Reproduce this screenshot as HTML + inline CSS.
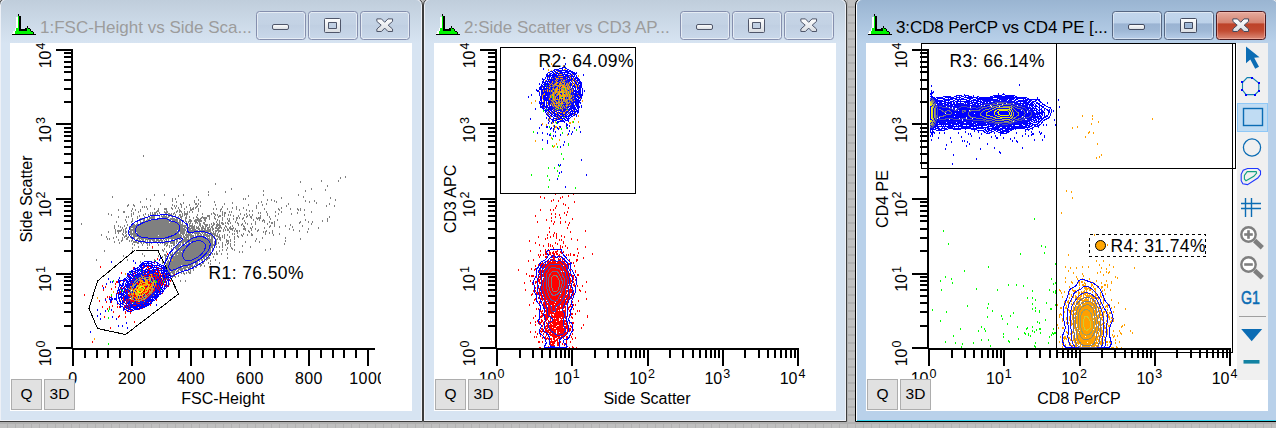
<!DOCTYPE html><html><head><meta charset="utf-8"><title>plots</title><style>
html,body{margin:0;padding:0}
body{width:1276px;height:428px;overflow:hidden;position:relative;
 font-family:"Liberation Sans", sans-serif;
 background-color:#c0c0c0;
 background-image:linear-gradient(to right,transparent 7px,#b1b1b1 7px),linear-gradient(to bottom,transparent 6px,#b1b1b1 6px);
 background-size:8px 8px;}
.win{position:absolute;top:-2px;width:422px;height:422px;border:1px solid #3c3c3c;border-radius:7px 7px 0 0;
 box-shadow:inset 0 0 0 1px #eef1f7;overflow:hidden;
 background:linear-gradient(to bottom,#bfcddb 0px,#d7e4f2 44px,#d7e4f2 100%);}
.win.act{border-color:#000;background:linear-gradient(to bottom,#99b4d1 0px,#b9d1ea 44px,#b9d1ea 100%);
 box-shadow:inset 0 0 0 1px #fff;}
.win.act:after{content:"";position:absolute;left:1px;right:0;bottom:0;height:1px;background:#35d6ee}
.client{position:absolute;left:10px;top:44px;width:402px;height:368px;background:#fff}
.ttl{position:absolute;left:40px;top:17px;font-size:17px;line-height:24px;color:#9c9c9c;white-space:nowrap;
 transform-origin:0 50%;}
.act .ttl{color:#000}
.cb{position:absolute;top:12px;width:48px;height:27px;border:1px solid #858fae;border-radius:3.5px;
 box-shadow:inset 0 0 0 1px rgba(255,255,255,.55);
 background:linear-gradient(to bottom,#c6d4e6 0%,#c3d2e4 45%,#c0cfe2 50%,#c9d8ea 100%);}
.act .cb{border-color:#566783;box-shadow:inset 0 0 0 1px rgba(255,255,255,.45);
 background:linear-gradient(to bottom,#c3d6ec 0%,#bcd1e9 42%,#9ab3d2 43%,#9fb8d6 70%,#b7cde8 100%);}
.act .cb.x{border-color:#4d1a20;box-shadow:inset 0 0 0 1px rgba(255,200,190,.5);
 background:linear-gradient(to bottom,#e5ab9e 0%,#d5826f 42%,#bd4228 43%,#c24b32 70%,#db8a78 100%);}
.pb{position:absolute;top:379px;width:29px;height:29px;border:1px solid #adadad;background:#e1e1e1;
 font-size:15.5px;line-height:28px;text-align:center;color:#000}
svg{position:absolute;left:0;top:0}
</style></head><body>
<div class="win" style="left:-1px">
<div class="client"></div>
<div class="ttl">1:FSC-Height vs Side Sca...</div>
<div class="cb" style="left:256px"></div>
<div class="cb" style="left:308px"></div>
<div class="cb x" style="left:360px"></div>
</div>
<div class="win" style="left:423px">
<div class="client"></div>
<div class="ttl">2:Side Scatter vs CD3 AP...</div>
<div class="cb" style="left:256px"></div>
<div class="cb" style="left:308px"></div>
<div class="cb x" style="left:360px"></div>
</div>
<div class="win act" style="left:855px">
<div class="client"></div>
<div class="ttl" style="letter-spacing:-0.1px">3:CD8 PerCP vs CD4 PE [...</div>
<div class="cb" style="left:256px"></div>
<div class="cb" style="left:308px"></div>
<div class="cb x" style="left:360px"></div>
</div>
<div style="position:absolute;left:1237px;top:43px;width:31px;height:337px;background:#f0f0f0"></div>
<div style="position:absolute;left:1237px;top:103px;width:29px;height:27px;border:1px solid #90c8f6;background:#c0dcf3"></div>
<svg width="1276" height="428" viewBox="0 0 1276 428" font-family='"Liberation Sans", sans-serif' fill="#000">
<defs><linearGradient id="gw" x1="0" y1="0" x2="0" y2="1"><stop offset="0" stop-color="#ffffff"/><stop offset="1" stop-color="#d9dde2"/></linearGradient>
<clipPath id="c0"><rect x="10" y="43" width="402" height="368"/></clipPath>
<clipPath id="c1"><rect x="434" y="43" width="402" height="368"/></clipPath>
<clipPath id="c2"><rect x="866" y="43" width="402" height="368"/></clipPath>
<clipPath id="c0l"><rect x="10" y="43" width="371" height="368"/></clipPath>
</defs>
<g shape-rendering="crispEdges"><rect x="16" y="17" width="2" height="11" fill="#fff"/><rect x="15" y="28" width="1" height="3" fill="#fff"/><rect x="13" y="31" width="2" height="3" fill="#fff"/><rect x="12" y="33" width="1" height="1" fill="#fff"/><rect x="18" y="16" width="1" height="18" fill="#00f400"/><rect x="16" y="28" width="2" height="6" fill="#00f400"/><rect x="15" y="31" width="1" height="3" fill="#00f400"/><rect x="19" y="31" width="12" height="3" fill="#00f400"/><rect x="27" y="28" width="3" height="3" fill="#00f400"/><rect x="31" y="32" width="2" height="2" fill="#00f400"/><rect x="18" y="14" width="1" height="2" fill="#000"/><rect x="19" y="16" width="2" height="15" fill="#000"/><rect x="21" y="29" width="6" height="2" fill="#000"/><rect x="25" y="28" width="2" height="1" fill="#000"/><rect x="27" y="26" width="1" height="2" fill="#000"/><rect x="28" y="28" width="2" height="1" fill="#000"/><rect x="30" y="29" width="1" height="2" fill="#000"/><rect x="31" y="31" width="2" height="1" fill="#000"/><rect x="33" y="32" width="1" height="2" fill="#000"/><rect x="12" y="34" width="24" height="1" fill="#000"/></g>
<rect x="272.5" y="24.5" width="16" height="5" rx="1.5" fill="url(#gw)" stroke="#4f566a" stroke-width="1"/>
<path fill-rule="evenodd" d="M325.5 18.5h14a1 1 0 0 1 1 1v12a1 1 0 0 1 -1 1h-14a1 1 0 0 1 -1 -1v-12a1 1 0 0 1 1 -1z M328.5 22.5v6h8v-6z" fill="url(#gw)" stroke="#4f566a" stroke-width="1"/>
<polygon points="376.85,21.40 376.85,18.90 381.45,18.90 384.70,22.30 387.95,18.90 392.55,18.90 392.55,21.40 388.20,25.20 392.55,29.00 392.55,31.50 387.95,31.50 384.70,28.10 381.45,31.50 376.85,31.50 376.85,29.00 381.20,25.20" fill="url(#gw)" stroke="#4f566a" stroke-width="1" stroke-linejoin="round"/>
<g shape-rendering="crispEdges"><rect x="440" y="17" width="2" height="11" fill="#fff"/><rect x="439" y="28" width="1" height="3" fill="#fff"/><rect x="437" y="31" width="2" height="3" fill="#fff"/><rect x="436" y="33" width="1" height="1" fill="#fff"/><rect x="442" y="16" width="1" height="18" fill="#00f400"/><rect x="440" y="28" width="2" height="6" fill="#00f400"/><rect x="439" y="31" width="1" height="3" fill="#00f400"/><rect x="443" y="31" width="12" height="3" fill="#00f400"/><rect x="451" y="28" width="3" height="3" fill="#00f400"/><rect x="455" y="32" width="2" height="2" fill="#00f400"/><rect x="442" y="14" width="1" height="2" fill="#000"/><rect x="443" y="16" width="2" height="15" fill="#000"/><rect x="445" y="29" width="6" height="2" fill="#000"/><rect x="449" y="28" width="2" height="1" fill="#000"/><rect x="451" y="26" width="1" height="2" fill="#000"/><rect x="452" y="28" width="2" height="1" fill="#000"/><rect x="454" y="29" width="1" height="2" fill="#000"/><rect x="455" y="31" width="2" height="1" fill="#000"/><rect x="457" y="32" width="1" height="2" fill="#000"/><rect x="436" y="34" width="24" height="1" fill="#000"/></g>
<rect x="696.5" y="24.5" width="16" height="5" rx="1.5" fill="url(#gw)" stroke="#4f566a" stroke-width="1"/>
<path fill-rule="evenodd" d="M749.5 18.5h14a1 1 0 0 1 1 1v12a1 1 0 0 1 -1 1h-14a1 1 0 0 1 -1 -1v-12a1 1 0 0 1 1 -1z M752.5 22.5v6h8v-6z" fill="url(#gw)" stroke="#4f566a" stroke-width="1"/>
<polygon points="800.85,21.40 800.85,18.90 805.45,18.90 808.70,22.30 811.95,18.90 816.55,18.90 816.55,21.40 812.20,25.20 816.55,29.00 816.55,31.50 811.95,31.50 808.70,28.10 805.45,31.50 800.85,31.50 800.85,29.00 805.20,25.20" fill="url(#gw)" stroke="#4f566a" stroke-width="1" stroke-linejoin="round"/>
<g shape-rendering="crispEdges"><rect x="872" y="17" width="2" height="11" fill="#fff"/><rect x="871" y="28" width="1" height="3" fill="#fff"/><rect x="869" y="31" width="2" height="3" fill="#fff"/><rect x="868" y="33" width="1" height="1" fill="#fff"/><rect x="874" y="16" width="1" height="18" fill="#00f400"/><rect x="872" y="28" width="2" height="6" fill="#00f400"/><rect x="871" y="31" width="1" height="3" fill="#00f400"/><rect x="875" y="31" width="12" height="3" fill="#00f400"/><rect x="883" y="28" width="3" height="3" fill="#00f400"/><rect x="887" y="32" width="2" height="2" fill="#00f400"/><rect x="874" y="14" width="1" height="2" fill="#000"/><rect x="875" y="16" width="2" height="15" fill="#000"/><rect x="877" y="29" width="6" height="2" fill="#000"/><rect x="881" y="28" width="2" height="1" fill="#000"/><rect x="883" y="26" width="1" height="2" fill="#000"/><rect x="884" y="28" width="2" height="1" fill="#000"/><rect x="886" y="29" width="1" height="2" fill="#000"/><rect x="887" y="31" width="2" height="1" fill="#000"/><rect x="889" y="32" width="1" height="2" fill="#000"/><rect x="868" y="34" width="24" height="1" fill="#000"/></g>
<rect x="1128.5" y="24.5" width="16" height="5" rx="1.5" fill="url(#gw)" stroke="#434b60" stroke-width="1"/>
<path fill-rule="evenodd" d="M1181.5 18.5h14a1 1 0 0 1 1 1v12a1 1 0 0 1 -1 1h-14a1 1 0 0 1 -1 -1v-12a1 1 0 0 1 1 -1z M1184.5 22.5v6h8v-6z" fill="url(#gw)" stroke="#434b60" stroke-width="1"/>
<polygon points="1232.85,21.40 1232.85,18.90 1237.45,18.90 1240.70,22.30 1243.95,18.90 1248.55,18.90 1248.55,21.40 1244.20,25.20 1248.55,29.00 1248.55,31.50 1243.95,31.50 1240.70,28.10 1237.45,31.50 1232.85,31.50 1232.85,29.00 1237.20,25.20" fill="url(#gw)" stroke="#434b60" stroke-width="1" stroke-linejoin="round"/>
<g shape-rendering="crispEdges"><rect x="71" y="49" width="2" height="300"/><rect x="56" y="347" width="17" height="2"/><rect x="64" y="325" width="9" height="2"/><rect x="64" y="311" width="9" height="2"/><rect x="64" y="302" width="9" height="2"/><rect x="64" y="295" width="9" height="2"/><rect x="64" y="289" width="9" height="2"/><rect x="64" y="284" width="9" height="2"/><rect x="64" y="280" width="9" height="2"/><rect x="64" y="276" width="9" height="2"/><rect x="56" y="273" width="17" height="2"/><rect x="64" y="250" width="9" height="2"/><rect x="64" y="237" width="9" height="2"/><rect x="64" y="228" width="9" height="2"/><rect x="64" y="220" width="9" height="2"/><rect x="64" y="215" width="9" height="2"/><rect x="64" y="210" width="9" height="2"/><rect x="64" y="205" width="9" height="2"/><rect x="64" y="201" width="9" height="2"/><rect x="56" y="198" width="17" height="2"/><rect x="64" y="176" width="9" height="2"/><rect x="64" y="162" width="9" height="2"/><rect x="64" y="153" width="9" height="2"/><rect x="64" y="146" width="9" height="2"/><rect x="64" y="140" width="9" height="2"/><rect x="64" y="135" width="9" height="2"/><rect x="64" y="131" width="9" height="2"/><rect x="64" y="127" width="9" height="2"/><rect x="56" y="123" width="17" height="2"/><rect x="64" y="101" width="9" height="2"/><rect x="64" y="88" width="9" height="2"/><rect x="64" y="79" width="9" height="2"/><rect x="64" y="71" width="9" height="2"/><rect x="64" y="66" width="9" height="2"/><rect x="64" y="61" width="9" height="2"/><rect x="64" y="56" width="9" height="2"/><rect x="64" y="52" width="9" height="2"/><rect x="56" y="49" width="17" height="2"/><rect x="72" y="348" width="303" height="2"/><rect x="72" y="348" width="2" height="18"/><rect x="84" y="348" width="2" height="10"/><rect x="96" y="348" width="2" height="10"/><rect x="107" y="348" width="2" height="10"/><rect x="119" y="348" width="2" height="10"/><rect x="131" y="348" width="2" height="18"/><rect x="143" y="348" width="2" height="10"/><rect x="155" y="348" width="2" height="10"/><rect x="166" y="348" width="2" height="10"/><rect x="178" y="348" width="2" height="10"/><rect x="190" y="348" width="2" height="18"/><rect x="202" y="348" width="2" height="10"/><rect x="214" y="348" width="2" height="10"/><rect x="225" y="348" width="2" height="10"/><rect x="237" y="348" width="2" height="10"/><rect x="249" y="348" width="2" height="18"/><rect x="261" y="348" width="2" height="10"/><rect x="273" y="348" width="2" height="10"/><rect x="284" y="348" width="2" height="10"/><rect x="296" y="348" width="2" height="10"/><rect x="308" y="348" width="2" height="18"/><rect x="320" y="348" width="2" height="10"/><rect x="332" y="348" width="2" height="10"/><rect x="343" y="348" width="2" height="10"/><rect x="355" y="348" width="2" height="10"/><rect x="367" y="348" width="2" height="18"/></g>
<g clip-path="url(#c0l)"><text transform="translate(51,348.5) rotate(-90)" text-anchor="end" font-size="16">10</text><text transform="translate(45,347.5) rotate(-90)" text-anchor="start" font-size="12.5">0</text><text transform="translate(51,274.0) rotate(-90)" text-anchor="end" font-size="16">10</text><text transform="translate(45,273.0) rotate(-90)" text-anchor="start" font-size="12.5">1</text><text transform="translate(51,199.5) rotate(-90)" text-anchor="end" font-size="16">10</text><text transform="translate(45,198.5) rotate(-90)" text-anchor="start" font-size="12.5">2</text><text transform="translate(51,125.0) rotate(-90)" text-anchor="end" font-size="16">10</text><text transform="translate(45,124.0) rotate(-90)" text-anchor="start" font-size="12.5">3</text><text transform="translate(51,50.5) rotate(-90)" text-anchor="end" font-size="16">10</text><text transform="translate(45,49.5) rotate(-90)" text-anchor="start" font-size="12.5">4</text><text x="73.0" y="383.5" text-anchor="middle" font-size="16" letter-spacing="0.4">0</text><text x="132.0" y="383.5" text-anchor="middle" font-size="16" letter-spacing="0.4">200</text><text x="191.0" y="383.5" text-anchor="middle" font-size="16" letter-spacing="0.4">400</text><text x="249.9" y="383.5" text-anchor="middle" font-size="16" letter-spacing="0.4">600</text><text x="308.9" y="383.5" text-anchor="middle" font-size="16" letter-spacing="0.4">800</text><text x="367.9" y="383.5" text-anchor="middle" font-size="16" letter-spacing="0.4">1000</text></g>
<text x="223" y="403.5" text-anchor="middle" font-size="16">FSC-Height</text>
<text transform="translate(31.5,199) rotate(-90)" text-anchor="middle" font-size="16">Side Scatter</text>
<g shape-rendering="crispEdges"><rect x="495" y="49" width="2" height="300"/><rect x="480" y="347" width="17" height="2"/><rect x="488" y="325" width="9" height="2"/><rect x="488" y="311" width="9" height="2"/><rect x="488" y="302" width="9" height="2"/><rect x="488" y="295" width="9" height="2"/><rect x="488" y="289" width="9" height="2"/><rect x="488" y="284" width="9" height="2"/><rect x="488" y="280" width="9" height="2"/><rect x="488" y="276" width="9" height="2"/><rect x="480" y="273" width="17" height="2"/><rect x="488" y="250" width="9" height="2"/><rect x="488" y="237" width="9" height="2"/><rect x="488" y="228" width="9" height="2"/><rect x="488" y="220" width="9" height="2"/><rect x="488" y="215" width="9" height="2"/><rect x="488" y="210" width="9" height="2"/><rect x="488" y="205" width="9" height="2"/><rect x="488" y="201" width="9" height="2"/><rect x="480" y="198" width="17" height="2"/><rect x="488" y="176" width="9" height="2"/><rect x="488" y="162" width="9" height="2"/><rect x="488" y="153" width="9" height="2"/><rect x="488" y="146" width="9" height="2"/><rect x="488" y="140" width="9" height="2"/><rect x="488" y="135" width="9" height="2"/><rect x="488" y="131" width="9" height="2"/><rect x="488" y="127" width="9" height="2"/><rect x="480" y="123" width="17" height="2"/><rect x="488" y="101" width="9" height="2"/><rect x="488" y="88" width="9" height="2"/><rect x="488" y="79" width="9" height="2"/><rect x="488" y="71" width="9" height="2"/><rect x="488" y="66" width="9" height="2"/><rect x="488" y="61" width="9" height="2"/><rect x="488" y="56" width="9" height="2"/><rect x="488" y="52" width="9" height="2"/><rect x="480" y="49" width="17" height="2"/><rect x="496" y="348" width="303" height="2"/><rect x="496" y="348" width="2" height="18"/><rect x="519" y="348" width="2" height="10"/><rect x="532" y="348" width="2" height="10"/><rect x="541" y="348" width="2" height="10"/><rect x="549" y="348" width="2" height="10"/><rect x="555" y="348" width="2" height="10"/><rect x="560" y="348" width="2" height="10"/><rect x="564" y="348" width="2" height="10"/><rect x="568" y="348" width="2" height="10"/><rect x="571" y="348" width="2" height="18"/><rect x="594" y="348" width="2" height="10"/><rect x="607" y="348" width="2" height="10"/><rect x="617" y="348" width="2" height="10"/><rect x="624" y="348" width="2" height="10"/><rect x="630" y="348" width="2" height="10"/><rect x="635" y="348" width="2" height="10"/><rect x="639" y="348" width="2" height="10"/><rect x="643" y="348" width="2" height="10"/><rect x="647" y="348" width="2" height="18"/><rect x="669" y="348" width="2" height="10"/><rect x="682" y="348" width="2" height="10"/><rect x="692" y="348" width="2" height="10"/><rect x="699" y="348" width="2" height="10"/><rect x="705" y="348" width="2" height="10"/><rect x="710" y="348" width="2" height="10"/><rect x="714" y="348" width="2" height="10"/><rect x="718" y="348" width="2" height="10"/><rect x="722" y="348" width="2" height="18"/><rect x="744" y="348" width="2" height="10"/><rect x="758" y="348" width="2" height="10"/><rect x="767" y="348" width="2" height="10"/><rect x="774" y="348" width="2" height="10"/><rect x="780" y="348" width="2" height="10"/><rect x="785" y="348" width="2" height="10"/><rect x="790" y="348" width="2" height="10"/><rect x="794" y="348" width="2" height="10"/><rect x="797" y="348" width="2" height="18"/></g>
<text transform="translate(475,348.5) rotate(-90)" text-anchor="end" font-size="16">10</text><text transform="translate(469,347.5) rotate(-90)" text-anchor="start" font-size="12.5">0</text><text transform="translate(475,274.0) rotate(-90)" text-anchor="end" font-size="16">10</text><text transform="translate(469,273.0) rotate(-90)" text-anchor="start" font-size="12.5">1</text><text transform="translate(475,199.5) rotate(-90)" text-anchor="end" font-size="16">10</text><text transform="translate(469,198.5) rotate(-90)" text-anchor="start" font-size="12.5">2</text><text transform="translate(475,125.0) rotate(-90)" text-anchor="end" font-size="16">10</text><text transform="translate(469,124.0) rotate(-90)" text-anchor="start" font-size="12.5">3</text><text transform="translate(475,50.5) rotate(-90)" text-anchor="end" font-size="16">10</text><text transform="translate(469,49.5) rotate(-90)" text-anchor="start" font-size="12.5">4</text><text x="496.5" y="384" text-anchor="end" font-size="16">10</text><text x="497.5" y="377.8" text-anchor="start" font-size="12.5">0</text><text x="571.8" y="384" text-anchor="end" font-size="16">10</text><text x="572.8" y="377.8" text-anchor="start" font-size="12.5">1</text><text x="647.0" y="384" text-anchor="end" font-size="16">10</text><text x="648.0" y="377.8" text-anchor="start" font-size="12.5">2</text><text x="722.2" y="384" text-anchor="end" font-size="16">10</text><text x="723.2" y="377.8" text-anchor="start" font-size="12.5">3</text><text x="797.5" y="384" text-anchor="end" font-size="16">10</text><text x="798.5" y="377.8" text-anchor="start" font-size="12.5">4</text>
<text x="647" y="403.5" text-anchor="middle" font-size="16">Side Scatter</text>
<text transform="translate(455.5,199) rotate(-90)" text-anchor="middle" font-size="16">CD3 APC</text>
<g shape-rendering="crispEdges"><rect x="927" y="49" width="2" height="300"/><rect x="912" y="347" width="17" height="2"/><rect x="920" y="325" width="9" height="2"/><rect x="920" y="311" width="9" height="2"/><rect x="920" y="302" width="9" height="2"/><rect x="920" y="295" width="9" height="2"/><rect x="920" y="289" width="9" height="2"/><rect x="920" y="284" width="9" height="2"/><rect x="920" y="280" width="9" height="2"/><rect x="920" y="276" width="9" height="2"/><rect x="912" y="273" width="17" height="2"/><rect x="920" y="250" width="9" height="2"/><rect x="920" y="237" width="9" height="2"/><rect x="920" y="228" width="9" height="2"/><rect x="920" y="220" width="9" height="2"/><rect x="920" y="215" width="9" height="2"/><rect x="920" y="210" width="9" height="2"/><rect x="920" y="205" width="9" height="2"/><rect x="920" y="201" width="9" height="2"/><rect x="912" y="198" width="17" height="2"/><rect x="920" y="176" width="9" height="2"/><rect x="920" y="162" width="9" height="2"/><rect x="920" y="153" width="9" height="2"/><rect x="920" y="146" width="9" height="2"/><rect x="920" y="140" width="9" height="2"/><rect x="920" y="135" width="9" height="2"/><rect x="920" y="131" width="9" height="2"/><rect x="920" y="127" width="9" height="2"/><rect x="912" y="123" width="17" height="2"/><rect x="920" y="101" width="9" height="2"/><rect x="920" y="88" width="9" height="2"/><rect x="920" y="79" width="9" height="2"/><rect x="920" y="71" width="9" height="2"/><rect x="920" y="66" width="9" height="2"/><rect x="920" y="61" width="9" height="2"/><rect x="920" y="56" width="9" height="2"/><rect x="920" y="52" width="9" height="2"/><rect x="912" y="49" width="17" height="2"/><rect x="928" y="348" width="303" height="2"/><rect x="928" y="348" width="2" height="18"/><rect x="951" y="348" width="2" height="10"/><rect x="964" y="348" width="2" height="10"/><rect x="973" y="348" width="2" height="10"/><rect x="981" y="348" width="2" height="10"/><rect x="987" y="348" width="2" height="10"/><rect x="992" y="348" width="2" height="10"/><rect x="996" y="348" width="2" height="10"/><rect x="1000" y="348" width="2" height="10"/><rect x="1003" y="348" width="2" height="18"/><rect x="1026" y="348" width="2" height="10"/><rect x="1039" y="348" width="2" height="10"/><rect x="1049" y="348" width="2" height="10"/><rect x="1056" y="348" width="2" height="10"/><rect x="1062" y="348" width="2" height="10"/><rect x="1067" y="348" width="2" height="10"/><rect x="1071" y="348" width="2" height="10"/><rect x="1075" y="348" width="2" height="10"/><rect x="1079" y="348" width="2" height="18"/><rect x="1101" y="348" width="2" height="10"/><rect x="1114" y="348" width="2" height="10"/><rect x="1124" y="348" width="2" height="10"/><rect x="1131" y="348" width="2" height="10"/><rect x="1137" y="348" width="2" height="10"/><rect x="1142" y="348" width="2" height="10"/><rect x="1146" y="348" width="2" height="10"/><rect x="1150" y="348" width="2" height="10"/><rect x="1154" y="348" width="2" height="18"/><rect x="1176" y="348" width="2" height="10"/><rect x="1190" y="348" width="2" height="10"/><rect x="1199" y="348" width="2" height="10"/><rect x="1206" y="348" width="2" height="10"/><rect x="1212" y="348" width="2" height="10"/><rect x="1217" y="348" width="2" height="10"/><rect x="1222" y="348" width="2" height="10"/><rect x="1226" y="348" width="2" height="10"/><rect x="1229" y="348" width="2" height="18"/></g>
<text transform="translate(907,348.5) rotate(-90)" text-anchor="end" font-size="16">10</text><text transform="translate(901,347.5) rotate(-90)" text-anchor="start" font-size="12.5">0</text><text transform="translate(907,274.0) rotate(-90)" text-anchor="end" font-size="16">10</text><text transform="translate(901,273.0) rotate(-90)" text-anchor="start" font-size="12.5">1</text><text transform="translate(907,199.5) rotate(-90)" text-anchor="end" font-size="16">10</text><text transform="translate(901,198.5) rotate(-90)" text-anchor="start" font-size="12.5">2</text><text transform="translate(907,125.0) rotate(-90)" text-anchor="end" font-size="16">10</text><text transform="translate(901,124.0) rotate(-90)" text-anchor="start" font-size="12.5">3</text><text transform="translate(907,50.5) rotate(-90)" text-anchor="end" font-size="16">10</text><text transform="translate(901,49.5) rotate(-90)" text-anchor="start" font-size="12.5">4</text><text x="928.5" y="384" text-anchor="end" font-size="16">10</text><text x="929.5" y="377.8" text-anchor="start" font-size="12.5">0</text><text x="1003.8" y="384" text-anchor="end" font-size="16">10</text><text x="1004.8" y="377.8" text-anchor="start" font-size="12.5">1</text><text x="1079.0" y="384" text-anchor="end" font-size="16">10</text><text x="1080.0" y="377.8" text-anchor="start" font-size="12.5">2</text><text x="1154.2" y="384" text-anchor="end" font-size="16">10</text><text x="1155.2" y="377.8" text-anchor="start" font-size="12.5">3</text><text x="1229.5" y="384" text-anchor="end" font-size="16">10</text><text x="1230.5" y="377.8" text-anchor="start" font-size="12.5">4</text>
<text x="1079" y="403.5" text-anchor="middle" font-size="16">CD8 PerCP</text>
<text transform="translate(887.5,199) rotate(-90)" text-anchor="middle" font-size="16">CD4 PE</text>
<g shape-rendering="crispEdges"><path d="M143 155.5h1M143 156.5h1M345 176.5h1M340 177.5h1M345 177.5h1M340 178.5h1M321 180.5h1M338 180.5h1M300 181.5h1M321 181.5h1M338 181.5h1M300 182.5h1M215 183.5h1M215 184.5h1M327 185.5h1M327 186.5h1M231 188.5h1M311 188.5h1M231 189.5h1M311 189.5h1M325 189.5h1M263 190.5h1M305 190.5h1M325 190.5h1M208 191.5h1M225 191.5h1M263 191.5h1M305 191.5h1M208 192.5h1M225 192.5h1M154 194.5h1M164 194.5h1M183 194.5h1M208 194.5h1M263 194.5h1M298 194.5h1M154 195.5h1M164 195.5h1M178 195.5h1M183 195.5h1M208 195.5h1M248 195.5h1M263 195.5h1M298 195.5h1M112 196.5h1M178 196.5h1M196 196.5h1M248 196.5h1M303 196.5h1M112 197.5h1M196 197.5h1M281 197.5h1M303 197.5h1M330 197.5h1M146 198.5h1M172 198.5h1M175 198.5h1M243 198.5h1M245 198.5h1M281 198.5h1M330 198.5h1M146 199.5h1M150 199.5h1M172 199.5h1M175 199.5h1M198 199.5h1M243 199.5h1M245 199.5h1M267 199.5h1M271 199.5h1M335 199.5h1M150 200.5h1M172 200.5h1M194 200.5h1M198 200.5h1M267 200.5h1M271 200.5h1M274 200.5h1M305 200.5h1M314 200.5h1M335 200.5h1M140 201.5h1M172 201.5h1M176 201.5h1M194 201.5h1M200 201.5h1M214 201.5h1M261 201.5h1M274 201.5h1M276 201.5h1M305 201.5h1M309 201.5h1M314 201.5h1M140 202.5h1M176 202.5h1M183 202.5h1M194 202.5h1M200 202.5h1M214 202.5h1M232 202.5h1M258 202.5h1M261 202.5h1M276 202.5h1M309 202.5h1M316 202.5h1M160 203.5h1M180 203.5h1M183 203.5h1M195 203.5h2M198 203.5h1M224 203.5h1M232 203.5h1M258 203.5h1M266 203.5h1M288 203.5h1M316 203.5h1M329 203.5h1M128 204.5h1M133 204.5h1M160 204.5h1M172 204.5h1M180 204.5h2M189 204.5h1M195 204.5h2M198 204.5h1M215 204.5h1M224 204.5h1M248 204.5h1M262 204.5h1M266 204.5h1M288 204.5h1M329 204.5h1M127 205.5h2M133 205.5h2M150 205.5h1M172 205.5h1M174 205.5h1M176 205.5h1M181 205.5h1M189 205.5h1M197 205.5h1M200 205.5h1M215 205.5h1M248 205.5h1M256 205.5h1M262 205.5h1M286 205.5h1M326 205.5h1M334 205.5h1M127 206.5h1M134 206.5h1M142 206.5h1M144 206.5h1M146 206.5h1M150 206.5h1M174 206.5h1M176 206.5h1M181 206.5h1M186 206.5h1M196 206.5h2M200 206.5h1M222 206.5h1M236 206.5h1M256 206.5h1M286 206.5h1M326 206.5h1M334 206.5h1M142 207.5h1M144 207.5h1M146 207.5h1M171 207.5h1M175 207.5h1M178 207.5h1M181 207.5h1M186 207.5h1M190 207.5h1M193 207.5h1M195 207.5h2M222 207.5h1M232 207.5h1M236 207.5h1M243 207.5h1M256 207.5h1M281 207.5h1M132 208.5h1M147 208.5h1M154 208.5h1M158 208.5h1M164 208.5h3M171 208.5h2M175 208.5h1M178 208.5h1M184 208.5h1M190 208.5h1M192 208.5h2M195 208.5h1M198 208.5h1M213 208.5h1M216 208.5h1M221 208.5h1M227 208.5h1M232 208.5h1M236 208.5h1M243 208.5h1M256 208.5h1M264 208.5h1M278 208.5h1M281 208.5h1M290 208.5h1M297 208.5h1M300 208.5h1M118 209.5h1M132 209.5h1M135 209.5h1M140 209.5h1M147 209.5h1M154 209.5h1M158 209.5h1M164 209.5h3M172 209.5h1M179 209.5h1M184 209.5h1M190 209.5h4M198 209.5h1M213 209.5h1M216 209.5h1M220 209.5h2M227 209.5h1M236 209.5h1M239 209.5h1M246 209.5h1M264 209.5h1M278 209.5h2M290 209.5h1M297 209.5h2M300 209.5h1M304 209.5h1M118 210.5h1M131 210.5h1M135 210.5h1M140 210.5h1M157 210.5h2M166 210.5h1M177 210.5h1M179 210.5h2M190 210.5h2M198 210.5h1M220 210.5h1M239 210.5h1M246 210.5h1M249 210.5h1M252 210.5h1M279 210.5h1M298 210.5h1M300 210.5h1M304 210.5h1M123 211.5h2M131 211.5h1M138 211.5h1M140 211.5h1M156 211.5h3M164 211.5h1M166 211.5h2M176 211.5h2M179 211.5h3M184 211.5h1M187 211.5h1M189 211.5h1M192 211.5h1M198 211.5h1M220 211.5h1M222 211.5h1M229 211.5h1M231 211.5h1M249 211.5h1M252 211.5h1M266 211.5h1M275 211.5h1M281 211.5h1M311 211.5h1M123 212.5h2M133 212.5h1M138 212.5h1M150 212.5h1M152 212.5h1M154 212.5h3M159 212.5h1M164 212.5h4M174 212.5h1M176 212.5h1M179 212.5h1M181 212.5h1M184 212.5h1M187 212.5h1M189 212.5h1M192 212.5h1M213 212.5h1M222 212.5h1M224 212.5h2M229 212.5h1M231 212.5h1M258 212.5h1M260 212.5h1M266 212.5h1M275 212.5h1M281 212.5h1M297 212.5h1M311 212.5h1M108 213.5h1M131 213.5h1M133 213.5h1M145 213.5h1M150 213.5h1M152 213.5h1M154 213.5h2M157 213.5h1M159 213.5h1M165 213.5h2M168 213.5h2M171 213.5h1M173 213.5h2M182 213.5h1M184 213.5h4M202 213.5h1M211 213.5h1M213 213.5h2M222 213.5h1M224 213.5h2M240 213.5h1M246 213.5h1M258 213.5h1M260 213.5h1M267 213.5h1M278 213.5h1M291 213.5h1M297 213.5h1M108 214.5h1M111 214.5h1M131 214.5h1M133 214.5h1M143 214.5h1M145 214.5h1M148 214.5h1M150 214.5h1M152 214.5h4M157 214.5h1M164 214.5h3M168 214.5h4M173 214.5h1M175 214.5h1M179 214.5h2M182 214.5h1M184 214.5h4M197 214.5h1M202 214.5h1M211 214.5h1M214 214.5h2M217 214.5h1M222 214.5h1M224 214.5h1M228 214.5h1M230 214.5h1M240 214.5h1M244 214.5h1M246 214.5h1M249 214.5h1M252 214.5h1M267 214.5h1M278 214.5h1M291 214.5h1M304 214.5h1M111 215.5h1M131 215.5h1M139 215.5h1M143 215.5h1M148 215.5h1M150 215.5h5M161 215.5h1M163 215.5h2M166 215.5h1M168 215.5h5M175 215.5h1M179 215.5h2M182 215.5h1M184 215.5h1M186 215.5h1M197 215.5h1M207 215.5h3M215 215.5h1M217 215.5h1M219 215.5h2M222 215.5h1M224 215.5h1M228 215.5h1M230 215.5h1M233 215.5h1M238 215.5h1M244 215.5h1M247 215.5h1M249 215.5h1M252 215.5h1M260 215.5h1M267 215.5h1M275 215.5h1M304 215.5h1M118 216.5h1M126 216.5h1M128 216.5h1M131 216.5h1M137 216.5h1M139 216.5h1M144 216.5h1M149 216.5h1M151 216.5h4M159 216.5h1M161 216.5h6M168 216.5h2M171 216.5h2M175 216.5h1M178 216.5h1M180 216.5h3M186 216.5h1M189 216.5h1M196 216.5h1M202 216.5h1M207 216.5h3M214 216.5h1M218 216.5h3M224 216.5h1M233 216.5h1M238 216.5h1M246 216.5h2M250 216.5h2M260 216.5h1M269 216.5h1M275 216.5h1M329 216.5h1M118 217.5h1M126 217.5h1M128 217.5h1M137 217.5h1M144 217.5h1M147 217.5h1M149 217.5h6M159 217.5h1M162 217.5h7M172 217.5h1M175 217.5h2M178 217.5h1M180 217.5h2M185 217.5h2M189 217.5h1M193 217.5h1M196 217.5h2M201 217.5h6M209 217.5h1M214 217.5h1M218 217.5h1M222 217.5h1M236 217.5h2M239 217.5h1M243 217.5h1M246 217.5h1M250 217.5h2M256 217.5h1M258 217.5h3M269 217.5h1M329 217.5h1M132 218.5h1M137 218.5h1M140 218.5h3M144 218.5h1M147 218.5h1M149 218.5h6M157 218.5h11M170 218.5h5M176 218.5h3M181 218.5h1M185 218.5h2M193 218.5h1M197 218.5h2M200 218.5h2M203 218.5h4M209 218.5h1M214 218.5h2M222 218.5h1M227 218.5h1M229 218.5h1M233 218.5h1M236 218.5h2M239 218.5h1M242 218.5h2M251 218.5h1M256 218.5h5M270 218.5h1M327 218.5h1M125 219.5h1M132 219.5h1M140 219.5h5M147 219.5h3M151 219.5h4M156 219.5h12M169 219.5h9M179 219.5h3M185 219.5h1M189 219.5h2M195 219.5h6M204 219.5h2M209 219.5h1M215 219.5h1M217 219.5h1M222 219.5h1M227 219.5h1M229 219.5h1M233 219.5h1M236 219.5h1M242 219.5h1M253 219.5h1M257 219.5h1M259 219.5h1M263 219.5h1M270 219.5h1M277 219.5h1M305 219.5h1M327 219.5h1M125 220.5h1M132 220.5h1M140 220.5h1M143 220.5h2M146 220.5h24M172 220.5h6M179 220.5h2M183 220.5h1M185 220.5h1M189 220.5h3M194 220.5h8M204 220.5h2M217 220.5h1M219 220.5h1M222 220.5h1M228 220.5h2M236 220.5h1M244 220.5h1M253 220.5h1M259 220.5h1M262 220.5h3M277 220.5h1M305 220.5h1M322 220.5h1M327 220.5h1M116 221.5h1M126 221.5h1M131 221.5h2M140 221.5h1M143 221.5h2M146 221.5h1M148 221.5h30M179 221.5h2M182 221.5h2M185 221.5h2M188 221.5h4M194 221.5h3M198 221.5h4M205 221.5h1M216 221.5h1M219 221.5h1M228 221.5h2M235 221.5h1M244 221.5h1M255 221.5h1M262 221.5h1M264 221.5h1M269 221.5h1M274 221.5h1M300 221.5h1M308 221.5h1M312 221.5h1M322 221.5h1M327 221.5h1M116 222.5h1M126 222.5h1M131 222.5h1M137 222.5h1M140 222.5h29M170 222.5h11M182 222.5h1M186 222.5h1M188 222.5h1M190 222.5h1M195 222.5h3M199 222.5h1M203 222.5h2M213 222.5h1M216 222.5h1M219 222.5h1M221 222.5h2M225 222.5h1M227 222.5h1M230 222.5h1M235 222.5h1M237 222.5h1M245 222.5h1M255 222.5h1M264 222.5h1M269 222.5h1M271 222.5h2M274 222.5h1M299 222.5h2M308 222.5h1M312 222.5h1M81 223.5h1M137 223.5h1M140 223.5h41M182 223.5h1M187 223.5h1M189 223.5h2M192 223.5h1M195 223.5h1M197 223.5h1M199 223.5h2M203 223.5h2M211 223.5h1M213 223.5h2M217 223.5h1M219 223.5h1M221 223.5h3M225 223.5h1M227 223.5h2M230 223.5h1M237 223.5h2M242 223.5h1M245 223.5h1M247 223.5h1M251 223.5h1M255 223.5h1M267 223.5h1M271 223.5h2M274 223.5h1M299 223.5h1M311 223.5h1M81 224.5h1M127 224.5h1M132 224.5h3M136 224.5h3M140 224.5h43M186 224.5h2M189 224.5h1M192 224.5h1M199 224.5h2M204 224.5h4M209 224.5h1M211 224.5h1M213 224.5h2M216 224.5h4M222 224.5h2M228 224.5h1M238 224.5h1M241 224.5h2M247 224.5h1M251 224.5h1M255 224.5h1M267 224.5h1M274 224.5h1M290 224.5h1M311 224.5h1M114 225.5h1M118 225.5h1M124 225.5h1M127 225.5h1M132 225.5h56M189 225.5h4M194 225.5h1M199 225.5h2M202 225.5h1M205 225.5h3M209 225.5h1M212 225.5h2M216 225.5h5M225 225.5h1M232 225.5h1M238 225.5h1M241 225.5h1M243 225.5h1M270 225.5h1M274 225.5h1M285 225.5h1M290 225.5h1M302 225.5h1M114 226.5h1M118 226.5h1M120 226.5h1M124 226.5h1M129 226.5h1M131 226.5h55M187 226.5h1M189 226.5h6M196 226.5h1M198 226.5h1M200 226.5h1M202 226.5h2M205 226.5h2M209 226.5h1M211 226.5h2M216 226.5h2M219 226.5h2M225 226.5h2M230 226.5h1M232 226.5h1M243 226.5h2M252 226.5h1M269 226.5h2M274 226.5h1M279 226.5h1M285 226.5h1M292 226.5h1M302 226.5h1M114 227.5h1M120 227.5h1M122 227.5h1M126 227.5h1M129 227.5h54M184 227.5h4M189 227.5h1M191 227.5h4M196 227.5h3M201 227.5h3M205 227.5h1M207 227.5h3M211 227.5h2M215 227.5h2M218 227.5h4M224 227.5h1M226 227.5h1M229 227.5h2M233 227.5h1M244 227.5h1M250 227.5h1M252 227.5h1M264 227.5h1M269 227.5h1M279 227.5h1M292 227.5h1M318 227.5h1M114 228.5h1M122 228.5h1M125 228.5h2M129 228.5h2M133 228.5h52M186 228.5h9M196 228.5h4M201 228.5h5M207 228.5h2M210 228.5h1M212 228.5h2M215 228.5h5M221 228.5h1M224 228.5h1M227 228.5h1M229 228.5h5M235 228.5h1M243 228.5h3M250 228.5h2M255 228.5h1M264 228.5h1M289 228.5h1M308 228.5h1M318 228.5h1M115 229.5h1M121 229.5h1M123 229.5h1M125 229.5h1M130 229.5h5M136 229.5h50M187 229.5h4M192 229.5h4M198 229.5h2M201 229.5h2M204 229.5h2M207 229.5h4M212 229.5h2M217 229.5h2M223 229.5h1M225 229.5h1M227 229.5h2M230 229.5h3M235 229.5h1M243 229.5h3M251 229.5h1M255 229.5h1M258 229.5h1M289 229.5h1M293 229.5h1M308 229.5h1M115 230.5h1M117 230.5h5M123 230.5h1M125 230.5h1M130 230.5h5M136 230.5h41M178 230.5h8M187 230.5h11M199 230.5h12M212 230.5h1M215 230.5h6M223 230.5h1M225 230.5h1M227 230.5h2M232 230.5h1M234 230.5h1M236 230.5h2M239 230.5h1M245 230.5h1M248 230.5h1M251 230.5h1M257 230.5h2M266 230.5h1M272 230.5h1M293 230.5h1M299 230.5h1M108 231.5h1M115 231.5h1M117 231.5h4M123 231.5h1M125 231.5h2M129 231.5h3M133 231.5h2M136 231.5h49M186 231.5h25M213 231.5h1M215 231.5h2M218 231.5h3M223 231.5h1M229 231.5h1M234 231.5h1M236 231.5h2M239 231.5h1M248 231.5h2M257 231.5h1M263 231.5h1M265 231.5h2M272 231.5h1M299 231.5h1M307 231.5h1M108 232.5h1M115 232.5h1M118 232.5h1M123 232.5h1M125 232.5h2M128 232.5h4M133 232.5h3M137 232.5h42M180 232.5h5M186 232.5h2M189 232.5h2M192 232.5h1M194 232.5h6M201 232.5h6M208 232.5h1M210 232.5h2M213 232.5h1M215 232.5h1M218 232.5h1M229 232.5h1M237 232.5h1M249 232.5h1M263 232.5h1M265 232.5h1M269 232.5h1M272 232.5h1M307 232.5h1M115 233.5h1M118 233.5h1M122 233.5h1M125 233.5h1M128 233.5h1M130 233.5h6M137 233.5h42M180 233.5h5M186 233.5h1M188 233.5h3M192 233.5h1M194 233.5h7M202 233.5h1M204 233.5h2M207 233.5h2M210 233.5h6M217 233.5h1M232 233.5h1M234 233.5h1M237 233.5h1M243 233.5h1M251 233.5h1M265 233.5h1M269 233.5h1M272 233.5h1M279 233.5h1M101 234.5h1M122 234.5h2M126 234.5h1M128 234.5h1M130 234.5h51M182 234.5h2M185 234.5h7M195 234.5h1M197 234.5h2M200 234.5h2M203 234.5h5M209 234.5h7M217 234.5h1M219 234.5h1M224 234.5h1M227 234.5h1M232 234.5h1M234 234.5h1M241 234.5h1M243 234.5h1M247 234.5h1M251 234.5h2M265 234.5h1M273 234.5h1M279 234.5h1M101 235.5h1M123 235.5h1M125 235.5h2M131 235.5h1M133 235.5h25M159 235.5h23M183 235.5h1M185 235.5h9M195 235.5h1M197 235.5h5M203 235.5h10M214 235.5h4M219 235.5h1M222 235.5h1M224 235.5h1M227 235.5h1M237 235.5h1M241 235.5h2M247 235.5h1M251 235.5h2M273 235.5h1M106 236.5h1M116 236.5h1M124 236.5h3M128 236.5h1M130 236.5h2M133 236.5h49M183 236.5h2M186 236.5h3M190 236.5h4M195 236.5h7M203 236.5h2M206 236.5h4M211 236.5h4M216 236.5h4M222 236.5h1M224 236.5h1M229 236.5h1M234 236.5h1M237 236.5h2M242 236.5h1M106 237.5h1M113 237.5h1M116 237.5h1M122 237.5h1M124 237.5h1M127 237.5h2M130 237.5h2M133 237.5h2M138 237.5h44M183 237.5h6M190 237.5h15M207 237.5h1M209 237.5h1M211 237.5h4M218 237.5h3M222 237.5h1M224 237.5h1M229 237.5h1M234 237.5h1M238 237.5h1M262 237.5h1M285 237.5h1M107 238.5h1M109 238.5h1M113 238.5h1M122 238.5h1M126 238.5h2M131 238.5h1M134 238.5h1M137 238.5h20M158 238.5h23M182 238.5h1M184 238.5h3M188 238.5h1M190 238.5h20M211 238.5h2M214 238.5h2M217 238.5h1M219 238.5h2M224 238.5h1M234 238.5h1M256 238.5h1M262 238.5h1M285 238.5h1M300 238.5h1M107 239.5h1M109 239.5h1M118 239.5h1M122 239.5h1M126 239.5h2M132 239.5h1M136 239.5h2M139 239.5h1M141 239.5h3M145 239.5h10M156 239.5h3M160 239.5h2M163 239.5h1M165 239.5h2M168 239.5h1M171 239.5h2M174 239.5h1M176 239.5h2M179 239.5h2M182 239.5h31M215 239.5h3M219 239.5h2M226 239.5h1M230 239.5h1M234 239.5h1M256 239.5h1M300 239.5h1M118 240.5h1M121 240.5h2M129 240.5h1M131 240.5h2M135 240.5h6M142 240.5h2M145 240.5h1M147 240.5h1M149 240.5h2M152 240.5h3M156 240.5h7M164 240.5h1M166 240.5h1M168 240.5h1M171 240.5h4M176 240.5h2M181 240.5h32M215 240.5h2M220 240.5h1M226 240.5h3M230 240.5h1M255 240.5h1M285 240.5h1M114 241.5h1M121 241.5h1M129 241.5h1M131 241.5h1M133 241.5h4M138 241.5h8M147 241.5h1M149 241.5h2M153 241.5h4M158 241.5h2M161 241.5h2M164 241.5h2M167 241.5h2M171 241.5h4M176 241.5h2M179 241.5h1M181 241.5h12M194 241.5h19M214 241.5h1M216 241.5h1M226 241.5h3M230 241.5h1M234 241.5h1M245 241.5h1M255 241.5h1M259 241.5h1M285 241.5h1M114 242.5h1M119 242.5h1M133 242.5h6M140 242.5h2M143 242.5h2M146 242.5h2M149 242.5h3M153 242.5h1M155 242.5h3M160 242.5h3M164 242.5h5M170 242.5h5M176 242.5h1M178 242.5h6M185 242.5h5M191 242.5h22M214 242.5h1M216 242.5h1M218 242.5h1M222 242.5h1M226 242.5h1M228 242.5h1M234 242.5h1M245 242.5h1M259 242.5h1M119 243.5h1M132 243.5h1M137 243.5h2M141 243.5h1M143 243.5h1M146 243.5h2M149 243.5h1M151 243.5h1M157 243.5h1M160 243.5h1M162 243.5h1M164 243.5h4M170 243.5h5M176 243.5h1M178 243.5h1M180 243.5h1M182 243.5h2M185 243.5h2M188 243.5h22M211 243.5h2M214 243.5h3M218 243.5h1M222 243.5h1M227 243.5h2M230 243.5h1M284 243.5h1M132 244.5h1M134 244.5h1M142 244.5h1M147 244.5h1M149 244.5h1M158 244.5h1M164 244.5h2M167 244.5h1M173 244.5h2M178 244.5h3M182 244.5h3M186 244.5h31M222 244.5h1M225 244.5h1M227 244.5h1M230 244.5h1M234 244.5h1M284 244.5h1M134 245.5h1M142 245.5h1M147 245.5h1M149 245.5h1M158 245.5h1M164 245.5h1M166 245.5h2M169 245.5h1M171 245.5h1M173 245.5h2M177 245.5h4M182 245.5h1M184 245.5h32M222 245.5h1M225 245.5h1M230 245.5h1M234 245.5h1M242 245.5h1M138 246.5h1M166 246.5h1M169 246.5h1M171 246.5h1M175 246.5h5M181 246.5h32M214 246.5h1M216 246.5h1M219 246.5h1M222 246.5h1M230 246.5h1M242 246.5h1M250 246.5h1M132 247.5h1M138 247.5h1M147 247.5h1M169 247.5h1M173 247.5h1M175 247.5h4M181 247.5h32M216 247.5h1M219 247.5h1M222 247.5h1M227 247.5h1M231 247.5h1M250 247.5h1M132 248.5h1M147 248.5h1M152 248.5h1M164 248.5h1M171 248.5h1M173 248.5h1M175 248.5h4M180 248.5h31M212 248.5h1M227 248.5h1M231 248.5h2M270 248.5h1M162 249.5h1M164 249.5h1M171 249.5h3M176 249.5h35M212 249.5h2M222 249.5h1M226 249.5h1M232 249.5h1M234 249.5h1M265 249.5h1M270 249.5h1M104 250.5h1M132 250.5h1M162 250.5h2M171 250.5h2M176 250.5h35M212 250.5h2M219 250.5h1M222 250.5h1M226 250.5h1M234 250.5h1M265 250.5h1M104 251.5h1M132 251.5h1M163 251.5h1M166 251.5h1M171 251.5h1M175 251.5h3M179 251.5h2M182 251.5h29M216 251.5h1M219 251.5h1M239 251.5h1M242 251.5h1M166 252.5h1M169 252.5h1M172 252.5h1M174 252.5h38M216 252.5h1M239 252.5h1M242 252.5h1M142 253.5h1M169 253.5h2M172 253.5h1M174 253.5h28M203 253.5h6M211 253.5h2M214 253.5h1M216 253.5h2M221 253.5h1M227 253.5h1M142 254.5h1M164 254.5h2M168 254.5h1M170 254.5h7M178 254.5h31M210 254.5h1M212 254.5h1M214 254.5h1M216 254.5h2M221 254.5h1M227 254.5h1M123 255.5h1M144 255.5h1M158 255.5h1M164 255.5h3M168 255.5h1M170 255.5h4M175 255.5h34M210 255.5h1M123 256.5h1M144 256.5h1M158 256.5h1M162 256.5h1M165 256.5h2M168 256.5h1M171 256.5h36M208 256.5h1M213 256.5h1M162 257.5h1M165 257.5h1M167 257.5h1M169 257.5h36M206 257.5h1M208 257.5h2M213 257.5h1M227 257.5h1M165 258.5h1M167 258.5h1M169 258.5h33M203 258.5h2M206 258.5h4M227 258.5h1M96 259.5h1M127 259.5h1M154 259.5h1M165 259.5h1M167 259.5h1M170 259.5h2M173 259.5h30M204 259.5h1M206 259.5h2M215 259.5h1M96 260.5h1M127 260.5h1M154 260.5h1M162 260.5h1M168 260.5h1M170 260.5h2M173 260.5h27M201 260.5h2M204 260.5h1M206 260.5h1M210 260.5h1M215 260.5h1M140 261.5h1M162 261.5h1M167 261.5h31M199 261.5h1M204 261.5h1M210 261.5h1M140 262.5h1M162 262.5h1M165 262.5h1M167 262.5h28M196 262.5h2M202 262.5h2M208 262.5h1M219 262.5h1M148 263.5h1M162 263.5h1M165 263.5h29M195 263.5h3M199 263.5h1M202 263.5h2M208 263.5h1M210 263.5h1M219 263.5h1M166 264.5h27M195 264.5h3M199 264.5h3M210 264.5h1M163 265.5h1M166 265.5h15M182 265.5h11M194 265.5h1M196 265.5h1M200 265.5h2M204 265.5h1M163 266.5h1M166 266.5h2M169 266.5h19M189 266.5h8M200 266.5h1M204 266.5h1M209 266.5h1M165 267.5h3M169 267.5h11M181 267.5h1M183 267.5h8M192 267.5h2M195 267.5h2M209 267.5h1M165 268.5h21M188 268.5h2M192 268.5h2M165 269.5h1M167 269.5h3M171 269.5h6M178 269.5h5M184 269.5h3M190 269.5h1M193 269.5h1M164 270.5h1M167 270.5h3M171 270.5h5M177 270.5h2M180 270.5h3M186 270.5h1M188 270.5h1M190 270.5h1M193 270.5h1M163 271.5h1M166 271.5h1M168 271.5h2M171 271.5h4M176 271.5h3M181 271.5h1M188 271.5h1M190 271.5h1M163 272.5h1M166 272.5h9M176 272.5h1M178 272.5h1M181 272.5h1M183 272.5h1M186 272.5h1M188 272.5h3M165 273.5h1M167 273.5h1M169 273.5h2M172 273.5h3M181 273.5h1M183 273.5h2M186 273.5h1M189 273.5h2M164 274.5h2M167 274.5h1M169 274.5h2M173 274.5h1M184 274.5h1M167 275.5h2M170 275.5h4M178 275.5h1M168 276.5h1M171 276.5h5M178 276.5h1M162 277.5h2M168 277.5h1M172 277.5h1M175 277.5h1M163 278.5h1M167 278.5h1M167 279.5h1M171 279.5h1M164 280.5h1M171 280.5h1M180 280.5h1M185 280.5h1M180 281.5h1M185 281.5h1M169 283.5h1M169 284.5h1M174 286.5h1M174 287.5h1" stroke="#808080" stroke-width="1" fill="none"/><path d="M172 259.5h1M172 260.5h1M160 268.5h1M160 269.5h1M143 270.5h1M150 270.5h2M159 270.5h1M143 271.5h1M159 271.5h1M125 273.5h1M143 273.5h1M150 273.5h1M154 273.5h1M159 273.5h1M125 274.5h1M150 274.5h2M159 274.5h1M141 275.5h1M151 275.5h1M142 276.5h1M149 276.5h1M151 276.5h1M131 277.5h1M142 277.5h1M145 277.5h1M149 277.5h1M152 277.5h1M131 278.5h2M139 278.5h1M144 278.5h2M149 278.5h2M152 278.5h2M162 278.5h1M166 278.5h1M132 279.5h1M139 279.5h1M145 279.5h1M147 279.5h1M149 279.5h2M153 279.5h1M157 279.5h1M162 279.5h1M166 279.5h1M138 280.5h5M145 280.5h3M149 280.5h1M137 281.5h1M140 281.5h3M145 281.5h3M149 281.5h1M153 281.5h2M137 282.5h1M140 282.5h1M142 282.5h1M145 282.5h3M152 282.5h4M139 283.5h3M145 283.5h3M152 283.5h2M159 283.5h1M119 284.5h1M133 284.5h1M139 284.5h1M141 284.5h1M143 284.5h4M149 284.5h1M151 284.5h3M159 284.5h1M119 285.5h1M130 285.5h1M133 285.5h1M139 285.5h8M149 285.5h1M151 285.5h1M153 285.5h1M157 285.5h1M130 286.5h1M136 286.5h1M138 286.5h3M142 286.5h2M150 286.5h2M157 286.5h1M136 287.5h1M138 287.5h3M143 287.5h2M147 287.5h4M128 288.5h1M131 288.5h1M136 288.5h1M138 288.5h5M144 288.5h1M146 288.5h5M152 288.5h2M128 289.5h2M131 289.5h1M134 289.5h1M136 289.5h1M138 289.5h5M145 289.5h4M152 289.5h1M133 290.5h2M136 290.5h1M138 290.5h6M145 290.5h1M147 290.5h1M149 290.5h1M151 290.5h1M113 291.5h1M133 291.5h1M135 291.5h1M137 291.5h2M141 291.5h1M145 291.5h3M149 291.5h3M113 292.5h1M131 292.5h1M133 292.5h1M135 292.5h4M140 292.5h1M143 292.5h4M149 292.5h3M156 292.5h1M131 293.5h3M135 293.5h6M142 293.5h1M144 293.5h1M149 293.5h1M151 293.5h1M156 293.5h1M131 294.5h3M135 294.5h1M140 294.5h1M142 294.5h1M145 294.5h1M149 294.5h1M153 294.5h1M124 295.5h1M136 295.5h2M140 295.5h1M142 295.5h1M145 295.5h1M153 295.5h1M124 296.5h1M126 296.5h1M132 296.5h2M136 296.5h2M139 296.5h1M142 296.5h1M97 297.5h1M126 297.5h1M132 297.5h1M135 297.5h1M137 297.5h1M139 297.5h1M143 297.5h1M145 297.5h1M97 298.5h1M129 298.5h1M131 298.5h2M135 298.5h2M138 298.5h1M141 298.5h1M143 298.5h3M129 299.5h1M131 299.5h1M136 299.5h1M138 299.5h1M141 299.5h1M143 299.5h2M120 300.5h1M139 300.5h1M144 300.5h1M120 301.5h1M138 301.5h2M144 301.5h1M138 302.5h1M123 303.5h1M126 308.5h1M126 309.5h1M94 338.5h1M94 339.5h1" stroke="#ffa000" stroke-width="1" fill="none"/><path d="M160 257.5h1M160 258.5h1M159 259.5h1M133 260.5h1M159 260.5h1M111 261.5h1M133 261.5h1M148 261.5h1M151 261.5h1M111 262.5h1M135 262.5h1M147 262.5h2M151 262.5h1M135 263.5h1M143 263.5h2M146 263.5h2M151 263.5h1M154 263.5h1M143 264.5h2M146 264.5h1M148 264.5h1M151 264.5h1M157 264.5h1M144 265.5h3M148 265.5h3M157 265.5h1M161 265.5h1M141 266.5h1M144 266.5h3M149 266.5h4M154 266.5h1M161 266.5h1M164 266.5h1M134 267.5h1M141 267.5h1M143 267.5h1M151 267.5h2M154 267.5h1M156 267.5h1M161 267.5h1M163 267.5h2M134 268.5h1M141 268.5h2M148 268.5h1M150 268.5h1M153 268.5h1M156 268.5h1M163 268.5h2M138 269.5h2M141 269.5h2M145 269.5h1M153 269.5h3M158 269.5h1M164 269.5h1M170 269.5h1M138 270.5h2M141 270.5h2M144 270.5h2M147 270.5h1M149 270.5h1M153 270.5h2M157 270.5h1M160 270.5h2M165 270.5h1M170 270.5h1M129 271.5h1M135 271.5h1M137 271.5h2M141 271.5h2M144 271.5h4M149 271.5h5M157 271.5h1M161 271.5h1M164 271.5h2M129 272.5h1M135 272.5h1M137 272.5h1M139 272.5h1M141 272.5h1M144 272.5h3M149 272.5h6M157 272.5h2M161 272.5h2M127 273.5h1M134 273.5h1M137 273.5h1M139 273.5h4M144 273.5h1M147 273.5h3M151 273.5h2M161 273.5h1M163 273.5h1M166 273.5h1M127 274.5h1M136 274.5h2M139 274.5h5M147 274.5h2M153 274.5h1M155 274.5h1M163 274.5h1M166 274.5h1M132 275.5h5M138 275.5h2M142 275.5h2M147 275.5h1M150 275.5h1M153 275.5h1M157 275.5h1M160 275.5h1M162 275.5h3M130 276.5h1M132 276.5h1M134 276.5h1M136 276.5h6M143 276.5h1M145 276.5h4M160 276.5h1M162 276.5h1M164 276.5h1M166 276.5h2M170 276.5h1M119 277.5h1M130 277.5h1M134 277.5h1M137 277.5h5M143 277.5h1M146 277.5h1M153 277.5h2M160 277.5h1M164 277.5h1M166 277.5h2M170 277.5h1M108 278.5h1M119 278.5h1M125 278.5h1M129 278.5h2M133 278.5h2M137 278.5h2M141 278.5h3M146 278.5h2M151 278.5h1M154 278.5h1M157 278.5h1M161 278.5h1M164 278.5h1M108 279.5h1M118 279.5h1M125 279.5h1M129 279.5h2M134 279.5h2M137 279.5h2M142 279.5h2M148 279.5h1M151 279.5h1M154 279.5h1M156 279.5h1M158 279.5h1M161 279.5h1M118 280.5h1M123 280.5h1M126 280.5h2M129 280.5h4M134 280.5h2M137 280.5h1M143 280.5h2M148 280.5h1M151 280.5h1M154 280.5h1M156 280.5h1M110 281.5h1M112 281.5h1M118 281.5h1M123 281.5h1M126 281.5h2M129 281.5h2M132 281.5h5M138 281.5h1M144 281.5h1M151 281.5h2M110 282.5h1M112 282.5h1M118 282.5h1M127 282.5h1M133 282.5h3M138 282.5h1M150 282.5h1M157 282.5h1M106 283.5h1M122 283.5h1M125 283.5h1M128 283.5h1M131 283.5h1M133 283.5h3M154 283.5h1M156 283.5h2M106 284.5h1M120 284.5h1M122 284.5h2M125 284.5h3M129 284.5h1M131 284.5h1M134 284.5h3M154 284.5h1M157 284.5h1M120 285.5h1M122 285.5h2M126 285.5h2M129 285.5h1M131 285.5h2M134 285.5h3M122 286.5h1M127 286.5h2M131 286.5h2M134 286.5h2M146 286.5h1M153 286.5h1M162 286.5h1M164 286.5h1M103 287.5h1M127 287.5h2M131 287.5h2M134 287.5h2M153 287.5h1M155 287.5h1M162 287.5h1M164 287.5h1M103 288.5h1M122 288.5h1M129 288.5h1M133 288.5h1M155 288.5h1M118 289.5h1M121 289.5h2M126 289.5h1M130 289.5h1M132 289.5h1M118 290.5h1M121 290.5h1M124 290.5h1M126 290.5h1M128 290.5h3M132 290.5h1M135 290.5h1M158 290.5h1M124 291.5h1M126 291.5h1M129 291.5h4M155 291.5h1M124 292.5h3M129 292.5h2M132 292.5h1M134 292.5h1M157 292.5h1M120 293.5h1M122 293.5h1M125 293.5h1M129 293.5h1M152 293.5h1M118 294.5h1M120 294.5h1M122 294.5h3M127 294.5h1M144 294.5h1M152 294.5h1M154 294.5h1M118 295.5h1M122 295.5h2M125 295.5h1M130 295.5h1M138 295.5h1M143 295.5h1M118 296.5h1M120 296.5h1M123 296.5h1M125 296.5h1M127 296.5h2M131 296.5h1M138 296.5h1M140 296.5h1M119 297.5h4M125 297.5h1M127 297.5h1M129 297.5h1M131 297.5h1M134 297.5h1M138 297.5h1M144 297.5h1M149 297.5h1M114 298.5h2M119 298.5h1M121 298.5h2M125 298.5h3M134 298.5h1M105 299.5h1M110 299.5h2M114 299.5h2M119 299.5h1M121 299.5h1M124 299.5h1M127 299.5h1M132 299.5h1M134 299.5h1M146 299.5h1M148 299.5h1M105 300.5h1M110 300.5h2M119 300.5h1M124 300.5h1M140 300.5h1M147 300.5h1M110 301.5h1M119 301.5h1M122 301.5h2M129 301.5h1M135 301.5h1M140 301.5h1M110 302.5h1M117 302.5h1M120 302.5h1M122 302.5h2M129 302.5h1M134 302.5h2M141 302.5h1M117 303.5h1M120 303.5h1M122 303.5h1M128 303.5h1M130 303.5h1M141 303.5h1M120 304.5h1M122 304.5h1M130 304.5h1M132 304.5h1M138 304.5h1M156 304.5h1M120 305.5h1M130 305.5h3M136 305.5h1M138 305.5h1M156 305.5h1M120 306.5h1M128 306.5h1M130 306.5h1M120 307.5h1M128 307.5h1M130 307.5h1M133 307.5h1M128 308.5h1M130 308.5h1M133 308.5h1M97 309.5h1M111 309.5h1M123 309.5h1M97 310.5h1M105 310.5h1M111 310.5h1M123 310.5h1M105 311.5h1M100 313.5h1M100 314.5h1M97 315.5h1M97 316.5h1M112 316.5h1M112 317.5h1M100 318.5h1M116 318.5h1M100 319.5h1M116 319.5h1M126 322.5h1M126 323.5h1M118 325.5h1M122 325.5h1M118 326.5h1M122 326.5h1M127 327.5h1M127 328.5h1M90 331.5h1M90 332.5h1" stroke="#0000ff" stroke-width="1" fill="none"/><path d="M152 246.5h1M152 247.5h1M167 253.5h1M167 254.5h1M157 258.5h1M157 259.5h1M154 261.5h1M154 262.5h1M157 262.5h1M157 263.5h1M143 265.5h1M151 265.5h1M156 265.5h1M165 265.5h1M100 266.5h1M143 266.5h1M147 266.5h2M156 266.5h1M165 266.5h1M168 266.5h1M100 267.5h1M133 267.5h1M144 267.5h1M147 267.5h2M150 267.5h1M157 267.5h2M168 267.5h1M133 268.5h1M143 268.5h1M146 268.5h1M149 268.5h1M157 268.5h2M161 268.5h1M146 269.5h1M148 269.5h2M156 269.5h1M161 269.5h1M148 270.5h1M152 270.5h1M155 270.5h2M158 270.5h1M134 271.5h1M148 271.5h1M155 271.5h1M158 271.5h1M121 272.5h1M134 272.5h1M147 272.5h2M155 272.5h2M159 272.5h1M164 272.5h1M121 273.5h1M132 273.5h2M135 273.5h1M145 273.5h1M153 273.5h1M155 273.5h4M160 273.5h1M162 273.5h1M164 273.5h1M168 273.5h1M128 274.5h1M132 274.5h2M135 274.5h1M144 274.5h3M149 274.5h1M152 274.5h1M154 274.5h1M156 274.5h3M160 274.5h1M162 274.5h1M168 274.5h1M174 274.5h1M128 275.5h2M137 275.5h1M140 275.5h1M144 275.5h3M148 275.5h2M152 275.5h1M154 275.5h2M159 275.5h1M161 275.5h1M165 275.5h2M174 275.5h1M129 276.5h1M133 276.5h1M144 276.5h1M150 276.5h1M152 276.5h4M157 276.5h1M159 276.5h1M161 276.5h1M163 276.5h1M165 276.5h1M133 277.5h1M136 277.5h1M144 277.5h1M147 277.5h2M150 277.5h2M155 277.5h4M165 277.5h1M135 278.5h2M140 278.5h1M148 278.5h1M155 278.5h2M158 278.5h3M165 278.5h1M133 279.5h1M136 279.5h1M140 279.5h2M144 279.5h1M146 279.5h1M152 279.5h1M155 279.5h1M159 279.5h2M163 279.5h2M168 279.5h1M120 280.5h1M124 280.5h1M133 280.5h1M136 280.5h1M152 280.5h2M157 280.5h7M168 280.5h1M170 280.5h1M116 281.5h2M120 281.5h1M124 281.5h1M128 281.5h1M131 281.5h1M139 281.5h1M143 281.5h1M148 281.5h1M157 281.5h6M164 281.5h2M170 281.5h1M116 282.5h2M126 282.5h1M128 282.5h1M130 282.5h2M136 282.5h1M139 282.5h1M141 282.5h1M143 282.5h2M148 282.5h2M151 282.5h1M158 282.5h3M162 282.5h1M164 282.5h2M115 283.5h1M130 283.5h1M132 283.5h1M136 283.5h3M142 283.5h3M148 283.5h4M155 283.5h1M158 283.5h1M160 283.5h1M162 283.5h2M115 284.5h1M128 284.5h1M130 284.5h1M132 284.5h1M137 284.5h2M140 284.5h1M142 284.5h1M147 284.5h2M150 284.5h1M155 284.5h2M160 284.5h3M164 284.5h2M102 285.5h1M125 285.5h1M128 285.5h1M137 285.5h2M147 285.5h2M150 285.5h1M152 285.5h1M154 285.5h3M158 285.5h2M161 285.5h2M164 285.5h5M102 286.5h1M105 286.5h1M115 286.5h1M125 286.5h1M129 286.5h1M133 286.5h1M137 286.5h1M144 286.5h2M147 286.5h3M152 286.5h1M154 286.5h3M158 286.5h2M166 286.5h3M105 287.5h1M115 287.5h1M121 287.5h1M124 287.5h1M130 287.5h1M133 287.5h1M137 287.5h1M142 287.5h1M145 287.5h2M151 287.5h2M154 287.5h1M156 287.5h4M111 288.5h1M121 288.5h1M124 288.5h2M130 288.5h1M132 288.5h1M134 288.5h2M137 288.5h1M145 288.5h1M151 288.5h1M154 288.5h1M156 288.5h4M103 289.5h1M111 289.5h1M125 289.5h1M133 289.5h1M135 289.5h1M137 289.5h1M144 289.5h1M149 289.5h3M153 289.5h7M103 290.5h1M125 290.5h1M127 290.5h1M137 290.5h1M144 290.5h1M146 290.5h1M148 290.5h1M150 290.5h1M152 290.5h6M159 290.5h1M120 291.5h1M123 291.5h1M125 291.5h1M127 291.5h2M134 291.5h1M136 291.5h1M140 291.5h1M142 291.5h3M148 291.5h1M152 291.5h3M158 291.5h3M118 292.5h1M120 292.5h1M123 292.5h1M127 292.5h2M141 292.5h2M147 292.5h2M152 292.5h4M158 292.5h3M162 292.5h1M116 293.5h1M118 293.5h1M123 293.5h1M126 293.5h2M130 293.5h1M134 293.5h1M141 293.5h1M143 293.5h1M145 293.5h4M150 293.5h1M153 293.5h2M157 293.5h1M162 293.5h1M84 294.5h1M116 294.5h1M128 294.5h3M134 294.5h1M136 294.5h4M141 294.5h1M143 294.5h1M146 294.5h3M150 294.5h2M157 294.5h1M84 295.5h1M116 295.5h1M126 295.5h1M128 295.5h2M131 295.5h5M139 295.5h1M141 295.5h1M144 295.5h1M146 295.5h7M154 295.5h1M107 296.5h1M109 296.5h1M111 296.5h1M116 296.5h1M129 296.5h2M134 296.5h2M141 296.5h1M143 296.5h12M107 297.5h1M109 297.5h1M123 297.5h1M128 297.5h1M130 297.5h1M133 297.5h1M136 297.5h1M140 297.5h3M146 297.5h3M152 297.5h1M154 297.5h2M105 298.5h1M111 298.5h1M123 298.5h1M128 298.5h1M133 298.5h1M137 298.5h1M139 298.5h2M142 298.5h1M146 298.5h5M152 298.5h1M154 298.5h2M123 299.5h1M125 299.5h2M128 299.5h1M130 299.5h1M133 299.5h1M135 299.5h1M137 299.5h1M139 299.5h2M142 299.5h1M145 299.5h1M147 299.5h1M149 299.5h4M156 299.5h1M99 300.5h1M123 300.5h1M125 300.5h2M128 300.5h11M141 300.5h3M145 300.5h2M148 300.5h1M151 300.5h2M156 300.5h1M99 301.5h1M106 301.5h1M111 301.5h1M124 301.5h1M127 301.5h2M130 301.5h5M136 301.5h2M141 301.5h3M145 301.5h4M150 301.5h1M106 302.5h1M111 302.5h1M124 302.5h1M126 302.5h3M130 302.5h3M136 302.5h2M139 302.5h2M142 302.5h7M150 302.5h1M126 303.5h1M129 303.5h1M131 303.5h1M134 303.5h7M142 303.5h4M148 303.5h1M117 304.5h1M126 304.5h1M128 304.5h2M131 304.5h1M133 304.5h5M139 304.5h1M141 304.5h3M148 304.5h1M150 304.5h1M112 305.5h1M125 305.5h2M128 305.5h2M133 305.5h3M137 305.5h1M139 305.5h4M144 305.5h1M148 305.5h1M150 305.5h1M102 306.5h1M109 306.5h1M112 306.5h1M117 306.5h1M119 306.5h1M124 306.5h3M129 306.5h1M131 306.5h1M133 306.5h1M135 306.5h3M139 306.5h3M144 306.5h1M102 307.5h1M109 307.5h1M117 307.5h1M119 307.5h1M124 307.5h1M126 307.5h2M131 307.5h1M137 307.5h1M141 307.5h2M107 308.5h1M127 308.5h1M129 308.5h1M137 308.5h1M139 308.5h1M142 308.5h1M107 309.5h1M128 309.5h2M137 309.5h1M139 309.5h1M128 310.5h1M130 310.5h2M113 311.5h1M125 311.5h1M130 311.5h2M113 312.5h1M125 312.5h1M130 312.5h1M125 313.5h1M130 313.5h1M119 315.5h1M104 316.5h1M118 316.5h2M125 316.5h1M104 317.5h1M118 317.5h1M125 317.5h1M134 321.5h1M134 322.5h1M110 327.5h1M110 328.5h1M92 341.5h1M92 342.5h1" stroke="#ff0000" stroke-width="1" fill="none"/><path d="M155 260.5h1M155 261.5h1M140 269.5h1M140 270.5h1M130 272.5h1M130 273.5h1M156 275.5h1M135 276.5h1M156 276.5h1M135 277.5h1M113 280.5h1M150 280.5h1M155 280.5h1M113 281.5h1M150 281.5h1M155 281.5h2M163 281.5h1M156 282.5h1M163 282.5h1M141 286.5h1M141 287.5h1M120 288.5h1M143 288.5h1M160 288.5h1M120 289.5h1M143 289.5h1M160 289.5h1M122 290.5h1M122 291.5h1M139 291.5h1M139 292.5h1M111 294.5h1M111 295.5h1M133 302.5h1M133 303.5h1M109 308.5h1M109 309.5h1M108 310.5h1M108 311.5h1M108 317.5h1M108 318.5h1M108 343.5h1M108 344.5h1" stroke="#00ff00" stroke-width="1" fill="none"/><polygon points="135,250 158,250.5 178.5,294 125.5,334.5 97.5,328.5 89,308.5 97.5,281" fill="none" stroke="#000" stroke-width="1"/><path d="M171.0 277.2L169.0 277.8L167.0 277.9L165.0 277.4L164.5 277.0L163.2 275.0L163.0 273.0L163.3 271.0L163.5 269.0L163.7 267.0L164.0 265.0L164.8 263.0L165.0 262.6L165.7 261.0L166.7 259.0L167.0 258.5L167.5 257.0L168.3 255.0L169.0 254.0L169.7 253.0L171.0 251.5L171.4 251.0L173.0 249.3L173.3 249.0L175.0 247.0L175.0 247.0L176.8 245.0L177.0 244.8L178.9 243.0L179.0 242.9L181.0 241.1L181.1 241.0L182.8 239.0L181.0 237.8L179.0 238.5L177.1 239.0L177.0 239.0L175.0 239.9L173.0 240.5L171.2 241.0L171.0 241.1L169.0 241.6L167.0 241.9L165.0 242.0L163.0 242.0L161.0 242.1L159.0 242.2L157.0 242.3L155.0 242.5L153.0 242.6L151.0 242.6L149.0 242.4L147.0 242.2L145.0 242.0L143.0 241.9L141.0 241.7L139.0 241.4L137.8 241.0L137.0 240.8L135.0 239.9L133.7 239.0L133.0 238.5L131.2 237.0L131.0 236.8L129.3 235.0L129.0 234.0L128.6 233.0L128.6 231.0L129.0 229.8L129.2 229.0L130.1 227.0L131.0 225.8L131.6 225.0L133.0 223.6L133.7 223.0L135.0 222.1L137.0 221.2L137.5 221.0L139.0 220.2L141.0 219.4L142.3 219.0L143.0 218.7L145.0 218.0L147.0 217.3L148.0 217.0L149.0 216.5L151.0 215.6L153.0 215.3L155.0 215.2L157.0 215.3L159.0 215.2L160.5 215.0L161.0 214.9L163.0 214.5L165.0 214.5L167.0 214.8L167.8 215.0L169.0 215.3L171.0 215.7L173.0 216.2L175.0 216.7L175.7 217.0L177.0 217.4L179.0 218.4L179.8 219.0L181.0 219.9L182.4 221.0L183.0 221.5L185.0 222.8L185.3 223.0L187.0 224.5L187.5 225.0L188.1 227.0L187.9 229.0L187.5 231.0L189.0 232.9L191.0 232.7L193.0 232.2L195.0 231.8L197.0 231.5L199.0 231.4L201.0 231.4L203.0 231.6L205.0 232.1L207.0 232.8L207.6 233.0L209.0 233.4L211.0 234.1L212.2 235.0L213.0 235.7L214.0 237.0L215.0 239.0L215.0 239.0L215.5 241.0L215.6 243.0L215.1 245.0L215.0 245.3L214.5 247.0L213.5 249.0L213.0 249.9L212.5 251.0L211.2 253.0L211.0 253.2L209.7 255.0L209.0 255.8L208.0 257.0L207.0 258.2L206.2 259.0L205.0 260.1L203.8 261.0L203.0 261.6L201.0 262.9L200.8 263.0L199.0 264.3L197.7 265.0L197.0 265.4L195.0 266.6L194.2 267.0L193.0 267.8L191.0 268.8L190.3 269.0L189.0 269.7L187.0 270.3L185.0 270.7L183.9 271.0L183.0 271.3L181.0 272.0L179.0 272.7L178.4 273.0L177.0 273.8L175.0 274.9L174.8 275.0L173.0 276.2L171.3 277.0L171.0 277.2" stroke="#0000ff" stroke-width="1" fill="none"/><path d="M167.0 237.5L165.0 238.0L163.0 238.3L161.0 238.6L159.0 238.7L157.0 238.8L155.0 238.9L153.0 239.0L151.0 238.7L149.0 238.3L147.0 237.8L145.0 237.6L143.0 237.4L141.2 237.0L141.0 237.0L139.0 236.0L137.6 235.0L137.0 234.2L136.1 233.0L135.6 231.0L135.7 229.0L136.4 227.0L137.0 226.2L138.4 225.0L139.0 224.7L141.0 223.7L142.6 223.0L143.0 222.8L145.0 222.0L147.0 221.4L148.3 221.0L149.0 220.8L151.0 220.1L153.0 219.6L155.0 219.3L157.0 219.1L157.6 219.0L159.0 218.7L161.0 218.3L163.0 218.1L165.0 218.4L166.6 219.0L167.0 219.2L169.0 220.1L171.0 220.9L171.2 221.0L173.0 221.4L175.0 221.9L177.0 222.8L177.2 223.0L179.0 224.8L179.2 225.0L180.0 227.0L179.8 229.0L179.0 230.5L178.8 231.0L177.0 232.9L176.9 233.0L175.0 234.3L173.7 235.0L173.0 235.4L171.0 236.2L169.0 236.9L168.5 237.0L167.0 237.5M175.0 269.4L173.0 270.1L171.0 270.3L169.3 269.0L169.0 268.1L168.8 267.0L169.0 265.0L169.0 265.0L169.6 263.0L170.2 261.0L170.9 259.0L171.0 258.7L171.7 257.0L173.0 255.1L173.1 255.0L175.0 253.1L175.1 253.0L177.0 251.3L177.2 251.0L179.0 249.0L179.0 249.0L181.0 247.0L181.0 247.0L183.0 245.5L183.6 245.0L185.0 243.9L186.1 243.0L187.0 242.2L188.5 241.0L189.0 240.5L191.0 239.1L191.3 239.0L193.0 238.1L195.0 237.4L196.6 237.0L197.0 236.9L199.0 236.4L201.0 236.4L203.0 236.8L203.5 237.0L205.0 237.7L206.8 239.0L207.0 239.2L208.9 241.0L209.0 241.1L210.0 243.0L210.1 245.0L209.7 247.0L209.0 248.8L208.9 249.0L208.0 251.0L207.0 252.3L206.5 253.0L205.0 254.7L204.7 255.0L203.0 256.6L202.6 257.0L201.0 258.3L200.0 259.0L199.0 259.7L197.0 261.0L197.0 261.0L195.0 262.3L193.4 263.0L193.0 263.2L191.0 264.2L189.0 264.8L188.1 265.0L187.0 265.3L185.0 265.6L183.0 266.1L181.0 266.8L180.5 267.0L179.0 267.7L177.0 268.5L175.8 269.0L175.0 269.4" stroke="#0505fa" stroke-width="1" fill="none"/><path d="M193.0 259.7L191.0 260.4L189.0 260.8L187.0 260.8L185.0 260.0L184.0 259.0L183.0 257.2L182.9 257.0L182.7 255.0L183.0 253.2L183.0 253.0L183.7 251.0L185.0 249.0L185.0 249.0L186.6 247.0L187.0 246.6L188.4 245.0L189.0 244.5L190.9 243.0L191.0 242.9L193.0 241.8L195.0 241.1L195.9 241.0L197.0 240.8L199.0 240.7L201.0 240.9L201.2 241.0L203.0 241.8L204.3 243.0L205.0 244.2L205.4 245.0L205.4 247.0L205.0 248.6L204.9 249.0L204.0 251.0L203.0 252.3L202.5 253.0L201.0 254.5L200.5 255.0L199.0 256.2L197.8 257.0L197.0 257.6L195.0 258.7L194.4 259.0L193.0 259.7" stroke="#0d0df2" stroke-width="1" fill="none"/><path d="M131.0 312.0L129.0 311.8L127.4 311.0L127.0 310.8L125.0 309.4L124.6 309.0L123.0 307.2L122.8 307.0L121.0 305.9L119.9 305.0L119.0 304.1L118.2 303.0L117.1 301.0L117.0 300.6L116.2 299.0L116.4 297.0L116.7 295.0L117.0 293.9L117.2 293.0L117.8 291.0L118.3 289.0L118.9 287.0L119.0 286.8L119.5 285.0L119.7 283.0L119.4 281.0L121.0 280.8L123.0 280.0L124.6 279.0L125.0 278.8L127.0 277.2L127.1 277.0L127.7 275.0L128.8 273.0L129.0 272.9L131.0 271.3L131.5 271.0L133.0 270.0L135.0 269.2L135.6 269.0L137.0 268.4L138.8 267.0L139.0 266.8L140.5 265.0L141.0 264.4L142.4 263.0L143.0 262.5L145.0 261.8L147.0 261.5L149.0 261.3L151.0 261.6L153.0 262.3L155.0 261.9L157.0 262.3L157.6 263.0L159.0 263.8L160.9 265.0L161.0 265.1L163.0 266.0L164.5 267.0L165.0 267.6L166.0 269.0L167.0 270.4L167.4 271.0L168.7 273.0L169.0 273.5L169.9 275.0L170.5 277.0L170.1 279.0L169.0 280.5L168.7 281.0L168.2 283.0L168.4 285.0L167.3 287.0L167.0 287.2L165.0 288.7L164.7 289.0L163.4 291.0L163.0 291.5L161.8 293.0L161.0 293.6L159.0 295.0L159.0 295.0L157.8 297.0L157.0 298.2L156.2 299.0L155.0 299.9L153.1 301.0L153.0 301.1L151.4 303.0L151.0 303.5L149.0 305.0L149.0 305.0L147.0 306.0L145.0 306.9L144.6 307.0L143.0 307.8L141.0 308.5L139.0 309.0L139.0 309.0L137.0 309.5L135.0 309.7L133.0 310.6L132.3 311.0L131.0 312.0M111.0 300.6L109.0 299.0L109.0 299.0L109.0 299.0L111.0 297.3L112.5 299.0L111.0 300.6" stroke="#0000ff" stroke-width="1" fill="none"/><path d="M131.0 309.9L129.0 309.8L127.7 309.0L127.0 308.5L125.6 307.0L125.0 306.0L124.0 305.0L123.0 304.4L121.2 303.0L121.0 302.8L119.7 301.0L119.0 299.2L118.9 299.0L118.7 297.0L118.9 295.0L119.0 294.6L119.3 293.0L119.6 291.0L120.1 289.0L121.0 287.1L121.1 287.0L122.2 285.0L123.0 283.5L123.3 283.0L124.9 281.0L125.0 280.9L127.0 279.1L127.1 279.0L128.6 277.0L129.0 276.2L129.6 275.0L131.0 273.3L131.3 273.0L133.0 271.7L135.0 271.0L135.1 271.0L137.0 270.3L138.8 269.0L139.0 268.8L140.7 267.0L141.0 266.6L142.5 265.0L143.0 264.4L145.0 263.5L147.0 263.2L149.0 263.1L151.0 263.8L152.6 265.0L153.0 265.3L155.0 265.4L157.0 265.1L159.0 265.8L161.0 266.9L161.2 267.0L163.0 268.4L163.6 269.0L165.0 270.4L165.5 271.0L167.0 272.9L167.1 273.0L168.2 275.0L168.7 277.0L168.2 279.0L167.0 280.8L166.9 281.0L166.4 283.0L166.3 285.0L165.0 286.6L164.7 287.0L163.0 288.8L162.9 289.0L162.1 291.0L161.0 292.2L160.1 293.0L159.0 293.9L157.9 295.0L157.0 296.2L156.4 297.0L155.0 298.4L154.0 299.0L153.0 299.7L151.7 301.0L151.0 301.8L149.9 303.0L149.0 303.7L147.0 304.8L146.5 305.0L145.0 305.9L143.0 306.7L141.6 307.0L141.0 307.2L139.0 308.0L137.0 308.4L135.0 308.5L133.0 308.9L132.7 309.0L131.0 309.9" stroke="#0000ff" stroke-width="1" fill="none"/><path d="M137.0 307.1L135.0 307.4L133.0 307.7L131.0 308.0L129.0 307.4L128.5 307.0L127.0 305.5L126.6 305.0L125.1 303.0L125.0 302.9L123.0 301.6L122.4 301.0L121.6 299.0L121.3 297.0L121.3 295.0L121.4 293.0L121.7 291.0L122.6 289.0L123.0 288.5L124.3 287.0L125.0 285.7L125.2 285.0L125.9 283.0L127.0 281.5L127.3 281.0L129.0 279.0L129.0 279.0L130.2 277.0L131.0 275.7L131.6 275.0L133.0 273.7L134.7 273.0L135.0 272.9L137.0 272.2L139.0 271.0L139.1 271.0L141.0 269.2L141.4 269.0L143.0 267.7L145.0 267.1L145.1 267.0L147.0 266.0L149.0 265.5L151.0 266.4L151.8 267.0L153.0 267.6L155.0 267.7L157.0 267.5L159.0 267.8L161.0 268.9L161.1 269.0L163.0 270.7L163.4 271.0L165.0 272.7L165.2 273.0L166.3 275.0L166.8 277.0L166.2 279.0L165.1 281.0L165.0 281.2L164.2 283.0L163.0 284.9L163.0 285.0L162.2 287.0L161.5 289.0L161.0 289.9L160.4 291.0L159.0 292.3L158.3 293.0L157.0 294.4L156.5 295.0L155.0 296.7L154.7 297.0L153.0 298.2L152.0 299.0L151.0 300.0L150.2 301.0L149.0 302.2L147.9 303.0L147.0 303.6L145.0 304.7L144.1 305.0L143.0 305.5L141.0 306.2L139.0 306.7L137.4 307.0L137.0 307.1" stroke="#0000ff" stroke-width="1" fill="none"/><path d="M139.0 305.5L137.0 306.0L135.0 306.2L133.0 306.3L131.0 306.2L129.0 305.2L128.8 305.0L127.3 303.0L127.0 302.3L126.0 301.0L125.1 299.0L125.0 298.6L124.3 297.0L123.8 295.0L123.7 293.0L124.0 291.0L125.0 289.6L125.3 289.0L126.4 287.0L127.0 285.4L127.1 285.0L127.9 283.0L129.0 281.5L129.3 281.0L130.7 279.0L131.0 278.6L132.1 277.0L133.0 276.0L134.8 275.0L135.0 274.9L137.0 274.0L138.7 273.0L139.0 272.8L141.0 271.3L142.0 271.0L143.0 270.4L145.0 270.0L147.0 269.3L147.7 269.0L149.0 268.3L151.0 268.7L151.6 269.0L153.0 269.4L155.0 269.7L157.0 269.7L159.0 270.0L160.8 271.0L161.0 271.2L162.7 273.0L163.0 273.6L163.7 275.0L163.8 277.0L163.4 279.0L163.0 280.1L162.7 281.0L161.6 283.0L161.0 284.3L160.9 285.0L160.5 287.0L159.9 289.0L159.0 290.4L158.5 291.0L157.0 292.5L156.7 293.0L155.0 295.0L155.0 295.0L153.0 296.7L152.5 297.0L151.0 298.3L150.3 299.0L149.0 300.5L148.5 301.0L147.0 302.2L145.6 303.0L145.0 303.4L143.0 304.3L141.0 304.8L140.4 305.0L139.0 305.5" stroke="#0505fa" stroke-width="1" fill="none"/><path d="M141.0 303.6L139.0 304.2L137.0 304.6L135.0 304.8L133.0 304.8L131.0 304.4L129.1 303.0L129.0 302.8L128.0 301.0L127.3 299.0L127.0 297.9L126.7 297.0L126.2 295.0L126.0 293.0L126.3 291.0L127.0 289.7L127.3 289.0L128.0 287.0L128.7 285.0L129.0 284.5L129.8 283.0L131.0 281.3L131.2 281.0L132.7 279.0L133.0 278.6L134.8 277.0L135.0 276.8L137.0 275.7L138.0 275.0L139.0 274.3L141.0 273.1L141.2 273.0L143.0 272.3L145.0 272.2L147.0 271.7L148.4 271.0L149.0 270.7L151.0 270.6L152.4 271.0L153.0 271.2L155.0 271.7L157.0 272.2L158.4 273.0L158.8 275.0L159.0 277.0L159.0 277.0L160.0 279.0L160.1 281.0L159.7 283.0L159.5 285.0L159.1 287.0L159.0 287.2L158.2 289.0L157.0 290.4L156.6 291.0L155.1 293.0L155.0 293.1L153.3 295.0L153.0 295.2L151.0 296.7L150.7 297.0L149.0 298.7L148.7 299.0L147.0 300.6L146.4 301.0L145.0 301.9L143.0 302.8L142.5 303.0L141.0 303.6" stroke="#0d0df2" stroke-width="1" fill="none"/><path d="M137.0 303.1L135.0 303.1L133.5 303.0L133.0 303.0L131.0 302.2L130.1 301.0L129.1 299.0L129.0 298.9L128.3 297.0L127.9 295.0L127.8 293.0L128.0 291.0L128.9 289.0L129.0 288.7L129.5 287.0L130.4 285.0L131.0 284.0L131.5 283.0L133.0 281.1L133.1 281.0L134.7 279.0L135.0 278.7L137.0 277.3L137.5 277.0L139.0 275.9L140.4 275.0L141.0 274.6L143.0 274.0L145.0 274.4L147.0 274.5L149.0 273.4L150.6 273.0L151.0 272.9L151.4 273.0L153.0 273.4L155.0 274.4L155.6 275.0L156.6 277.0L157.0 277.9L157.4 279.0L157.9 281.0L158.0 283.0L158.0 285.0L157.6 287.0L157.0 287.9L156.3 289.0L155.0 290.8L154.9 291.0L153.7 293.0L153.0 293.7L151.6 295.0L151.0 295.5L149.2 297.0L149.0 297.2L147.0 298.9L146.8 299.0L145.0 300.4L143.8 301.0L143.0 301.5L141.0 302.2L139.0 302.7L137.4 303.0L137.0 303.1" stroke="#1a1ae6" stroke-width="1" fill="none"/><path d="M143.0 299.4L141.0 300.2L139.0 300.5L137.0 300.6L135.0 300.3L133.0 299.4L132.5 299.0L131.0 297.3L130.8 297.0L130.0 295.0L129.9 293.0L130.2 291.0L131.0 289.1L131.0 289.0L131.8 287.0L132.8 285.0L133.0 284.7L134.0 283.0L135.0 281.6L135.5 281.0L137.0 279.7L137.9 279.0L139.0 278.3L141.0 277.0L141.2 277.0L143.0 276.7L143.9 277.0L145.0 277.3L147.0 277.6L149.0 277.3L151.0 277.3L153.0 278.6L153.3 279.0L154.2 281.0L155.0 283.0L155.0 283.2L155.3 285.0L155.0 285.8L154.6 287.0L153.6 289.0L153.0 290.3L152.7 291.0L151.4 293.0L151.0 293.4L149.2 295.0L149.0 295.1L147.0 296.7L146.6 297.0L145.0 298.1L143.6 299.0L143.0 299.4" stroke="#94946b" stroke-width="1" fill="none"/><path d="M143.0 297.6L141.0 298.4L139.0 298.6L137.0 298.4L135.0 297.7L134.0 297.0L133.0 296.1L132.2 295.0L131.7 293.0L132.0 291.0L132.6 289.0L133.0 288.2L133.6 287.0L134.7 285.0L135.0 284.5L136.2 283.0L137.0 282.1L138.2 281.0L139.0 280.4L141.0 279.1L141.3 279.0L143.0 278.7L144.0 279.0L145.0 279.2L147.0 279.7L149.0 279.9L150.9 281.0L151.0 281.1L152.2 283.0L152.7 285.0L152.3 287.0L151.7 289.0L151.0 290.7L150.9 291.0L149.4 293.0L149.0 293.3L147.0 295.0L147.0 295.0L145.0 296.3L143.9 297.0L143.0 297.6" stroke="#a1a15e" stroke-width="1" fill="none"/><path d="M141.0 295.3L139.0 295.2L138.4 295.0L137.0 294.4L135.4 293.0L135.0 291.7L134.8 291.0L135.0 290.3L135.3 289.0L136.6 287.0L137.0 286.5L139.0 285.0L139.0 285.0L141.0 283.5L141.9 283.0L143.0 282.4L145.0 282.6L146.2 283.0L147.0 283.4L148.7 285.0L148.5 287.0L147.7 289.0L147.0 290.9L147.0 291.0L145.3 293.0L145.0 293.2L143.0 294.5L141.8 295.0L141.0 295.3" stroke="#d1d12e" stroke-width="1" fill="none"/><path d="M141.0 292.4L139.0 292.6L137.5 291.0L138.0 289.0L139.0 288.0L140.5 287.0L141.0 286.7L143.0 286.2L144.2 287.0L144.0 289.0L143.0 290.9L142.9 291.0L141.0 292.4" stroke="#f2f20d" stroke-width="1" fill="none"/></g><text x="208.5" y="279" font-size="17.5" letter-spacing="0.4">R1: 76.50%</text><g shape-rendering="crispEdges"><path d="M555 193.5h1M573 193.5h1M555 194.5h1M573 194.5h1M568 195.5h1M540 196.5h1M562 196.5h1M568 196.5h1M540 197.5h1M544 197.5h1M560 197.5h1M562 197.5h1M544 198.5h1M560 198.5h1M553 199.5h1M551 200.5h1M553 200.5h1M558 200.5h1M551 201.5h1M558 201.5h1M574 201.5h1M574 202.5h1M563 203.5h1M563 204.5h1M565 204.5h1M556 205.5h1M565 205.5h1M556 206.5h1M555 207.5h1M568 207.5h1M555 208.5h1M568 208.5h1M540 209.5h1M550 209.5h1M553 209.5h1M540 210.5h1M550 210.5h1M553 210.5h1M567 211.5h1M564 212.5h1M567 212.5h1M551 213.5h1M555 213.5h1M564 213.5h1M551 214.5h1M555 214.5h1M559 214.5h1M566 214.5h1M535 215.5h1M559 215.5h1M566 215.5h1M535 216.5h1M555 216.5h1M551 217.5h1M555 217.5h1M560 217.5h1M551 218.5h1M560 218.5h1M572 218.5h1M546 219.5h1M572 219.5h1M546 220.5h1M551 220.5h1M537 221.5h1M551 221.5h1M554 221.5h1M560 221.5h1M565 221.5h1M537 222.5h1M554 222.5h1M560 222.5h1M565 222.5h1M569 222.5h1M553 223.5h1M560 223.5h1M569 223.5h1M553 224.5h1M568 224.5h1M568 225.5h1M549 227.5h1M567 227.5h1M549 228.5h1M567 228.5h1M585 230.5h1M549 231.5h1M570 231.5h1M585 231.5h1M549 232.5h1M554 232.5h1M570 232.5h1M554 233.5h1M556 233.5h1M547 234.5h1M553 234.5h1M556 234.5h1M547 235.5h1M553 235.5h1M556 235.5h1M561 235.5h1M538 236.5h1M550 236.5h1M553 236.5h1M556 236.5h1M561 236.5h1M564 236.5h1M538 237.5h1M547 237.5h1M550 237.5h1M556 237.5h1M564 237.5h1M545 238.5h1M547 238.5h1M556 238.5h1M571 238.5h1M545 239.5h1M559 239.5h1M561 239.5h1M571 239.5h1M577 239.5h1M529 240.5h1M559 240.5h1M561 240.5h1M577 240.5h1M529 241.5h1M563 241.5h1M535 242.5h1M555 242.5h1M563 242.5h1M535 243.5h1M548 243.5h1M555 243.5h1M557 243.5h1M563 243.5h1M539 244.5h1M548 244.5h1M550 244.5h1M557 244.5h1M539 245.5h1M543 245.5h1M548 245.5h1M550 245.5h1M552 245.5h1M560 245.5h1M565 245.5h1M543 246.5h1M548 246.5h1M550 246.5h1M552 246.5h1M560 246.5h1M562 246.5h1M565 246.5h1M585 246.5h1M553 247.5h1M560 247.5h1M562 247.5h1M567 247.5h1M585 247.5h1M553 248.5h1M560 248.5h1M567 248.5h1M577 248.5h1M545 249.5h1M548 249.5h1M557 249.5h1M560 249.5h1M577 249.5h1M530 250.5h1M540 250.5h1M545 250.5h1M547 250.5h2M557 250.5h1M561 250.5h1M530 251.5h1M540 251.5h1M545 251.5h1M547 251.5h1M549 251.5h1M553 251.5h1M555 251.5h3M560 251.5h2M563 251.5h1M545 252.5h1M549 252.5h2M552 252.5h2M555 252.5h2M560 252.5h2M563 252.5h1M578 252.5h1M545 253.5h2M549 253.5h2M552 253.5h3M556 253.5h2M561 253.5h1M570 253.5h1M578 253.5h1M592 253.5h1M538 254.5h1M540 254.5h1M543 254.5h1M545 254.5h2M549 254.5h2M553 254.5h2M556 254.5h2M559 254.5h1M563 254.5h1M566 254.5h1M568 254.5h1M570 254.5h1M573 254.5h2M592 254.5h1M538 255.5h1M540 255.5h1M543 255.5h1M551 255.5h4M558 255.5h2M563 255.5h2M566 255.5h1M568 255.5h1M570 255.5h1M573 255.5h2M577 255.5h1M539 256.5h1M545 256.5h2M551 256.5h5M558 256.5h2M561 256.5h1M564 256.5h1M577 256.5h1M539 257.5h1M545 257.5h2M552 257.5h4M559 257.5h1M561 257.5h1M583 257.5h1M553 258.5h2M558 258.5h1M560 258.5h1M564 258.5h1M583 258.5h1M533 259.5h1M550 259.5h5M558 259.5h3M562 259.5h1M564 259.5h1M569 259.5h1M576 259.5h2M528 260.5h1M533 260.5h1M548 260.5h1M550 260.5h5M558 260.5h3M562 260.5h1M564 260.5h2M569 260.5h1M576 260.5h2M528 261.5h1M542 261.5h1M547 261.5h4M552 261.5h4M557 261.5h4M562 261.5h4M576 261.5h1M542 262.5h1M547 262.5h9M557 262.5h8M571 262.5h1M573 262.5h1M540 263.5h3M545 263.5h1M547 263.5h19M567 263.5h3M571 263.5h1M573 263.5h1M538 264.5h1M540 264.5h2M543 264.5h9M553 264.5h17M535 265.5h1M538 265.5h1M540 265.5h1M543 265.5h2M546 265.5h17M564 265.5h5M574 265.5h1M535 266.5h1M540 266.5h1M542 266.5h27M574 266.5h1M542 267.5h2M545 267.5h23M531 268.5h1M535 268.5h2M540 268.5h1M545 268.5h21M567 268.5h1M518 269.5h1M531 269.5h1M534 269.5h3M540 269.5h1M544 269.5h24M570 269.5h1M518 270.5h1M534 270.5h1M540 270.5h28M570 270.5h1M575 270.5h1M539 271.5h22M562 271.5h1M564 271.5h5M570 271.5h1M575 271.5h1M539 272.5h2M542 272.5h27M575 272.5h1M526 273.5h1M540 273.5h2M543 273.5h28M526 274.5h1M538 274.5h1M540 274.5h31M577 274.5h2M529 275.5h1M531 275.5h3M538 275.5h1M540 275.5h1M542 275.5h29M572 275.5h2M577 275.5h2M529 276.5h1M531 276.5h3M535 276.5h2M539 276.5h27M567 276.5h3M572 276.5h2M535 277.5h2M539 277.5h3M544 277.5h26M573 277.5h1M576 277.5h1M538 278.5h1M540 278.5h1M543 278.5h26M570 278.5h1M572 278.5h2M576 278.5h1M538 279.5h3M543 279.5h26M570 279.5h1M572 279.5h2M575 279.5h1M530 280.5h1M538 280.5h2M541 280.5h31M575 280.5h1M530 281.5h1M535 281.5h5M541 281.5h31M573 281.5h1M576 281.5h1M586 281.5h1M524 282.5h1M535 282.5h3M539 282.5h32M573 282.5h1M576 282.5h1M586 282.5h1M524 283.5h1M532 283.5h2M535 283.5h1M537 283.5h1M539 283.5h30M570 283.5h1M574 283.5h1M576 283.5h1M532 284.5h2M537 284.5h1M541 284.5h27M569 284.5h1M573 284.5h2M576 284.5h1M534 285.5h1M537 285.5h2M541 285.5h30M573 285.5h2M577 285.5h1M582 285.5h1M534 286.5h1M537 286.5h2M541 286.5h28M570 286.5h1M574 286.5h1M577 286.5h1M582 286.5h1M535 287.5h1M538 287.5h1M541 287.5h28M570 287.5h1M572 287.5h1M535 288.5h1M537 288.5h3M541 288.5h27M570 288.5h1M572 288.5h1M575 288.5h1M525 289.5h1M537 289.5h1M539 289.5h27M568 289.5h4M575 289.5h1M579 289.5h1M525 290.5h1M533 290.5h1M535 290.5h1M539 290.5h2M542 290.5h32M579 290.5h2M533 291.5h3M537 291.5h1M539 291.5h1M541 291.5h33M580 291.5h1M585 291.5h1M534 292.5h1M536 292.5h2M539 292.5h28M568 292.5h4M573 292.5h1M585 292.5h1M532 293.5h1M536 293.5h2M539 293.5h21M561 293.5h6M569 293.5h1M573 293.5h1M531 294.5h2M537 294.5h1M539 294.5h2M543 294.5h23M567 294.5h3M572 294.5h2M531 295.5h1M539 295.5h3M543 295.5h27M572 295.5h2M539 296.5h1M541 296.5h30M538 297.5h2M541 297.5h2M544 297.5h28M535 298.5h1M538 298.5h5M544 298.5h16M561 298.5h4M567 298.5h5M586 298.5h1M534 299.5h2M540 299.5h3M544 299.5h22M567 299.5h3M586 299.5h1M534 300.5h1M540 300.5h1M542 300.5h1M544 300.5h2M547 300.5h15M563 300.5h3M567 300.5h2M578 300.5h1M537 301.5h1M539 301.5h3M544 301.5h11M556 301.5h12M571 301.5h2M578 301.5h1M533 302.5h1M537 302.5h1M539 302.5h3M543 302.5h2M546 302.5h1M548 302.5h7M556 302.5h12M571 302.5h2M533 303.5h1M539 303.5h1M541 303.5h1M543 303.5h25M529 304.5h1M539 304.5h1M543 304.5h11M555 304.5h13M570 304.5h1M573 304.5h1M575 304.5h1M529 305.5h1M543 305.5h4M548 305.5h3M552 305.5h8M561 305.5h3M567 305.5h1M570 305.5h1M573 305.5h1M575 305.5h1M543 306.5h4M548 306.5h12M561 306.5h5M567 306.5h1M569 306.5h3M543 307.5h4M548 307.5h8M557 307.5h9M568 307.5h2M571 307.5h1M536 308.5h1M538 308.5h1M544 308.5h3M548 308.5h16M565 308.5h1M568 308.5h1M573 308.5h1M536 309.5h1M538 309.5h1M544 309.5h1M546 309.5h5M552 309.5h8M562 309.5h1M565 309.5h1M567 309.5h2M573 309.5h1M540 310.5h1M542 310.5h1M544 310.5h14M559 310.5h1M562 310.5h4M567 310.5h1M569 310.5h1M577 310.5h1M579 310.5h1M540 311.5h3M544 311.5h3M548 311.5h18M567 311.5h1M569 311.5h1M577 311.5h1M579 311.5h1M539 312.5h1M541 312.5h1M544 312.5h1M546 312.5h8M555 312.5h11M567 312.5h1M539 313.5h1M541 313.5h2M546 313.5h20M567 313.5h1M571 313.5h2M575 313.5h1M542 314.5h1M544 314.5h6M551 314.5h1M554 314.5h12M567 314.5h1M569 314.5h1M571 314.5h2M575 314.5h1M535 315.5h1M541 315.5h2M544 315.5h6M551 315.5h2M554 315.5h12M567 315.5h1M569 315.5h1M587 315.5h1M535 316.5h1M540 316.5h3M544 316.5h5M550 316.5h18M571 316.5h1M587 316.5h1M533 317.5h1M540 317.5h2M545 317.5h4M550 317.5h11M562 317.5h2M565 317.5h2M571 317.5h2M587 317.5h1M533 318.5h1M544 318.5h1M546 318.5h2M550 318.5h1M554 318.5h1M556 318.5h3M560 318.5h4M565 318.5h1M572 318.5h1M541 319.5h1M544 319.5h1M546 319.5h2M550 319.5h1M552 319.5h7M561 319.5h1M563 319.5h1M566 319.5h1M537 320.5h1M541 320.5h2M545 320.5h2M548 320.5h1M550 320.5h1M552 320.5h7M560 320.5h7M535 321.5h1M537 321.5h1M539 321.5h1M541 321.5h2M545 321.5h1M548 321.5h8M557 321.5h9M530 322.5h1M535 322.5h1M538 322.5h4M543 322.5h2M546 322.5h1M548 322.5h17M566 322.5h1M569 322.5h1M572 322.5h2M530 323.5h1M538 323.5h3M543 323.5h2M546 323.5h5M552 323.5h11M564 323.5h4M569 323.5h1M572 323.5h2M535 324.5h1M539 324.5h1M543 324.5h1M547 324.5h2M550 324.5h2M553 324.5h10M564 324.5h4M572 324.5h1M583 324.5h1M535 325.5h1M542 325.5h1M544 325.5h1M546 325.5h11M559 325.5h5M566 325.5h3M570 325.5h1M583 325.5h1M542 326.5h1M544 326.5h12M557 326.5h7M565 326.5h4M570 326.5h2M545 327.5h1M547 327.5h5M553 327.5h10M564 327.5h4M571 327.5h1M581 327.5h1M541 328.5h2M545 328.5h3M549 328.5h5M556 328.5h12M569 328.5h2M581 328.5h1M541 329.5h3M545 329.5h2M548 329.5h17M567 329.5h1M569 329.5h2M573 329.5h1M540 330.5h1M542 330.5h2M545 330.5h11M557 330.5h9M567 330.5h1M569 330.5h2M572 330.5h2M530 331.5h1M535 331.5h1M540 331.5h3M544 331.5h5M550 331.5h2M553 331.5h3M557 331.5h9M567 331.5h1M569 331.5h1M572 331.5h1M530 332.5h1M535 332.5h1M541 332.5h1M544 332.5h1M546 332.5h6M553 332.5h3M557 332.5h2M560 332.5h4M565 332.5h2M537 333.5h1M540 333.5h1M543 333.5h1M549 333.5h2M552 333.5h2M555 333.5h1M557 333.5h10M572 333.5h1M537 334.5h1M540 334.5h1M543 334.5h1M546 334.5h1M549 334.5h18M570 334.5h1M572 334.5h1M540 335.5h1M546 335.5h1M548 335.5h1M550 335.5h15M570 335.5h1M534 336.5h1M536 336.5h1M540 336.5h1M545 336.5h1M548 336.5h1M552 336.5h8M561 336.5h4M566 336.5h2M571 336.5h1M534 337.5h1M536 337.5h1M542 337.5h1M545 337.5h1M547 337.5h1M553 337.5h4M558 337.5h6M566 337.5h2M571 337.5h1M575 337.5h1M542 338.5h1M545 338.5h7M553 338.5h2M557 338.5h4M563 338.5h1M566 338.5h2M572 338.5h1M575 338.5h1M546 339.5h1M548 339.5h4M553 339.5h2M556 339.5h2M559 339.5h1M567 339.5h1M572 339.5h1M551 340.5h1M554 340.5h4M559 340.5h1M566 340.5h1M538 341.5h2M542 341.5h1M549 341.5h7M557 341.5h1M559 341.5h2M566 341.5h1M570 341.5h1M538 342.5h2M542 342.5h1M546 342.5h1M549 342.5h6M557 342.5h4M566 342.5h1M570 342.5h1M546 343.5h1M550 343.5h1M552 343.5h3M557 343.5h3M562 343.5h1M566 343.5h1M550 344.5h4M557 344.5h2M562 344.5h1M564 344.5h1M551 345.5h4M557 345.5h2M564 345.5h1M548 346.5h1M550 346.5h1M552 346.5h1M554 346.5h1M572 346.5h1M539 347.5h2M544 347.5h10M556 347.5h7M565 347.5h2M569 347.5h1M572 347.5h2M576 347.5h1" stroke="#ff0000" stroke-width="1" fill="none"/><path d="M565 63.5h1M565 64.5h1M562 67.5h1M543 68.5h1M562 68.5h1M543 69.5h1M562 69.5h1M554 70.5h1M562 70.5h1M565 70.5h2M554 71.5h1M560 71.5h2M565 71.5h2M560 72.5h3M564 72.5h1M567 72.5h2M576 72.5h1M562 73.5h1M564 73.5h1M567 73.5h2M570 73.5h1M576 73.5h1M547 74.5h1M550 74.5h1M552 74.5h1M556 74.5h1M558 74.5h1M567 74.5h1M570 74.5h2M574 74.5h1M583 74.5h1M547 75.5h1M549 75.5h2M552 75.5h2M555 75.5h3M563 75.5h1M565 75.5h2M571 75.5h1M574 75.5h1M583 75.5h1M549 76.5h1M552 76.5h2M556 76.5h2M563 76.5h1M565 76.5h4M571 76.5h1M554 77.5h1M559 77.5h1M563 77.5h3M567 77.5h3M542 78.5h1M549 78.5h1M553 78.5h2M559 78.5h1M563 78.5h5M575 78.5h1M542 79.5h2M549 79.5h3M553 79.5h1M555 79.5h1M558 79.5h3M565 79.5h1M567 79.5h3M571 79.5h1M575 79.5h1M543 80.5h1M550 80.5h2M558 80.5h3M562 80.5h1M565 80.5h1M567 80.5h3M577 80.5h1M543 81.5h1M550 81.5h1M554 81.5h1M557 81.5h4M562 81.5h1M565 81.5h2M568 81.5h1M574 81.5h1M543 82.5h1M550 82.5h2M553 82.5h2M558 82.5h2M561 82.5h1M565 82.5h2M568 82.5h1M570 82.5h1M575 82.5h1M579 82.5h1M581 82.5h1M539 83.5h1M552 83.5h3M558 83.5h1M562 83.5h2M565 83.5h1M568 83.5h1M570 83.5h2M575 83.5h2M578 83.5h2M581 83.5h1M539 84.5h1M547 84.5h1M549 84.5h1M557 84.5h2M562 84.5h2M565 84.5h1M567 84.5h1M570 84.5h1M576 84.5h1M578 84.5h1M547 85.5h1M551 85.5h1M554 85.5h1M567 85.5h1M570 85.5h1M573 85.5h2M577 85.5h1M581 85.5h1M541 86.5h1M544 86.5h1M548 86.5h1M551 86.5h1M553 86.5h4M561 86.5h1M565 86.5h2M572 86.5h4M577 86.5h1M581 86.5h1M540 87.5h2M546 87.5h1M548 87.5h1M551 87.5h2M554 87.5h2M558 87.5h1M560 87.5h1M566 87.5h1M572 87.5h1M574 87.5h2M578 87.5h1M540 88.5h1M545 88.5h4M550 88.5h3M554 88.5h1M558 88.5h1M560 88.5h1M566 88.5h1M571 88.5h1M575 88.5h1M578 88.5h1M536 89.5h1M540 89.5h1M543 89.5h3M548 89.5h4M558 89.5h1M560 89.5h1M569 89.5h3M575 89.5h1M536 90.5h2M544 90.5h1M548 90.5h1M550 90.5h1M553 90.5h1M558 90.5h1M560 90.5h1M564 90.5h1M568 90.5h1M571 90.5h1M574 90.5h3M584 90.5h1M537 91.5h1M544 91.5h2M552 91.5h3M564 91.5h1M571 91.5h1M574 91.5h4M584 91.5h1M539 92.5h1M542 92.5h5M549 92.5h1M551 92.5h2M554 92.5h1M565 92.5h1M572 92.5h1M575 92.5h1M577 92.5h1M539 93.5h1M542 93.5h2M546 93.5h2M549 93.5h1M551 93.5h2M554 93.5h1M556 93.5h1M560 93.5h2M564 93.5h2M571 93.5h1M573 93.5h4M531 94.5h1M539 94.5h1M542 94.5h1M546 94.5h2M549 94.5h3M555 94.5h1M561 94.5h1M565 94.5h1M571 94.5h1M573 94.5h1M575 94.5h1M577 94.5h1M581 94.5h1M531 95.5h1M539 95.5h1M544 95.5h1M546 95.5h4M551 95.5h1M555 95.5h1M558 95.5h1M575 95.5h1M577 95.5h1M581 95.5h1M528 96.5h1M544 96.5h2M547 96.5h3M551 96.5h1M554 96.5h1M557 96.5h2M574 96.5h2M528 97.5h1M541 97.5h1M544 97.5h3M548 97.5h1M551 97.5h1M554 97.5h1M556 97.5h1M558 97.5h1M562 97.5h1M565 97.5h1M567 97.5h1M572 97.5h1M541 98.5h1M544 98.5h1M546 98.5h1M551 98.5h1M556 98.5h1M558 98.5h1M562 98.5h1M565 98.5h1M567 98.5h2M571 98.5h1M576 98.5h1M544 99.5h4M551 99.5h1M558 99.5h1M560 99.5h1M562 99.5h1M568 99.5h1M570 99.5h1M573 99.5h1M575 99.5h2M545 100.5h4M556 100.5h2M560 100.5h1M562 100.5h1M564 100.5h1M567 100.5h4M572 100.5h1M575 100.5h1M579 100.5h1M548 101.5h4M554 101.5h1M557 101.5h1M560 101.5h1M564 101.5h1M566 101.5h3M570 101.5h2M574 101.5h2M579 101.5h1M540 102.5h1M542 102.5h2M548 102.5h3M552 102.5h1M554 102.5h2M560 102.5h1M563 102.5h2M570 102.5h2M573 102.5h3M580 102.5h1M540 103.5h1M542 103.5h2M546 103.5h1M548 103.5h2M555 103.5h1M563 103.5h1M565 103.5h1M569 103.5h1M571 103.5h1M580 103.5h1M541 104.5h1M543 104.5h2M546 104.5h1M548 104.5h2M553 104.5h1M555 104.5h1M557 104.5h1M562 104.5h4M567 104.5h2M572 104.5h2M543 105.5h2M546 105.5h1M549 105.5h1M553 105.5h1M562 105.5h1M564 105.5h2M568 105.5h1M572 105.5h2M576 105.5h1M581 105.5h1M540 106.5h1M543 106.5h2M546 106.5h2M549 106.5h3M563 106.5h1M565 106.5h1M568 106.5h1M570 106.5h2M573 106.5h1M576 106.5h1M579 106.5h1M581 106.5h1M540 107.5h1M546 107.5h6M553 107.5h1M559 107.5h1M561 107.5h1M563 107.5h1M567 107.5h1M570 107.5h2M573 107.5h1M575 107.5h1M579 107.5h1M581 107.5h1M535 108.5h1M546 108.5h1M548 108.5h3M552 108.5h2M562 108.5h2M569 108.5h5M575 108.5h1M535 109.5h1M543 109.5h1M548 109.5h5M554 109.5h1M558 109.5h1M560 109.5h2M563 109.5h3M568 109.5h4M574 109.5h1M550 110.5h2M554 110.5h1M556 110.5h1M558 110.5h4M563 110.5h2M568 110.5h2M571 110.5h1M574 110.5h1M577 110.5h1M546 111.5h1M549 111.5h1M554 111.5h1M556 111.5h1M561 111.5h1M563 111.5h2M567 111.5h2M570 111.5h1M572 111.5h1M574 111.5h1M577 111.5h1M550 112.5h1M553 112.5h2M557 112.5h3M562 112.5h1M566 112.5h2M570 112.5h1M572 112.5h1M550 113.5h1M553 113.5h1M555 113.5h1M557 113.5h1M559 113.5h4M566 113.5h1M572 113.5h1M551 114.5h1M554 114.5h2M557 114.5h2M561 114.5h3M565 114.5h1M569 114.5h2M572 114.5h1M548 115.5h1M551 115.5h1M554 115.5h2M557 115.5h1M559 115.5h1M562 115.5h2M565 115.5h1M568 115.5h1M570 115.5h1M576 115.5h1M551 116.5h1M555 116.5h1M557 116.5h1M559 116.5h1M561 116.5h1M565 116.5h2M568 116.5h1M576 116.5h1M546 117.5h1M549 117.5h1M560 117.5h2M565 117.5h2M530 118.5h1M546 118.5h1M549 118.5h1M553 118.5h1M558 118.5h1M560 118.5h1M530 119.5h1M548 119.5h1M553 119.5h1M556 119.5h1M558 119.5h1M562 119.5h1M565 119.5h1M567 119.5h1M548 120.5h1M552 120.5h1M562 120.5h2M565 120.5h1M567 120.5h2M549 121.5h1M552 121.5h2M558 121.5h1M562 121.5h3M568 121.5h1M548 122.5h1M551 122.5h1M553 122.5h1M557 122.5h2M564 122.5h1M548 123.5h1M551 123.5h1M557 123.5h1M566 123.5h1M541 124.5h1M566 124.5h2M541 125.5h1M554 125.5h1M566 125.5h2M569 125.5h1M546 126.5h2M554 126.5h1M559 126.5h2M566 126.5h1M569 126.5h1M579 126.5h1M539 127.5h1M546 127.5h2M551 127.5h1M554 127.5h1M557 127.5h1M560 127.5h1M567 127.5h1M574 127.5h1M579 127.5h1M539 128.5h1M550 128.5h2M553 128.5h1M557 128.5h2M567 128.5h1M574 128.5h1M550 129.5h1M553 129.5h1M558 129.5h1M553 130.5h1M569 130.5h1M553 131.5h1M555 131.5h1M569 131.5h1M572 131.5h1M580 131.5h1M537 132.5h1M542 132.5h1M555 132.5h1M572 132.5h1M580 132.5h1M537 133.5h1M542 133.5h1M547 133.5h1M568 133.5h1M571 133.5h1M547 134.5h1M549 134.5h1M560 134.5h1M568 134.5h1M571 134.5h1M549 135.5h2M553 135.5h1M555 135.5h1M560 135.5h1M553 136.5h1M555 136.5h1M542 139.5h1M542 140.5h1M547 140.5h1M547 141.5h1M564 141.5h1M547 142.5h1M564 142.5h1M547 143.5h1M563 144.5h1M563 145.5h1M560 146.5h1M560 147.5h1M581 159.5h1M581 160.5h1M558 164.5h1M560 164.5h1M558 165.5h1M560 165.5h1M561 171.5h1M559 172.5h1M561 172.5h1M559 173.5h1M586 174.5h1M586 175.5h1M557 178.5h1M557 179.5h1M565 186.5h1M565 187.5h1" stroke="#0000ff" stroke-width="1" fill="none"/><path d="M551 63.5h1M551 64.5h1M565 68.5h1M548 69.5h1M556 69.5h1M558 69.5h1M564 69.5h2M567 69.5h1M548 70.5h1M551 70.5h1M556 70.5h3M561 70.5h1M564 70.5h1M567 70.5h1M551 71.5h1M557 71.5h1M568 71.5h1M556 72.5h1M559 72.5h1M549 73.5h1M555 73.5h2M559 73.5h1M573 73.5h1M549 74.5h1M555 74.5h1M559 74.5h3M572 74.5h2M554 75.5h1M558 75.5h5M569 75.5h2M572 75.5h1M578 75.5h1M548 76.5h1M554 76.5h1M558 76.5h5M564 76.5h1M569 76.5h2M578 76.5h1M548 77.5h1M552 77.5h2M555 77.5h4M560 77.5h3M566 77.5h1M570 77.5h1M552 78.5h1M555 78.5h4M560 78.5h3M570 78.5h1M573 78.5h1M552 79.5h1M554 79.5h1M556 79.5h2M561 79.5h3M566 79.5h1M570 79.5h1M572 79.5h2M545 80.5h1M548 80.5h2M552 80.5h6M561 80.5h1M563 80.5h2M566 80.5h1M570 80.5h1M572 80.5h1M575 80.5h2M545 81.5h1M548 81.5h1M552 81.5h2M555 81.5h2M561 81.5h1M563 81.5h2M567 81.5h1M569 81.5h1M572 81.5h1M575 81.5h3M549 82.5h1M552 82.5h1M555 82.5h3M560 82.5h1M562 82.5h3M567 82.5h1M569 82.5h1M572 82.5h1M574 82.5h1M576 82.5h2M549 83.5h3M555 83.5h3M559 83.5h3M564 83.5h1M566 83.5h2M569 83.5h1M572 83.5h1M574 83.5h1M544 84.5h2M550 84.5h7M559 84.5h3M564 84.5h1M566 84.5h1M568 84.5h2M571 84.5h2M574 84.5h2M544 85.5h2M549 85.5h2M552 85.5h2M555 85.5h12M568 85.5h2M571 85.5h2M575 85.5h2M578 85.5h1M542 86.5h1M547 86.5h1M549 86.5h2M552 86.5h1M557 86.5h4M562 86.5h3M567 86.5h4M576 86.5h1M578 86.5h1M542 87.5h1M547 87.5h1M549 87.5h2M553 87.5h1M556 87.5h2M559 87.5h1M561 87.5h5M567 87.5h4M576 87.5h1M549 88.5h1M553 88.5h1M555 88.5h3M559 88.5h1M561 88.5h3M565 88.5h1M567 88.5h4M572 88.5h2M577 88.5h1M546 89.5h2M552 89.5h6M559 89.5h1M561 89.5h3M565 89.5h4M572 89.5h2M577 89.5h2M543 90.5h1M545 90.5h3M549 90.5h1M551 90.5h2M554 90.5h4M559 90.5h1M561 90.5h3M565 90.5h3M569 90.5h2M572 90.5h2M578 90.5h1M582 90.5h1M539 91.5h1M543 91.5h1M547 91.5h5M555 91.5h9M565 91.5h6M572 91.5h2M578 91.5h1M582 91.5h1M550 92.5h1M553 92.5h1M555 92.5h10M566 92.5h3M570 92.5h1M573 92.5h1M576 92.5h1M578 92.5h1M544 93.5h2M548 93.5h1M550 93.5h1M553 93.5h1M555 93.5h1M557 93.5h3M562 93.5h2M566 93.5h3M570 93.5h1M572 93.5h1M577 93.5h1M543 94.5h3M548 94.5h1M552 94.5h3M556 94.5h5M562 94.5h3M566 94.5h5M572 94.5h1M574 94.5h1M576 94.5h1M542 95.5h1M545 95.5h1M550 95.5h1M552 95.5h3M556 95.5h2M559 95.5h16M576 95.5h1M578 95.5h2M542 96.5h1M550 96.5h1M553 96.5h1M555 96.5h2M559 96.5h15M578 96.5h2M542 97.5h1M549 97.5h2M553 97.5h1M555 97.5h1M557 97.5h1M559 97.5h2M563 97.5h2M566 97.5h1M568 97.5h4M573 97.5h3M578 97.5h2M542 98.5h2M547 98.5h4M552 98.5h4M557 98.5h1M559 98.5h2M563 98.5h2M566 98.5h1M569 98.5h2M572 98.5h4M579 98.5h2M543 99.5h1M548 99.5h3M552 99.5h6M559 99.5h1M561 99.5h1M563 99.5h5M569 99.5h1M571 99.5h2M574 99.5h1M580 99.5h1M535 100.5h1M543 100.5h2M549 100.5h7M558 100.5h2M561 100.5h1M563 100.5h1M565 100.5h2M571 100.5h1M573 100.5h2M580 100.5h1M582 100.5h1M535 101.5h1M543 101.5h1M552 101.5h2M555 101.5h2M558 101.5h2M561 101.5h3M565 101.5h1M569 101.5h1M572 101.5h2M582 101.5h1M531 102.5h1M541 102.5h1M547 102.5h1M551 102.5h1M553 102.5h1M556 102.5h4M561 102.5h2M565 102.5h5M572 102.5h1M576 102.5h1M531 103.5h1M541 103.5h1M547 103.5h1M550 103.5h5M556 103.5h7M564 103.5h1M566 103.5h3M570 103.5h1M572 103.5h2M575 103.5h2M542 104.5h1M550 104.5h3M554 104.5h1M556 104.5h1M558 104.5h4M566 104.5h1M569 104.5h3M575 104.5h1M542 105.5h1M548 105.5h1M551 105.5h2M554 105.5h6M561 105.5h1M563 105.5h1M566 105.5h2M569 105.5h1M571 105.5h1M574 105.5h2M553 106.5h7M561 106.5h2M564 106.5h1M566 106.5h2M569 106.5h1M572 106.5h1M574 106.5h1M542 107.5h1M544 107.5h1M552 107.5h1M554 107.5h5M560 107.5h1M562 107.5h1M564 107.5h3M572 107.5h1M542 108.5h1M544 108.5h1M551 108.5h1M554 108.5h2M557 108.5h2M560 108.5h2M564 108.5h3M547 109.5h1M553 109.5h1M555 109.5h1M557 109.5h1M562 109.5h1M566 109.5h1M573 109.5h1M576 109.5h1M547 110.5h1M549 110.5h1M553 110.5h1M555 110.5h1M562 110.5h1M565 110.5h3M573 110.5h1M576 110.5h1M578 110.5h1M548 111.5h1M551 111.5h3M555 111.5h1M558 111.5h1M560 111.5h1M562 111.5h1M565 111.5h2M571 111.5h1M575 111.5h1M578 111.5h1M547 112.5h2M551 112.5h2M556 112.5h1M560 112.5h2M563 112.5h3M568 112.5h2M575 112.5h1M547 113.5h2M552 113.5h1M556 113.5h1M558 113.5h1M563 113.5h3M568 113.5h2M575 113.5h1M548 114.5h1M552 114.5h1M556 114.5h1M560 114.5h1M564 114.5h1M566 114.5h1M573 114.5h1M575 114.5h1M556 115.5h1M558 115.5h1M560 115.5h2M564 115.5h1M566 115.5h1M569 115.5h1M573 115.5h1M578 115.5h1M550 116.5h1M556 116.5h1M558 116.5h1M560 116.5h1M562 116.5h1M564 116.5h1M569 116.5h1M578 116.5h1M550 117.5h1M556 117.5h1M559 117.5h1M564 117.5h1M548 118.5h1M556 118.5h2M559 118.5h1M561 118.5h1M564 118.5h1M574 118.5h1M549 119.5h1M555 119.5h1M557 119.5h1M560 119.5h2M564 119.5h1M574 119.5h1M549 120.5h1M553 120.5h1M555 120.5h1M560 120.5h1M555 121.5h1M572 121.5h1M578 121.5h1M552 122.5h1M555 122.5h1M569 122.5h2M572 122.5h1M578 122.5h1M542 123.5h1M552 123.5h1M569 123.5h2M542 124.5h1M546 124.5h1M546 125.5h1M553 125.5h1M553 126.5h1M555 126.5h2M555 127.5h2M559 127.5h1M554 128.5h1M559 128.5h1M554 129.5h1M567 134.5h1M567 135.5h1M551 137.5h1M551 138.5h1M559 139.5h1M535 140.5h1M559 140.5h1M535 141.5h1M556 143.5h1M556 144.5h1M554 145.5h1M553 146.5h2M553 147.5h1" stroke="#ffa000" stroke-width="1" fill="none"/><path d="M571 80.5h1M571 81.5h1M546 84.5h1M546 85.5h1M564 88.5h1M564 89.5h1M569 92.5h1M569 93.5h1M552 96.5h1M552 97.5h1M561 97.5h1M561 98.5h1M560 105.5h1M570 105.5h1M560 106.5h1M556 108.5h1M559 108.5h1M567 108.5h1M546 109.5h1M556 109.5h1M559 109.5h1M567 109.5h1M543 110.5h1M546 110.5h1M543 111.5h1M563 116.5h1M563 117.5h1M573 121.5h1M556 122.5h1M573 122.5h1M556 123.5h1M549 126.5h1M549 127.5h1M566 127.5h1M561 128.5h1M566 128.5h1M561 129.5h1M576 129.5h1M576 130.5h1M533 131.5h1M533 132.5h1M562 132.5h1M550 133.5h1M562 133.5h1M550 134.5h1M552 138.5h1M552 139.5h1M568 143.5h1M568 144.5h1M552 145.5h1M568 145.5h1M552 146.5h1M557 146.5h1M557 147.5h1M542 148.5h1M542 149.5h1M561 153.5h1M561 154.5h1M563 158.5h1M563 159.5h1M559 165.5h1M559 166.5h1M548 167.5h1M554 167.5h1M548 168.5h1M554 168.5h1M557 170.5h1M557 171.5h1M531 174.5h1M531 175.5h1M547 175.5h1M558 175.5h1M547 176.5h1M558 176.5h1M549 179.5h1M549 180.5h1M548 186.5h1M548 187.5h1M575 187.5h1M575 188.5h1" stroke="#00ff00" stroke-width="1" fill="none"/><rect x="500.5" y="47.5" width="135" height="146" fill="none" stroke="#000" stroke-width="1"/><path d="M565.0 121.0L563.0 121.6L561.0 121.6L559.0 121.3L557.0 121.1L556.6 121.0L555.0 120.7L553.0 120.1L551.0 119.2L550.8 119.0L549.4 117.0L549.0 116.6L547.6 115.0L547.0 114.4L545.9 113.0L545.0 111.2L544.9 111.0L543.4 109.0L543.0 108.5L541.6 107.0L541.0 106.1L540.2 105.0L539.6 103.0L540.0 101.0L540.4 99.0L540.2 97.0L539.7 95.0L539.1 93.0L539.0 92.1L538.7 91.0L539.0 90.4L539.4 89.0L540.2 87.0L541.0 85.8L541.4 85.0L542.7 83.0L543.0 81.6L543.4 81.0L545.0 79.1L545.0 79.0L546.0 77.0L546.8 75.0L547.0 74.6L548.2 73.0L549.0 72.2L551.0 71.6L552.7 71.0L553.0 70.9L555.0 69.8L557.0 69.2L559.0 69.1L559.4 69.0L561.0 68.4L563.0 67.6L565.0 67.7L567.0 68.9L567.2 69.0L569.0 69.9L571.0 70.9L571.2 71.0L573.0 71.8L574.7 73.0L575.0 73.6L575.9 75.0L576.6 77.0L577.0 77.3L578.6 79.0L579.0 79.4L580.2 81.0L581.0 82.8L581.1 83.0L581.7 85.0L581.9 87.0L582.1 89.0L582.4 91.0L582.3 93.0L582.1 95.0L581.8 97.0L581.0 98.8L580.9 99.0L579.9 101.0L579.0 103.0L579.0 103.1L578.8 105.0L578.6 107.0L578.6 109.0L578.6 111.0L577.8 113.0L577.0 113.9L575.0 114.8L574.5 115.0L573.0 115.9L571.1 117.0L571.0 117.1L569.0 118.7L568.6 119.0L567.0 120.4L565.1 121.0L565.0 121.0" stroke="#0000ff" stroke-width="1" fill="none"/><path d="M565.0 119.6L563.0 120.2L561.0 120.2L559.0 119.7L557.0 119.1L556.6 119.0L555.0 118.5L553.0 117.3L552.7 117.0L551.0 115.8L550.1 115.0L549.0 114.1L547.8 113.0L547.0 112.1L546.3 111.0L545.0 109.1L544.9 109.0L543.3 107.0L543.0 106.5L541.9 105.0L541.4 103.0L541.9 101.0L541.8 99.0L541.5 97.0L541.3 95.0L541.0 93.0L541.1 91.0L541.3 89.0L541.8 87.0L542.9 85.0L543.0 84.9L544.6 83.0L545.0 82.6L546.8 81.0L547.0 80.5L547.3 79.0L547.8 77.0L548.9 75.0L549.0 74.9L551.0 73.7L552.2 73.0L553.0 72.5L555.0 71.3L556.1 71.0L557.0 70.7L559.0 70.4L561.0 70.3L563.0 70.1L565.0 70.1L567.0 70.8L567.5 71.0L569.0 71.5L571.0 72.1L572.4 73.0L573.0 73.5L574.1 75.0L574.8 77.0L575.0 77.2L576.9 79.0L577.0 79.1L578.9 81.0L579.0 81.2L580.0 83.0L580.5 85.0L580.6 87.0L580.7 89.0L580.9 91.0L580.9 93.0L580.8 95.0L580.4 97.0L579.1 99.0L579.0 99.1L578.4 101.0L577.9 103.0L577.5 105.0L577.1 107.0L577.0 109.0L577.0 109.1L576.7 111.0L575.0 112.7L574.5 113.0L573.0 113.9L571.7 115.0L571.0 115.5L569.0 117.0L569.0 117.0L567.0 118.6L566.1 119.0L565.0 119.6" stroke="#0000ff" stroke-width="1" fill="none"/><path d="M565.0 118.2L563.0 118.6L561.0 118.5L559.0 117.9L557.0 117.0L556.9 117.0L555.0 116.3L553.1 115.0L553.0 114.9L551.0 113.4L550.5 113.0L549.0 111.6L548.5 111.0L547.0 109.3L546.8 109.0L545.2 107.0L545.0 106.6L544.2 105.0L544.5 103.0L544.6 101.0L543.6 99.0L543.1 97.0L543.0 95.2L543.0 95.0L542.8 93.0L542.8 91.0L543.0 89.5L543.0 89.0L543.3 87.0L544.4 85.0L545.0 84.4L547.0 83.0L547.0 83.0L548.5 81.0L549.0 79.3L549.1 79.0L550.0 77.0L551.0 76.0L552.1 75.0L553.0 74.3L555.0 73.0L555.1 73.0L557.0 72.1L559.0 71.9L561.0 72.2L563.0 72.7L565.0 72.8L567.0 73.0L567.1 73.0L569.0 73.3L571.0 74.0L572.1 75.0L573.0 76.6L573.2 77.0L574.7 79.0L575.0 79.3L577.0 80.7L577.3 81.0L578.5 83.0L579.0 85.0L579.0 85.0L579.2 87.0L579.5 89.0L579.8 91.0L579.7 93.0L579.5 95.0L579.0 96.4L578.8 97.0L578.0 99.0L577.2 101.0L577.0 101.5L576.6 103.0L576.3 105.0L576.0 107.0L575.6 109.0L575.0 110.2L574.4 111.0L573.0 112.0L571.7 113.0L571.0 113.6L569.4 115.0L569.0 115.4L567.0 116.9L566.9 117.0L565.0 118.2" stroke="#0000ff" stroke-width="1" fill="none"/><path d="M563.0 117.0L562.9 117.0L561.0 116.7L559.0 115.7L557.5 115.0L557.0 114.7L555.0 113.7L553.9 113.0L553.0 112.5L551.3 111.0L551.0 110.7L549.5 109.0L549.0 108.3L547.8 107.0L547.0 105.6L546.7 105.0L546.8 103.0L546.5 101.0L545.6 99.0L545.2 97.0L545.2 95.0L545.1 93.0L545.0 92.1L544.8 91.0L544.6 89.0L544.9 87.0L545.0 86.8L546.2 85.0L547.0 84.4L549.0 83.1L549.1 83.0L550.3 81.0L551.0 79.1L551.0 79.0L552.3 77.0L553.0 76.3L554.6 75.0L555.0 74.7L557.0 73.7L559.0 73.4L561.0 73.8L563.0 74.3L565.0 74.5L567.0 74.9L567.2 75.0L569.0 75.5L571.0 76.8L571.1 77.0L572.4 79.0L573.0 79.8L574.4 81.0L575.0 81.4L576.6 83.0L577.0 83.9L577.4 85.0L577.4 87.0L577.8 89.0L578.2 91.0L578.2 93.0L578.0 95.0L577.4 97.0L577.0 97.8L576.7 99.0L576.2 101.0L575.5 103.0L575.0 105.0L575.0 105.1L574.6 107.0L573.8 109.0L573.0 109.9L571.5 111.0L571.0 111.4L569.0 113.0L569.0 113.0L567.0 114.8L566.8 115.0L565.0 116.4L563.0 117.0L563.0 117.0" stroke="#0000ff" stroke-width="1" fill="none"/><path d="M563.0 115.2L562.3 115.0L561.0 114.6L559.0 113.0L559.0 113.0L557.0 112.1L555.0 111.2L554.7 111.0L553.0 110.0L552.0 109.0L551.0 107.4L550.7 107.0L549.5 105.0L549.0 103.8L548.7 103.0L548.0 101.0L547.3 99.0L547.0 97.1L547.0 97.0L547.0 96.7L547.1 95.0L547.2 93.0L547.0 91.7L546.9 91.0L546.4 89.0L546.6 87.0L547.0 86.5L548.5 85.0L549.0 84.7L551.0 83.0L551.0 83.0L552.0 81.0L552.8 79.0L553.0 78.7L554.5 77.0L555.0 76.6L557.0 75.4L559.0 75.1L561.0 75.5L563.0 75.9L565.0 76.2L567.0 76.9L567.2 77.0L569.0 78.1L569.9 79.0L571.0 80.6L571.3 81.0L572.9 83.0L573.0 83.1L574.9 85.0L575.0 85.6L575.2 87.0L575.6 89.0L576.1 91.0L576.3 93.0L576.2 95.0L576.0 97.0L575.6 99.0L575.0 100.8L574.9 101.0L574.1 103.0L573.5 105.0L573.0 106.5L572.7 107.0L571.0 108.6L570.4 109.0L569.0 110.0L567.7 111.0L567.0 111.5L565.6 113.0L565.0 113.8L563.4 115.0L563.0 115.2" stroke="#0808f7" stroke-width="1" fill="none"/><path d="M563.0 111.7L561.0 111.6L559.9 111.0L559.0 110.8L557.0 110.3L555.0 109.5L554.4 109.0L553.0 107.6L552.6 107.0L551.6 105.0L551.0 103.8L550.5 103.0L549.5 101.0L549.0 99.7L548.7 99.0L548.3 97.0L548.5 95.0L548.8 93.0L548.7 91.0L548.4 89.0L548.9 87.0L549.0 86.9L551.0 85.0L551.0 85.0L552.8 83.0L553.0 82.7L553.7 81.0L554.8 79.0L555.0 78.8L557.0 77.5L559.0 77.1L561.0 77.3L563.0 77.5L565.0 78.0L566.9 79.0L567.0 79.1L569.0 80.9L569.1 81.0L570.5 83.0L571.0 84.1L571.6 85.0L572.5 87.0L573.0 88.4L573.2 89.0L573.6 91.0L573.9 93.0L574.4 95.0L574.6 97.0L574.4 99.0L573.6 101.0L573.0 102.2L572.5 103.0L571.4 105.0L571.0 105.5L569.3 107.0L569.0 107.2L567.1 109.0L567.0 109.1L565.0 110.5L563.8 111.0L563.0 111.7" stroke="#1414eb" stroke-width="1" fill="none"/><path d="M561.0 109.2L559.0 109.1L558.4 109.0L557.0 108.7L555.0 107.5L554.6 107.0L553.5 105.0L553.0 104.1L552.4 103.0L551.1 101.0L551.0 100.8L550.2 99.0L549.8 97.0L550.0 95.0L550.3 93.0L550.4 91.0L550.4 89.0L551.0 87.4L551.2 87.0L553.0 85.1L553.1 85.0L554.7 83.0L555.0 82.4L556.0 81.0L557.0 80.0L559.0 79.4L561.0 79.1L563.0 79.2L565.0 79.8L566.7 81.0L567.0 81.2L568.6 83.0L569.0 83.7L569.7 85.0L570.6 87.0L571.0 88.2L571.3 89.0L571.7 91.0L571.9 93.0L572.6 95.0L573.0 96.5L573.1 97.0L573.0 98.2L572.9 99.0L571.9 101.0L571.0 102.5L570.7 103.0L569.0 104.9L569.0 105.0L567.0 107.0L567.0 107.0L565.0 108.4L563.0 108.9L562.3 109.0L561.0 109.2" stroke="#3333cc" stroke-width="1" fill="none"/><path d="M565.0 106.0L563.0 106.7L561.0 107.0L559.0 106.9L557.0 105.6L556.5 105.0L555.1 103.0L555.0 102.9L553.4 101.0L553.0 100.4L552.2 99.0L551.8 97.0L551.9 95.0L552.2 93.0L552.3 91.0L552.5 89.0L553.0 88.0L553.6 87.0L555.0 85.7L555.9 85.0L557.0 83.7L557.8 83.0L559.0 82.1L561.0 81.3L563.0 81.3L565.0 82.2L566.0 83.0L567.0 84.2L567.6 85.0L568.5 87.0L569.0 88.2L569.3 89.0L569.8 91.0L570.0 93.0L570.5 95.0L571.0 96.8L571.1 97.0L571.0 97.6L570.8 99.0L569.8 101.0L569.0 102.2L568.3 103.0L567.0 104.4L566.3 105.0L565.0 106.0" stroke="#73738c" stroke-width="1" fill="none"/><path d="M565.0 103.1L563.0 104.2L561.0 104.6L559.0 103.8L558.2 103.0L557.0 101.8L556.2 101.0L555.0 99.3L554.8 99.0L554.3 97.0L554.4 95.0L554.6 93.0L554.6 91.0L555.0 89.1L555.0 89.0L557.0 87.2L557.4 87.0L559.0 85.9L560.2 85.0L561.0 84.4L563.0 84.1L564.3 85.0L565.0 85.6L565.9 87.0L566.9 89.0L567.0 89.4L567.4 91.0L567.8 93.0L568.2 95.0L568.7 97.0L568.5 99.0L567.4 101.0L567.0 101.5L565.2 103.0L565.0 103.1" stroke="#808080" stroke-width="1" fill="none"/><path d="M563.0 101.8L561.0 102.0L559.5 101.0L559.0 100.5L557.8 99.0L557.0 97.0L557.0 97.0L556.9 95.0L557.0 94.1L557.1 93.0L557.3 91.0L559.0 89.1L559.4 89.0L561.0 88.4L563.0 88.7L563.3 89.0L564.8 91.0L565.0 91.4L565.6 93.0L566.1 95.0L566.5 97.0L566.4 99.0L565.0 100.7L564.6 101.0L563.0 101.8" stroke="#85857a" stroke-width="1" fill="none"/><path d="M563.0 98.4L561.0 97.9L560.3 97.0L559.4 95.0L559.8 93.0L561.0 91.8L563.0 92.6L563.3 93.0L563.7 95.0L563.6 97.0L563.0 98.4" stroke="#bfbf40" stroke-width="1" fill="none"/><path d="M561.0 347.5L559.0 347.5L557.0 347.5L555.0 347.5L553.0 347.5L551.0 347.5L549.0 347.5L547.0 347.5L546.4 347.5L545.0 347.5L544.4 347.0L545.0 345.5L545.2 345.0L546.3 343.0L545.8 341.0L545.0 339.3L544.8 339.0L543.8 337.0L543.0 335.9L542.0 335.0L541.0 334.5L539.6 333.0L539.2 331.0L539.9 329.0L541.0 327.2L541.2 327.0L541.0 325.3L541.0 325.0L539.0 323.3L538.7 323.0L538.1 321.0L539.0 319.5L539.3 319.0L539.9 317.0L539.8 315.0L539.4 313.0L539.3 311.0L540.3 309.0L540.7 307.0L539.8 305.0L539.0 304.0L538.0 303.0L537.0 301.5L536.6 301.0L536.5 299.0L537.0 297.0L536.3 295.0L535.0 293.3L534.7 293.0L533.9 291.0L534.6 289.0L535.0 287.4L535.1 287.0L535.0 286.8L534.1 285.0L533.0 283.1L532.9 283.0L533.0 282.6L533.3 281.0L534.4 279.0L535.0 277.8L535.3 277.0L536.4 275.0L537.0 273.0L536.3 271.0L536.5 269.0L537.0 268.6L538.4 267.0L539.0 266.1L539.4 265.0L540.2 263.0L541.0 262.1L543.0 261.0L543.1 261.0L545.0 259.8L546.0 259.0L547.0 257.8L547.8 257.0L548.3 255.0L547.0 253.1L546.9 253.0L546.9 251.0L547.0 250.9L549.0 250.2L551.0 249.7L553.0 249.3L555.0 249.3L557.0 249.5L559.0 249.7L561.0 249.6L561.8 251.0L562.4 253.0L563.0 254.0L563.7 255.0L565.0 256.5L565.5 257.0L567.0 259.0L567.0 259.0L568.9 261.0L569.0 261.1L571.0 262.9L571.1 263.0L571.0 263.5L570.9 265.0L570.7 267.0L571.0 268.7L571.1 269.0L572.5 271.0L573.0 272.2L573.6 273.0L574.6 275.0L575.0 275.8L575.7 277.0L576.3 279.0L576.7 281.0L577.0 282.7L577.1 283.0L577.0 283.2L576.0 285.0L575.1 287.0L575.5 289.0L575.6 291.0L575.0 292.6L574.9 293.0L574.1 295.0L573.4 297.0L573.0 298.0L572.7 299.0L571.7 301.0L571.2 303.0L572.3 305.0L572.2 307.0L571.2 309.0L571.0 309.5L570.6 311.0L570.8 313.0L570.7 315.0L569.6 317.0L569.0 318.0L568.7 319.0L569.0 320.4L569.3 321.0L571.0 322.8L571.4 323.0L572.4 325.0L572.6 327.0L572.8 329.0L572.5 331.0L571.0 332.8L570.9 333.0L570.1 335.0L569.4 337.0L569.0 337.5L567.7 339.0L567.0 339.5L565.0 339.5L563.0 340.8L562.9 341.0L563.0 341.4L564.2 343.0L565.0 343.5L566.6 345.0L567.0 346.4L567.1 347.0L567.0 347.1L565.0 347.5L563.0 347.5L561.1 347.5L561.0 347.5" stroke="#0000ff" stroke-width="1" fill="none"/><path d="M559.0 347.4L557.0 347.5L555.1 347.0L555.0 346.9L553.0 346.7L551.0 346.8L549.8 345.0L549.9 343.0L549.4 341.0L549.0 339.0L549.0 339.0L549.0 339.0L549.3 337.0L549.0 336.5L548.3 335.0L547.0 333.5L546.4 333.0L545.0 331.8L543.3 331.0L543.9 329.0L544.6 327.0L544.2 325.0L544.0 323.0L545.0 321.2L545.1 321.0L545.5 319.0L545.0 318.1L544.5 317.0L543.8 315.0L544.0 313.0L544.4 311.0L544.2 309.0L543.5 307.0L543.0 305.9L542.6 305.0L541.7 303.0L541.0 301.5L540.7 301.0L540.0 299.0L539.6 297.0L539.1 295.0L539.0 294.7L538.3 293.0L537.6 291.0L537.7 289.0L538.1 287.0L538.0 285.0L537.3 283.0L537.1 281.0L537.7 279.0L538.3 277.0L539.0 275.0L539.0 273.0L538.8 271.0L539.0 270.5L539.7 269.0L541.0 267.4L541.3 267.0L542.2 265.0L543.0 264.0L544.0 263.0L545.0 262.4L546.8 261.0L547.0 260.8L548.9 259.0L549.0 258.9L551.0 257.2L551.7 257.0L553.0 255.3L555.0 256.8L555.4 257.0L557.0 257.2L557.5 257.0L559.0 256.0L561.0 256.8L561.2 257.0L563.0 258.5L563.5 259.0L565.0 260.5L565.5 261.0L567.0 262.7L567.3 263.0L568.3 265.0L568.6 267.0L569.0 268.9L569.0 269.0L570.0 271.0L570.7 273.0L571.0 274.3L571.3 275.0L572.1 277.0L572.9 279.0L573.0 281.0L572.1 283.0L571.5 285.0L571.8 287.0L572.8 289.0L573.0 289.7L573.3 291.0L573.0 291.6L572.4 293.0L571.6 295.0L571.2 297.0L571.0 297.4L570.1 299.0L569.0 300.3L568.6 301.0L567.9 303.0L567.8 305.0L567.5 307.0L567.0 308.9L567.0 309.0L567.0 309.1L567.3 311.0L567.8 313.0L567.6 315.0L567.0 316.4L566.8 317.0L566.6 319.0L566.9 321.0L567.0 321.5L567.5 323.0L568.0 325.0L568.5 327.0L568.6 329.0L568.3 331.0L567.5 333.0L567.0 333.9L566.2 335.0L565.0 336.1L563.1 337.0L563.0 337.1L561.0 338.4L560.2 339.0L559.3 341.0L559.4 343.0L559.9 345.0L559.5 347.0L559.0 347.4" stroke="#0a0af5" stroke-width="1" fill="none"/><path d="M559.0 335.3L557.3 335.0L557.0 334.9L555.0 333.7L554.1 333.0L553.0 332.4L551.3 331.0L551.0 330.8L549.4 329.0L549.0 328.2L548.5 327.0L547.9 325.0L548.5 323.0L549.0 322.6L551.0 321.6L551.9 321.0L552.4 319.0L551.0 317.4L550.4 317.0L549.0 316.3L547.8 315.0L547.4 313.0L547.4 311.0L547.3 309.0L547.0 307.5L546.9 307.0L546.0 305.0L545.3 303.0L545.0 302.1L544.6 301.0L543.5 299.0L543.0 298.0L542.6 297.0L542.0 295.0L541.5 293.0L541.1 291.0L541.0 290.5L540.7 289.0L540.9 287.0L541.0 286.4L541.1 285.0L541.3 283.0L541.7 281.0L541.9 279.0L541.5 277.0L541.3 275.0L541.1 273.0L541.3 271.0L542.7 269.0L543.0 268.6L544.4 267.0L545.0 266.1L545.7 265.0L547.0 263.8L547.8 263.0L549.0 261.8L550.0 261.0L551.0 260.3L553.0 259.9L555.0 260.8L556.0 261.0L557.0 261.2L557.7 261.0L559.0 260.6L561.0 261.0L561.0 261.0L563.0 262.7L563.3 263.0L565.0 265.0L565.0 265.1L566.0 267.0L566.8 269.0L567.0 269.5L567.6 271.0L568.2 273.0L568.6 275.0L568.9 277.0L569.0 277.3L569.5 279.0L569.7 281.0L569.2 283.0L569.0 284.8L569.0 285.0L568.9 287.0L568.8 289.0L568.9 291.0L568.8 293.0L568.7 295.0L567.9 297.0L567.0 298.2L566.5 299.0L565.8 301.0L565.0 303.0L565.0 303.0L564.2 305.0L563.4 307.0L563.0 307.9L562.1 309.0L562.9 311.0L563.0 311.1L564.4 313.0L564.6 315.0L564.2 317.0L563.8 319.0L563.8 321.0L563.3 323.0L563.2 325.0L564.4 327.0L565.0 328.5L565.2 329.0L565.3 331.0L565.0 331.6L564.1 333.0L563.0 333.9L561.0 334.8L559.9 335.0L559.0 335.3" stroke="#1f1fe0" stroke-width="1" fill="none"/><path d="M555.0 311.6L553.0 311.8L551.8 311.0L551.5 309.0L551.7 307.0L551.0 306.4L550.2 305.0L549.0 303.3L548.8 303.0L548.0 301.0L547.0 299.0L547.0 298.9L545.9 297.0L545.2 295.0L545.0 294.3L544.7 293.0L544.1 291.0L543.5 289.0L543.5 287.0L543.7 285.0L543.9 283.0L544.2 281.0L544.3 279.0L544.1 277.0L543.7 275.0L543.7 273.0L544.7 271.0L545.0 270.7L546.7 269.0L547.0 268.6L548.1 267.0L549.0 265.9L550.2 265.0L551.0 264.4L553.0 264.0L555.0 264.6L557.0 264.8L559.0 264.4L560.7 265.0L561.0 265.1L562.4 267.0L563.0 268.7L563.1 269.0L564.2 271.0L565.0 272.4L565.3 273.0L565.7 275.0L566.4 277.0L567.0 278.7L567.1 279.0L567.3 281.0L567.1 283.0L567.0 285.0L567.0 285.1L566.6 287.0L565.5 289.0L565.1 291.0L565.6 293.0L565.2 295.0L565.0 295.3L563.6 297.0L563.0 298.5L562.8 299.0L561.9 301.0L561.0 302.3L560.5 303.0L559.0 304.7L558.4 305.0L557.0 306.0L555.2 307.0L555.9 309.0L555.7 311.0L555.0 311.6" stroke="#3d3dc2" stroke-width="1" fill="none"/><path d="M555.0 301.2L553.5 301.0L553.0 300.9L551.0 299.7L550.5 299.0L549.3 297.0L549.0 296.1L548.6 295.0L548.0 293.0L547.6 291.0L547.0 289.0L547.0 288.9L546.4 287.0L546.2 285.0L546.2 283.0L546.2 281.0L546.4 279.0L546.5 277.0L546.6 275.0L547.0 273.4L547.1 273.0L548.5 271.0L549.0 270.3L550.1 269.0L551.0 268.1L553.0 267.5L555.0 267.8L557.0 268.1L559.0 268.7L559.3 269.0L560.6 271.0L561.0 271.7L561.8 273.0L562.4 275.0L563.0 276.4L563.2 277.0L564.6 279.0L565.0 281.0L564.6 283.0L564.4 285.0L563.7 287.0L563.0 288.1L562.7 289.0L562.1 291.0L561.6 293.0L561.0 294.0L560.5 295.0L559.0 297.0L559.0 297.1L558.0 299.0L557.0 300.6L555.9 301.0L555.0 301.2" stroke="#5757a8" stroke-width="1" fill="none"/><path d="M555.0 295.3L553.0 295.6L552.5 295.0L551.0 293.2L550.9 293.0L550.1 291.0L549.5 289.0L549.0 287.4L548.9 287.0L548.5 285.0L548.5 283.0L548.6 281.0L548.7 279.0L548.9 277.0L549.0 276.7L549.6 275.0L550.9 273.0L551.0 272.8L553.0 271.6L555.0 271.3L557.0 271.5L558.4 273.0L559.0 274.0L559.4 275.0L560.3 277.0L561.0 278.3L561.5 279.0L562.2 281.0L562.1 283.0L561.8 285.0L561.3 287.0L561.0 287.7L560.6 289.0L559.9 291.0L559.0 292.5L558.5 293.0L557.0 294.4L555.4 295.0L555.0 295.3" stroke="#6b6b94" stroke-width="1" fill="none"/><path d="M557.0 291.3L555.0 292.0L553.0 291.1L552.9 291.0L552.3 289.0L551.7 287.0L551.0 285.0L551.5 283.0L552.0 281.0L551.6 279.0L551.9 277.0L553.0 275.8L555.0 275.3L557.0 276.3L557.4 277.0L558.6 279.0L559.0 279.8L559.4 281.0L559.6 283.0L559.5 285.0L559.1 287.0L559.0 287.3L558.4 289.0L557.3 291.0L557.0 291.3" stroke="#808080" stroke-width="1" fill="none"/></g><text x="538.5" y="67" font-size="17.5" letter-spacing="0.4">R2: 64.09%</text><g shape-rendering="crispEdges"><path d="M1019 84.5h1M931 85.5h1M1019 85.5h1M931 86.5h1M931 90.5h1M931 91.5h1M933 91.5h1M931 92.5h3M930 93.5h3M998 93.5h1M1003 93.5h1M930 94.5h2M964 94.5h1M998 94.5h1M1003 94.5h1M931 95.5h1M959 95.5h1M961 95.5h1M964 95.5h1M973 95.5h1M931 96.5h2M959 96.5h1M961 96.5h1M965 96.5h1M973 96.5h1M1002 96.5h1M1012 96.5h1M931 97.5h2M934 97.5h1M939 97.5h1M956 97.5h1M965 97.5h1M977 97.5h1M1002 97.5h1M1004 97.5h1M1012 97.5h3M1037 97.5h1M930 98.5h2M934 98.5h1M939 98.5h1M944 98.5h1M948 98.5h1M955 98.5h2M959 98.5h1M969 98.5h1M977 98.5h1M980 98.5h1M992 98.5h1M997 98.5h1M1004 98.5h1M1007 98.5h1M1010 98.5h2M1013 98.5h2M1037 98.5h1M930 99.5h3M936 99.5h2M944 99.5h2M948 99.5h1M955 99.5h1M958 99.5h2M966 99.5h1M969 99.5h1M977 99.5h2M980 99.5h1M984 99.5h1M986 99.5h1M992 99.5h1M995 99.5h1M997 99.5h1M999 99.5h1M1001 99.5h1M1004 99.5h1M1006 99.5h2M1009 99.5h3M1023 99.5h1M1036 99.5h1M1039 99.5h1M1058 99.5h1M930 100.5h3M936 100.5h2M939 100.5h1M944 100.5h2M948 100.5h1M953 100.5h1M957 100.5h2M960 100.5h1M966 100.5h1M968 100.5h2M973 100.5h1M977 100.5h2M980 100.5h1M984 100.5h1M986 100.5h1M988 100.5h1M990 100.5h1M994 100.5h2M997 100.5h1M999 100.5h1M1001 100.5h1M1003 100.5h4M1009 100.5h3M1019 100.5h2M1022 100.5h2M1026 100.5h1M1035 100.5h2M1039 100.5h1M1058 100.5h1M930 101.5h3M937 101.5h1M939 101.5h1M948 101.5h1M950 101.5h2M953 101.5h1M956 101.5h3M960 101.5h1M966 101.5h4M971 101.5h1M973 101.5h1M976 101.5h1M980 101.5h1M984 101.5h1M988 101.5h1M990 101.5h1M994 101.5h4M1000 101.5h8M1009 101.5h6M1016 101.5h1M1019 101.5h2M1022 101.5h2M1026 101.5h1M1035 101.5h1M930 102.5h3M935 102.5h1M939 102.5h3M944 102.5h2M948 102.5h4M953 102.5h1M956 102.5h2M960 102.5h1M966 102.5h2M969 102.5h1M971 102.5h1M975 102.5h3M980 102.5h1M983 102.5h2M986 102.5h2M990 102.5h1M992 102.5h5M998 102.5h7M1006 102.5h5M1012 102.5h3M1016 102.5h2M1020 102.5h1M1023 102.5h6M1031 102.5h2M1036 102.5h1M1047 102.5h1M930 103.5h4M935 103.5h1M937 103.5h1M939 103.5h4M944 103.5h2M947 103.5h3M951 103.5h1M953 103.5h2M956 103.5h2M960 103.5h1M963 103.5h1M965 103.5h1M967 103.5h3M971 103.5h2M975 103.5h3M980 103.5h1M983 103.5h2M986 103.5h2M989 103.5h8M998 103.5h8M1007 103.5h4M1012 103.5h1M1014 103.5h4M1019 103.5h2M1022 103.5h4M1027 103.5h2M1031 103.5h2M1036 103.5h1M1039 103.5h1M1042 103.5h1M1047 103.5h1M930 104.5h5M937 104.5h6M944 104.5h5M950 104.5h3M954 104.5h10M965 104.5h5M972 104.5h4M977 104.5h2M980 104.5h1M982 104.5h20M1003 104.5h13M1019 104.5h2M1022 104.5h2M1025 104.5h3M1030 104.5h2M1033 104.5h1M1039 104.5h1M1042 104.5h1M930 105.5h3M934 105.5h1M936 105.5h3M940 105.5h1M942 105.5h1M944 105.5h3M948 105.5h5M954 105.5h6M961 105.5h9M972 105.5h9M982 105.5h2M985 105.5h5M991 105.5h24M1016 105.5h1M1018 105.5h10M1029 105.5h5M1035 105.5h2M1041 105.5h1M930 106.5h11M942 106.5h4M947 106.5h23M971 106.5h20M992 106.5h7M1000 106.5h28M1029 106.5h1M1031 106.5h2M1035 106.5h2M1039 106.5h1M1041 106.5h3M1059 106.5h1M930 107.5h19M950 107.5h2M953 107.5h1M956 107.5h14M971 107.5h60M1032 107.5h2M1035 107.5h1M1039 107.5h1M1042 107.5h2M1050 107.5h1M1059 107.5h1M930 108.5h22M953 108.5h2M957 108.5h80M1039 108.5h1M1041 108.5h1M1050 108.5h1M930 109.5h25M957 109.5h22M980 109.5h49M1030 109.5h3M1034 109.5h1M1036 109.5h1M1039 109.5h1M1041 109.5h1M1044 109.5h1M1049 109.5h1M930 110.5h26M957 110.5h1M959 110.5h10M970 110.5h51M1022 110.5h13M1036 110.5h1M1039 110.5h1M1044 110.5h1M1049 110.5h1M1053 110.5h1M930 111.5h13M944 111.5h83M1028 111.5h6M1036 111.5h2M1039 111.5h1M1041 111.5h1M1043 111.5h1M1048 111.5h2M1053 111.5h1M930 112.5h97M1028 112.5h7M1037 112.5h2M1040 112.5h2M1043 112.5h2M1048 112.5h2M930 113.5h15M946 113.5h9M956 113.5h18M975 113.5h67M1044 113.5h1M930 114.5h110M1041 114.5h1M1044 114.5h1M930 115.5h106M1037 115.5h1M1039 115.5h2M1044 115.5h1M1046 115.5h2M930 116.5h24M955 116.5h67M1023 116.5h15M1039 116.5h3M1044 116.5h4M930 117.5h9M940 117.5h26M967 117.5h57M1025 117.5h7M1033 117.5h5M1040 117.5h2M1045 117.5h1M1048 117.5h1M930 118.5h7M938 118.5h1M940 118.5h19M960 118.5h6M967 118.5h5M973 118.5h7M981 118.5h51M1033 118.5h3M1037 118.5h2M1040 118.5h2M1046 118.5h1M1048 118.5h1M930 119.5h14M945 119.5h4M950 119.5h12M963 119.5h59M1024 119.5h1M1027 119.5h4M1033 119.5h1M1035 119.5h1M1038 119.5h1M1041 119.5h1M1046 119.5h1M1054 119.5h1M930 120.5h6M937 120.5h25M963 120.5h63M1027 120.5h3M1031 120.5h1M1035 120.5h2M1038 120.5h1M1054 120.5h1M930 121.5h4M938 121.5h2M941 121.5h2M944 121.5h6M951 121.5h37M989 121.5h24M1014 121.5h16M1031 121.5h1M1034 121.5h1M1036 121.5h1M1038 121.5h1M930 122.5h5M936 122.5h2M939 122.5h7M947 122.5h9M957 122.5h7M966 122.5h6M973 122.5h11M985 122.5h30M1017 122.5h7M1025 122.5h3M1029 122.5h2M1034 122.5h1M1036 122.5h1M1041 122.5h1M930 123.5h5M936 123.5h2M939 123.5h8M948 123.5h3M953 123.5h2M958 123.5h1M960 123.5h3M964 123.5h9M977 123.5h9M988 123.5h2M991 123.5h3M995 123.5h3M999 123.5h16M1017 123.5h1M1020 123.5h2M1023 123.5h1M1025 123.5h2M1029 123.5h2M1032 123.5h1M1037 123.5h1M1041 123.5h1M930 124.5h4M935 124.5h3M941 124.5h6M948 124.5h3M952 124.5h3M956 124.5h1M958 124.5h1M960 124.5h3M964 124.5h3M968 124.5h1M970 124.5h4M975 124.5h11M988 124.5h7M996 124.5h2M999 124.5h3M1003 124.5h2M1006 124.5h1M1008 124.5h2M1013 124.5h2M1019 124.5h3M1023 124.5h1M1025 124.5h2M1029 124.5h1M1032 124.5h1M1034 124.5h2M1037 124.5h1M1043 124.5h1M1046 124.5h1M1055 124.5h1M930 125.5h4M935 125.5h3M941 125.5h1M943 125.5h1M945 125.5h1M948 125.5h2M952 125.5h2M956 125.5h1M958 125.5h1M960 125.5h3M966 125.5h1M969 125.5h2M972 125.5h2M975 125.5h4M982 125.5h3M988 125.5h1M990 125.5h1M992 125.5h3M996 125.5h9M1006 125.5h5M1014 125.5h1M1019 125.5h1M1021 125.5h1M1025 125.5h1M1029 125.5h1M1034 125.5h2M1043 125.5h1M1046 125.5h1M1055 125.5h1M930 126.5h4M935 126.5h2M938 126.5h1M942 126.5h1M945 126.5h1M952 126.5h1M956 126.5h1M960 126.5h1M969 126.5h1M972 126.5h2M976 126.5h1M978 126.5h1M981 126.5h2M988 126.5h1M990 126.5h1M992 126.5h2M996 126.5h3M1002 126.5h9M1013 126.5h1M1018 126.5h1M1021 126.5h1M1026 126.5h1M1028 126.5h2M1038 126.5h1M930 127.5h2M933 127.5h1M935 127.5h1M937 127.5h2M942 127.5h1M944 127.5h1M951 127.5h1M954 127.5h1M958 127.5h1M969 127.5h1M973 127.5h1M977 127.5h1M981 127.5h1M988 127.5h1M992 127.5h2M996 127.5h1M1002 127.5h4M1007 127.5h1M1013 127.5h1M1018 127.5h1M1026 127.5h3M1038 127.5h1M930 128.5h4M935 128.5h1M937 128.5h3M944 128.5h1M951 128.5h1M954 128.5h1M956 128.5h1M958 128.5h1M965 128.5h1M977 128.5h1M985 128.5h1M987 128.5h1M989 128.5h1M993 128.5h1M997 128.5h1M1002 128.5h1M1004 128.5h2M1007 128.5h2M1015 128.5h1M1027 128.5h1M1032 128.5h1M930 129.5h1M932 129.5h2M935 129.5h1M938 129.5h2M941 129.5h1M944 129.5h1M956 129.5h1M965 129.5h1M985 129.5h1M987 129.5h3M991 129.5h1M994 129.5h1M997 129.5h2M1000 129.5h1M1002 129.5h1M1005 129.5h1M1007 129.5h2M1015 129.5h1M1028 129.5h1M1032 129.5h1M930 130.5h1M932 130.5h1M941 130.5h1M974 130.5h1M983 130.5h1M986 130.5h1M988 130.5h1M991 130.5h1M994 130.5h1M998 130.5h1M1000 130.5h1M1002 130.5h2M1006 130.5h1M1025 130.5h1M1028 130.5h1M930 131.5h1M932 131.5h2M965 131.5h1M974 131.5h1M978 131.5h1M983 131.5h1M986 131.5h2M1000 131.5h1M1003 131.5h1M1006 131.5h1M1025 131.5h1M1031 131.5h1M1039 131.5h1M930 132.5h5M939 132.5h1M944 132.5h1M958 132.5h1M965 132.5h1M978 132.5h1M987 132.5h1M989 132.5h1M994 132.5h1M1000 132.5h2M1006 132.5h1M1016 132.5h1M1031 132.5h1M1039 132.5h1M1041 132.5h1M931 133.5h2M934 133.5h1M939 133.5h1M944 133.5h1M958 133.5h1M968 133.5h1M970 133.5h1M981 133.5h1M989 133.5h1M994 133.5h1M1001 133.5h1M1006 133.5h1M1016 133.5h1M1025 133.5h1M1032 133.5h2M1040 133.5h2M931 134.5h2M968 134.5h1M970 134.5h1M981 134.5h1M1000 134.5h1M1025 134.5h1M1031 134.5h3M1040 134.5h1M930 135.5h1M932 135.5h1M971 135.5h1M995 135.5h1M1000 135.5h1M1022 135.5h1M1028 135.5h1M1031 135.5h1M1044 135.5h1M930 136.5h1M932 136.5h1M961 136.5h1M971 136.5h1M991 136.5h1M995 136.5h1M1022 136.5h1M1028 136.5h1M1044 136.5h1M938 137.5h1M950 137.5h1M961 137.5h1M979 137.5h1M991 137.5h1M996 137.5h2M1003 137.5h1M1014 137.5h1M1044 137.5h1M938 138.5h1M950 138.5h1M979 138.5h1M996 138.5h2M1003 138.5h1M1010 138.5h1M1014 138.5h1M931 139.5h1M1010 139.5h1M1034 139.5h1M1042 139.5h1M931 140.5h1M962 140.5h1M964 140.5h1M1012 140.5h1M1016 140.5h1M1034 140.5h1M1042 140.5h1M951 141.5h1M962 141.5h1M964 141.5h1M967 141.5h1M1012 141.5h1M1016 141.5h2M951 142.5h1M967 142.5h1M1017 142.5h1M969 143.5h1M987 143.5h1M946 144.5h1M969 144.5h1M987 144.5h1M946 145.5h1M966 145.5h1M966 146.5h1M994 147.5h1M1022 147.5h1M945 148.5h1M980 148.5h1M994 148.5h1M1022 148.5h1M945 149.5h1M980 149.5h1M999 151.5h1M999 152.5h2M1000 153.5h1M953 154.5h1M953 155.5h1M976 158.5h1M976 159.5h1M952 163.5h1M952 164.5h1" stroke="#0000ff" stroke-width="1" fill="none"/><path d="M1082 115.5h1M1092 115.5h1M1082 116.5h1M1092 116.5h1M1092 118.5h1M1152 118.5h1M1092 119.5h1M1152 119.5h1M1098 121.5h1M1098 122.5h1M1091 123.5h1M1091 124.5h1M1077 126.5h1M1072 127.5h1M1077 127.5h1M1072 128.5h1M1089 131.5h1M1088 132.5h2M1093 132.5h1M1088 133.5h1M1093 133.5h1M1085 136.5h1M1085 137.5h1M1097 143.5h1M1097 144.5h1M1101 154.5h1M1101 155.5h1M1099 156.5h1M1096 157.5h1M1099 157.5h1M1096 158.5h1M1066 190.5h1M1066 191.5h1M1071 191.5h1M1071 192.5h1M1072 197.5h1M1072 198.5h1M1061 212.5h1M1061 213.5h1M1094 234.5h1M1094 235.5h1M1107 244.5h1M1107 245.5h1M1068 254.5h1M1068 255.5h1M1096 260.5h1M1103 260.5h1M1096 261.5h1M1103 261.5h1M1099 264.5h1M1109 264.5h1M1099 265.5h1M1109 265.5h1M1065 266.5h1M1082 266.5h1M1088 266.5h1M1113 266.5h1M1065 267.5h1M1070 267.5h1M1076 267.5h1M1082 267.5h1M1088 267.5h1M1101 267.5h1M1113 267.5h1M1134 267.5h1M1070 268.5h1M1076 268.5h1M1101 268.5h1M1106 268.5h1M1134 268.5h1M1106 269.5h1M1068 270.5h1M1068 271.5h1M1100 271.5h1M1106 271.5h1M1109 271.5h1M1073 272.5h1M1097 272.5h1M1100 272.5h1M1106 272.5h1M1108 272.5h2M1073 273.5h1M1082 273.5h1M1097 273.5h1M1108 273.5h1M1082 274.5h1M1103 274.5h1M1083 275.5h1M1103 275.5h1M1076 276.5h1M1083 276.5h1M1115 276.5h1M1065 277.5h1M1076 277.5h1M1115 277.5h1M1117 277.5h1M1065 278.5h1M1077 278.5h1M1082 278.5h1M1089 278.5h1M1117 278.5h1M1077 279.5h1M1082 279.5h1M1084 279.5h1M1089 279.5h1M1084 280.5h1M1096 280.5h1M1106 280.5h1M1065 281.5h1M1071 281.5h1M1078 281.5h2M1081 281.5h2M1090 281.5h1M1096 281.5h1M1106 281.5h1M1111 281.5h1M1065 282.5h1M1071 282.5h2M1078 282.5h2M1081 282.5h2M1084 282.5h1M1090 282.5h1M1093 282.5h1M1101 282.5h1M1111 282.5h1M1072 283.5h1M1079 283.5h1M1084 283.5h2M1091 283.5h1M1093 283.5h1M1101 283.5h1M1111 283.5h1M1079 284.5h1M1082 284.5h2M1085 284.5h1M1091 284.5h2M1104 284.5h2M1107 284.5h1M1079 285.5h1M1082 285.5h4M1091 285.5h2M1097 285.5h1M1104 285.5h2M1107 285.5h1M1069 286.5h1M1084 286.5h3M1091 286.5h1M1093 286.5h1M1097 286.5h1M1101 286.5h2M1107 286.5h1M1069 287.5h1M1079 287.5h1M1084 287.5h3M1088 287.5h1M1093 287.5h1M1097 287.5h1M1101 287.5h2M1107 287.5h1M1072 288.5h1M1079 288.5h1M1084 288.5h6M1091 288.5h1M1094 288.5h2M1101 288.5h1M1059 289.5h1M1069 289.5h1M1072 289.5h1M1078 289.5h1M1085 289.5h3M1089 289.5h3M1094 289.5h2M1104 289.5h1M1110 289.5h1M1059 290.5h2M1069 290.5h1M1072 290.5h4M1078 290.5h1M1084 290.5h1M1086 290.5h1M1089 290.5h2M1095 290.5h1M1102 290.5h1M1104 290.5h1M1110 290.5h1M1060 291.5h1M1064 291.5h1M1069 291.5h1M1073 291.5h4M1078 291.5h1M1081 291.5h1M1083 291.5h2M1086 291.5h1M1092 291.5h1M1095 291.5h1M1102 291.5h1M1061 292.5h1M1064 292.5h1M1074 292.5h1M1076 292.5h1M1078 292.5h2M1081 292.5h4M1086 292.5h1M1092 292.5h1M1100 292.5h1M1061 293.5h1M1069 293.5h1M1073 293.5h2M1078 293.5h2M1082 293.5h6M1095 293.5h1M1100 293.5h1M1105 293.5h1M1069 294.5h1M1071 294.5h1M1073 294.5h1M1078 294.5h1M1081 294.5h1M1083 294.5h3M1087 294.5h1M1089 294.5h1M1092 294.5h1M1095 294.5h2M1100 294.5h1M1105 294.5h1M1071 295.5h1M1073 295.5h1M1075 295.5h1M1078 295.5h1M1080 295.5h2M1083 295.5h1M1085 295.5h9M1095 295.5h2M1100 295.5h1M1103 295.5h1M1062 296.5h1M1071 296.5h1M1073 296.5h1M1075 296.5h2M1078 296.5h1M1080 296.5h2M1083 296.5h1M1086 296.5h8M1095 296.5h1M1100 296.5h2M1103 296.5h1M1062 297.5h1M1069 297.5h1M1073 297.5h1M1075 297.5h6M1083 297.5h1M1086 297.5h2M1089 297.5h1M1091 297.5h7M1101 297.5h1M1069 298.5h1M1075 298.5h1M1077 298.5h7M1085 298.5h2M1088 298.5h1M1091 298.5h8M1103 298.5h1M1077 299.5h6M1084 299.5h5M1090 299.5h1M1092 299.5h2M1098 299.5h1M1103 299.5h1M1111 299.5h1M1068 300.5h1M1070 300.5h2M1077 300.5h1M1079 300.5h1M1081 300.5h8M1090 300.5h1M1092 300.5h4M1097 300.5h1M1100 300.5h1M1103 300.5h1M1111 300.5h1M1064 301.5h1M1067 301.5h2M1070 301.5h2M1076 301.5h2M1082 301.5h9M1092 301.5h4M1097 301.5h1M1100 301.5h1M1103 301.5h1M1064 302.5h1M1067 302.5h3M1073 302.5h2M1076 302.5h1M1078 302.5h2M1081 302.5h3M1085 302.5h8M1094 302.5h2M1097 302.5h1M1100 302.5h1M1103 302.5h1M1118 302.5h1M1065 303.5h1M1068 303.5h2M1071 303.5h1M1073 303.5h2M1076 303.5h4M1081 303.5h18M1100 303.5h1M1103 303.5h1M1118 303.5h1M1057 304.5h1M1065 304.5h1M1071 304.5h1M1073 304.5h2M1076 304.5h5M1082 304.5h4M1087 304.5h10M1098 304.5h1M1100 304.5h1M1107 304.5h3M1057 305.5h1M1066 305.5h1M1075 305.5h1M1078 305.5h3M1082 305.5h14M1106 305.5h4M1066 306.5h1M1073 306.5h1M1075 306.5h17M1093 306.5h4M1100 306.5h1M1105 306.5h3M1114 306.5h1M1060 307.5h2M1065 307.5h2M1071 307.5h1M1073 307.5h24M1098 307.5h3M1102 307.5h1M1105 307.5h1M1107 307.5h1M1111 307.5h1M1114 307.5h1M1060 308.5h2M1065 308.5h2M1071 308.5h1M1073 308.5h4M1078 308.5h19M1098 308.5h2M1101 308.5h2M1111 308.5h1M1125 308.5h1M1068 309.5h1M1071 309.5h1M1073 309.5h21M1095 309.5h2M1098 309.5h1M1101 309.5h1M1107 309.5h1M1125 309.5h1M1068 310.5h29M1099 310.5h2M1105 310.5h1M1107 310.5h1M1064 311.5h1M1069 311.5h4M1076 311.5h22M1099 311.5h2M1103 311.5h3M1113 311.5h1M1064 312.5h1M1069 312.5h1M1071 312.5h1M1075 312.5h3M1079 312.5h19M1099 312.5h2M1102 312.5h3M1106 312.5h2M1109 312.5h2M1113 312.5h1M1060 313.5h1M1071 313.5h1M1074 313.5h2M1077 313.5h20M1099 313.5h2M1102 313.5h2M1106 313.5h2M1109 313.5h2M1059 314.5h3M1067 314.5h1M1070 314.5h6M1077 314.5h20M1098 314.5h1M1100 314.5h4M1107 314.5h2M1059 315.5h1M1061 315.5h1M1067 315.5h1M1070 315.5h1M1072 315.5h2M1075 315.5h1M1077 315.5h19M1097 315.5h2M1100 315.5h4M1106 315.5h3M1059 316.5h1M1067 316.5h1M1069 316.5h2M1072 316.5h1M1075 316.5h18M1094 316.5h1M1096 316.5h3M1102 316.5h2M1106 316.5h1M1108 316.5h2M1059 317.5h1M1066 317.5h1M1069 317.5h2M1072 317.5h3M1076 317.5h8M1085 317.5h8M1094 317.5h5M1100 317.5h4M1108 317.5h2M1111 317.5h1M1062 318.5h1M1066 318.5h1M1069 318.5h2M1072 318.5h8M1081 318.5h18M1100 318.5h2M1107 318.5h1M1109 318.5h1M1111 318.5h2M1062 319.5h1M1066 319.5h1M1069 319.5h2M1072 319.5h1M1075 319.5h23M1100 319.5h4M1107 319.5h1M1109 319.5h1M1112 319.5h2M1062 320.5h1M1069 320.5h3M1074 320.5h1M1076 320.5h17M1094 320.5h4M1100 320.5h1M1102 320.5h2M1106 320.5h2M1111 320.5h1M1113 320.5h1M1062 321.5h1M1070 321.5h2M1074 321.5h27M1103 321.5h1M1106 321.5h1M1110 321.5h2M1113 321.5h1M1066 322.5h1M1068 322.5h1M1070 322.5h2M1074 322.5h27M1103 322.5h2M1110 322.5h1M1066 323.5h1M1068 323.5h1M1070 323.5h8M1079 323.5h22M1102 323.5h3M1107 323.5h1M1057 324.5h1M1070 324.5h5M1077 324.5h20M1098 324.5h6M1106 324.5h2M1124 324.5h1M1057 325.5h1M1070 325.5h2M1073 325.5h3M1077 325.5h18M1096 325.5h1M1098 325.5h4M1103 325.5h2M1106 325.5h1M1108 325.5h2M1122 325.5h1M1124 325.5h1M1065 326.5h1M1070 326.5h1M1073 326.5h3M1077 326.5h18M1096 326.5h2M1104 326.5h1M1108 326.5h2M1121 326.5h2M1058 327.5h1M1062 327.5h2M1065 327.5h1M1073 327.5h26M1101 327.5h1M1104 327.5h2M1121 327.5h1M1058 328.5h1M1062 328.5h2M1073 328.5h4M1078 328.5h24M1104 328.5h2M1071 329.5h1M1073 329.5h1M1075 329.5h18M1094 329.5h8M1107 329.5h1M1068 330.5h1M1071 330.5h1M1073 330.5h1M1075 330.5h4M1080 330.5h23M1106 330.5h2M1113 330.5h1M1119 330.5h1M1130 330.5h1M1066 331.5h1M1068 331.5h1M1071 331.5h2M1076 331.5h3M1080 331.5h18M1099 331.5h4M1105 331.5h3M1113 331.5h1M1119 331.5h1M1130 331.5h1M1066 332.5h2M1071 332.5h2M1074 332.5h1M1076 332.5h2M1079 332.5h20M1101 332.5h2M1105 332.5h1M1107 332.5h1M1120 332.5h1M1132 332.5h1M1063 333.5h1M1067 333.5h2M1070 333.5h3M1074 333.5h1M1076 333.5h19M1096 333.5h1M1098 333.5h1M1100 333.5h4M1107 333.5h1M1120 333.5h2M1132 333.5h1M1063 334.5h1M1068 334.5h1M1070 334.5h2M1074 334.5h1M1076 334.5h19M1096 334.5h1M1098 334.5h1M1100 334.5h4M1107 334.5h1M1112 334.5h1M1121 334.5h1M1062 335.5h1M1071 335.5h1M1073 335.5h2M1076 335.5h19M1096 335.5h1M1098 335.5h4M1103 335.5h1M1112 335.5h1M1114 335.5h1M1117 335.5h1M1060 336.5h1M1062 336.5h1M1064 336.5h2M1071 336.5h1M1073 336.5h2M1076 336.5h9M1086 336.5h16M1103 336.5h2M1113 336.5h2M1117 336.5h1M1060 337.5h1M1063 337.5h3M1068 337.5h2M1073 337.5h1M1076 337.5h22M1099 337.5h2M1104 337.5h2M1113 337.5h1M1063 338.5h4M1068 338.5h2M1073 338.5h1M1075 338.5h23M1099 338.5h1M1101 338.5h2M1105 338.5h1M1064 339.5h1M1066 339.5h1M1070 339.5h2M1073 339.5h26M1101 339.5h2M1104 339.5h1M1115 339.5h1M1063 340.5h1M1070 340.5h27M1098 340.5h1M1101 340.5h2M1104 340.5h1M1110 340.5h1M1115 340.5h1M1059 341.5h1M1063 341.5h1M1068 341.5h1M1072 341.5h1M1074 341.5h1M1077 341.5h18M1096 341.5h1M1098 341.5h5M1106 341.5h2M1109 341.5h2M1119 341.5h1M1059 342.5h1M1068 342.5h1M1074 342.5h13M1088 342.5h10M1099 342.5h3M1103 342.5h1M1105 342.5h3M1109 342.5h2M1115 342.5h1M1119 342.5h1M1062 343.5h1M1069 343.5h2M1075 343.5h24M1100 343.5h2M1103 343.5h1M1105 343.5h1M1110 343.5h1M1115 343.5h1M1062 344.5h1M1065 344.5h1M1069 344.5h2M1075 344.5h2M1078 344.5h1M1080 344.5h11M1092 344.5h4M1098 344.5h1M1100 344.5h2M1107 344.5h1M1065 345.5h1M1069 345.5h1M1071 345.5h2M1075 345.5h2M1080 345.5h1M1082 345.5h8M1091 345.5h7M1101 345.5h1M1107 345.5h1M1062 346.5h1M1071 346.5h2M1075 346.5h2M1080 346.5h1M1082 346.5h8M1091 346.5h4M1096 346.5h3M1101 346.5h1M1116 346.5h1M1062 347.5h1M1065 347.5h1M1067 347.5h2M1071 347.5h36M1108 347.5h1M1111 347.5h3M1116 347.5h2M1121 347.5h1" stroke="#ffa000" stroke-width="1" fill="none"/><path d="M1034 218.5h1M1034 219.5h1M943 230.5h1M943 231.5h1M948 243.5h1M948 244.5h1M1041 245.5h1M1041 246.5h1M1045 246.5h1M1045 247.5h1M1044 252.5h1M1020 253.5h1M1044 253.5h1M1020 254.5h1M1055 263.5h1M1055 264.5h1M988 266.5h1M988 267.5h1M964 270.5h1M964 271.5h1M945 276.5h1M945 277.5h1M951 278.5h1M1051 278.5h1M951 279.5h1M1051 279.5h1M940 280.5h1M940 281.5h1M952 282.5h1M1055 282.5h1M952 283.5h1M1053 283.5h1M1055 283.5h1M1008 284.5h1M1016 284.5h1M1053 284.5h1M1008 285.5h1M1016 285.5h1M1023 285.5h1M1023 286.5h1M976 288.5h1M941 289.5h1M976 289.5h1M997 289.5h1M1049 289.5h1M941 290.5h1M997 290.5h1M1032 290.5h1M1049 290.5h1M1055 290.5h1M1032 291.5h1M1053 291.5h1M1055 291.5h1M1053 292.5h1M1055 292.5h1M1055 293.5h1M1027 297.5h1M1032 297.5h1M1027 298.5h1M1032 298.5h1M1035 299.5h1M1035 300.5h1M1046 302.5h1M988 303.5h1M1032 303.5h1M1046 303.5h1M988 304.5h1M1032 304.5h1M1055 304.5h1M967 305.5h1M1055 305.5h1M967 306.5h1M987 307.5h1M1035 307.5h1M987 308.5h1M1032 308.5h1M1035 308.5h1M1050 308.5h2M932 309.5h1M1032 309.5h1M1050 309.5h2M932 310.5h1M992 310.5h1M1035 310.5h1M1039 310.5h1M946 311.5h1M992 311.5h1M1035 311.5h1M1039 311.5h1M946 312.5h1M1013 312.5h1M1039 312.5h1M1013 313.5h1M1001 315.5h1M1010 315.5h1M987 316.5h1M1001 316.5h1M1010 316.5h1M987 317.5h1M1002 318.5h1M1002 319.5h1M1045 319.5h1M940 320.5h1M1045 320.5h1M940 321.5h1M1037 321.5h1M1037 322.5h1M1039 322.5h1M1007 323.5h1M1039 323.5h1M1007 324.5h1M981 326.5h1M1017 326.5h1M1032 326.5h1M981 327.5h1M1017 327.5h1M1027 327.5h1M1032 327.5h1M960 328.5h1M984 328.5h1M1026 328.5h2M1039 328.5h2M1053 328.5h1M960 329.5h1M984 329.5h1M1026 329.5h1M1036 329.5h1M1039 329.5h2M1053 329.5h1M978 330.5h1M985 330.5h1M1032 330.5h1M1036 330.5h1M978 331.5h1M985 331.5h1M1032 331.5h1M1034 331.5h1M1024 332.5h1M1034 332.5h1M1040 332.5h1M1052 332.5h1M1054 332.5h2M1003 333.5h1M1024 333.5h2M1028 333.5h1M1040 333.5h1M1052 333.5h4M1003 334.5h1M1025 334.5h1M1028 334.5h1M1051 334.5h1M1053 334.5h1M953 335.5h1M1028 335.5h1M1030 335.5h1M1051 335.5h1M953 336.5h1M1003 336.5h1M1030 336.5h1M1049 336.5h1M1003 337.5h1M1049 337.5h1M1018 338.5h1M981 339.5h1M988 339.5h1M1018 339.5h1M981 340.5h1M988 340.5h1M1008 340.5h1M945 341.5h1M1008 341.5h2M945 342.5h1M955 342.5h1M973 342.5h1M1009 342.5h1M1035 342.5h1M1048 342.5h1M955 343.5h1M962 343.5h1M973 343.5h1M1035 343.5h1M1048 343.5h1M962 344.5h1M990 345.5h1M1034 345.5h1M961 346.5h1M990 346.5h1M1034 346.5h2M961 347.5h1M1035 347.5h1" stroke="#00ff00" stroke-width="1" fill="none"/><path d="M921.5 168.5V43.5H1235.5V168.5H921.5M1056.5 43V352.5H1232.5V43" fill="none" stroke="#000" stroke-width="1"/><path d="M1005.0 133.4L1003.0 133.8L1001.0 133.8L999.8 133.0L999.0 132.6L997.0 131.3L995.9 131.0L995.0 130.9L993.7 131.0L993.0 131.1L991.0 132.4L989.9 133.0L989.0 133.5L987.0 133.4L986.2 133.0L985.0 132.3L983.2 131.0L983.0 130.9L981.0 130.3L979.0 130.1L977.0 130.0L975.0 129.8L973.0 129.4L971.2 129.0L971.0 129.0L969.0 128.8L967.0 128.7L965.0 128.6L963.0 128.8L961.2 129.0L961.0 129.0L959.0 129.5L957.0 129.5L955.0 129.3L953.0 129.1L952.6 129.0L951.0 128.9L949.0 128.8L947.7 129.0L947.0 129.2L945.0 130.1L943.0 130.5L941.0 130.7L939.0 130.7L937.0 130.5L935.0 129.8L934.0 129.0L933.0 128.0L932.4 127.0L931.7 125.0L931.4 123.0L931.1 121.0L931.0 120.6L930.5 119.0L930.1 117.0L930.0 115.0L930.0 113.0L930.0 111.0L930.0 109.0L930.0 107.0L930.2 105.0L931.0 103.8L931.4 103.0L933.0 101.0L933.0 101.0L934.7 99.0L935.0 98.7L937.0 97.3L939.0 97.1L941.0 97.4L943.0 97.1L943.4 97.0L945.0 96.5L947.0 96.3L949.0 96.5L950.7 97.0L951.0 97.0L953.0 97.3L954.5 97.0L955.0 96.8L957.0 95.8L959.0 95.3L961.0 95.6L963.0 96.2L965.0 95.8L967.0 95.7L969.0 96.1L971.0 96.8L971.5 97.0L973.0 97.4L975.0 97.3L976.9 97.0L977.0 97.0L979.0 96.9L979.3 97.0L981.0 97.1L983.0 97.2L985.0 97.2L987.0 97.2L989.0 97.2L990.5 97.0L991.0 96.9L993.0 96.1L995.0 95.6L997.0 95.4L999.0 95.2L1001.0 95.1L1002.1 95.0L1003.0 94.8L1004.9 95.0L1005.0 95.0L1007.0 95.2L1009.0 95.4L1011.0 95.3L1013.0 95.4L1015.0 96.0L1016.5 97.0L1017.0 97.2L1019.0 97.7L1021.0 97.5L1023.0 97.3L1025.0 97.5L1027.0 98.1L1028.9 99.0L1029.0 99.0L1031.0 99.5L1033.0 99.7L1035.0 99.4L1036.9 99.0L1037.0 98.9L1037.1 99.0L1039.0 100.3L1039.5 101.0L1041.0 102.5L1041.7 103.0L1043.0 103.8L1044.6 105.0L1045.0 105.3L1047.0 106.7L1047.6 107.0L1049.0 107.5L1051.0 108.9L1051.1 109.0L1051.6 111.0L1051.0 112.6L1050.9 113.0L1050.3 115.0L1049.4 117.0L1049.0 117.6L1047.0 118.9L1046.7 119.0L1045.0 119.6L1043.0 120.9L1042.9 121.0L1041.7 123.0L1041.0 123.9L1039.5 125.0L1039.0 125.3L1037.0 126.2L1035.0 126.7L1033.9 127.0L1033.0 127.4L1031.0 128.6L1030.2 129.0L1029.0 129.5L1027.0 129.7L1025.1 129.0L1025.0 129.0L1023.0 128.7L1021.0 128.7L1019.0 128.7L1017.0 128.6L1015.0 128.8L1013.9 129.0L1013.0 129.3L1011.0 130.3L1009.9 131.0L1009.0 131.7L1007.0 132.8L1006.2 133.0L1005.0 133.4" stroke="#0000ff" stroke-width="1" fill="none"/><path d="M1007.0 131.3L1005.0 131.9L1003.0 132.1L1001.0 131.7L999.9 131.0L999.0 130.6L997.0 130.0L995.0 129.7L993.0 129.8L991.0 130.4L989.4 131.0L989.0 131.2L987.0 131.1L986.9 131.0L985.0 129.5L984.0 129.0L983.0 128.8L981.0 128.6L979.0 128.6L977.0 128.5L975.0 128.4L973.0 128.2L971.0 128.0L969.0 127.7L967.0 127.4L965.0 127.3L963.0 127.6L961.0 128.0L959.0 128.1L957.0 128.0L955.0 128.0L953.0 128.0L951.0 127.8L949.0 127.6L947.0 127.9L945.0 128.5L943.0 128.9L941.1 129.0L941.0 129.0L939.0 129.1L938.2 129.0L937.0 128.9L935.0 128.1L933.9 127.0L933.0 125.2L932.9 125.0L932.4 123.0L931.8 121.0L931.3 119.0L931.1 117.0L931.0 115.5L930.9 115.0L930.7 113.0L930.5 111.0L930.3 109.0L930.4 107.0L931.0 105.7L931.2 105.0L932.4 103.0L933.0 102.2L934.3 101.0L935.0 100.2L937.0 99.0L937.1 99.0L939.0 98.7L941.0 98.9L943.0 98.5L945.0 97.9L947.0 97.6L949.0 97.7L951.0 98.1L953.0 98.6L955.0 98.3L957.0 97.6L959.0 97.4L961.0 97.9L963.0 98.4L965.0 97.8L967.0 97.3L969.0 97.5L971.0 98.2L972.7 99.0L973.0 99.1L975.0 99.1L975.7 99.0L977.0 98.6L979.0 98.4L981.0 98.4L983.0 98.3L985.0 98.2L987.0 98.1L989.0 98.1L991.0 97.7L993.0 97.2L994.2 97.0L995.0 96.7L997.0 96.5L999.0 96.5L1001.0 96.3L1003.0 96.0L1005.0 96.0L1007.0 96.2L1009.0 96.4L1011.0 96.5L1013.0 96.8L1013.5 97.0L1015.0 97.5L1017.0 98.5L1018.8 99.0L1019.0 99.0L1019.3 99.0L1021.0 98.8L1023.0 98.5L1025.0 98.8L1025.4 99.0L1027.0 99.4L1029.0 100.0L1031.0 100.7L1032.2 101.0L1033.0 101.2L1035.0 101.6L1037.0 102.7L1037.4 103.0L1039.0 104.6L1039.5 105.0L1041.0 105.9L1042.8 107.0L1043.0 107.1L1045.0 108.6L1045.8 109.0L1047.0 109.7L1048.6 111.0L1048.7 113.0L1048.1 115.0L1047.0 116.5L1046.0 117.0L1045.0 117.3L1043.0 118.3L1042.3 119.0L1041.0 120.5L1040.6 121.0L1039.0 122.8L1038.6 123.0L1037.0 124.0L1035.0 124.5L1033.0 125.0L1033.0 125.0L1031.0 126.3L1029.9 127.0L1029.0 127.5L1027.0 127.8L1025.0 127.5L1023.0 127.6L1021.0 127.7L1019.0 127.6L1017.0 127.2L1015.0 127.5L1013.0 128.2L1011.0 128.9L1010.8 129.0L1009.0 130.2L1007.4 131.0L1007.0 131.3" stroke="#0000ff" stroke-width="1" fill="none"/><path d="M1007.0 129.8L1005.0 130.4L1003.0 130.4L1001.0 129.8L999.3 129.0L999.0 128.9L997.0 128.6L995.0 128.4L993.0 128.4L991.0 128.6L989.0 128.5L987.0 127.8L985.0 127.1L983.0 127.1L981.0 127.2L979.0 127.3L977.0 127.1L976.1 127.0L975.0 126.9L973.0 126.7L971.0 126.6L969.0 126.4L967.0 126.2L965.0 126.1L963.0 126.3L961.0 126.6L959.0 126.6L957.0 126.5L955.0 126.5L953.0 126.7L951.0 126.5L949.0 126.3L947.0 126.4L945.0 126.8L943.0 126.9L941.0 126.8L939.0 126.9L937.0 126.9L935.0 125.8L934.5 125.0L933.7 123.0L933.0 121.0L933.0 121.0L932.2 119.0L931.8 117.0L931.6 115.0L931.5 113.0L931.3 111.0L931.2 109.0L931.3 107.0L932.0 105.0L933.0 103.7L933.7 103.0L935.0 101.7L936.5 101.0L937.0 100.6L939.0 100.3L941.0 100.4L943.0 100.1L945.0 99.5L947.0 99.1L949.0 99.1L951.0 99.6L953.0 100.1L955.0 100.0L957.0 99.5L959.0 99.3L961.0 99.7L963.0 100.0L965.0 99.5L966.8 99.0L967.0 98.9L968.8 99.0L969.0 99.0L971.0 99.9L973.0 100.6L975.0 100.6L977.0 100.3L979.0 100.0L981.0 99.7L983.0 99.5L985.0 99.3L987.0 99.3L989.0 99.2L990.3 99.0L991.0 98.8L993.0 98.1L995.0 97.7L997.0 97.6L999.0 97.6L1001.0 97.5L1003.0 97.3L1005.0 97.3L1007.0 97.4L1009.0 97.5L1011.0 97.7L1013.0 98.2L1014.6 99.0L1015.0 99.1L1017.0 99.8L1019.0 100.2L1021.0 100.1L1023.0 100.0L1025.0 100.1L1027.0 100.6L1027.9 101.0L1029.0 101.3L1031.0 101.9L1033.0 102.6L1033.7 103.0L1035.0 103.9L1036.1 105.0L1037.0 106.3L1037.7 107.0L1039.0 108.1L1040.3 109.0L1041.0 109.7L1042.3 111.0L1043.0 112.8L1043.1 113.0L1043.0 113.3L1042.7 115.0L1041.3 117.0L1041.0 117.3L1039.7 119.0L1039.0 119.9L1037.7 121.0L1037.0 121.5L1035.0 122.3L1033.0 122.9L1032.8 123.0L1031.0 124.1L1029.5 125.0L1029.0 125.3L1027.0 125.9L1025.0 126.1L1023.0 126.4L1021.0 126.6L1019.0 126.4L1017.0 126.1L1015.0 126.3L1013.0 126.9L1012.7 127.0L1011.0 127.9L1009.0 128.7L1008.4 129.0L1007.0 129.8" stroke="#0000ff" stroke-width="1" fill="none"/><path d="M1009.0 127.5L1007.0 128.3L1005.0 128.8L1003.0 128.7L1001.0 128.2L999.0 127.7L997.0 127.3L995.0 127.1L993.9 127.0L993.0 127.0L991.0 126.8L989.0 126.5L987.0 125.9L985.0 125.5L983.0 125.7L981.0 125.9L979.0 126.0L977.0 125.8L975.0 125.4L973.0 125.2L971.0 125.1L970.0 125.0L969.0 124.9L967.0 124.7L965.0 124.6L963.0 124.9L961.9 125.0L961.0 125.1L959.0 125.0L958.7 125.0L957.0 124.9L955.0 124.9L954.3 125.0L953.0 125.2L951.0 125.1L950.5 125.0L949.0 124.9L947.0 124.9L945.0 125.0L943.0 124.9L941.0 124.7L939.0 124.6L937.0 124.4L935.5 123.0L935.0 122.6L934.2 121.0L933.3 119.0L933.0 117.8L932.7 117.0L932.5 115.0L932.3 113.0L932.1 111.0L931.9 109.0L932.1 107.0L933.0 105.3L933.2 105.0L935.0 103.2L935.4 103.0L937.0 102.1L939.0 101.8L941.0 101.9L943.0 101.7L945.0 101.3L946.4 101.0L947.0 100.9L949.0 100.8L949.7 101.0L951.0 101.4L953.0 102.1L955.0 102.1L957.0 101.5L959.0 101.3L961.0 101.4L963.0 101.5L965.0 101.2L966.0 101.0L967.0 100.6L969.0 100.8L969.4 101.0L971.0 101.8L973.0 102.3L975.0 102.2L977.0 101.9L979.0 101.7L981.0 101.2L982.1 101.0L983.0 100.8L985.0 100.5L987.0 100.4L989.0 100.3L991.0 99.8L993.0 99.3L995.0 99.0L996.2 99.0L997.0 99.0L999.0 98.9L1001.0 98.6L1003.0 98.4L1005.0 98.4L1007.0 98.6L1009.0 98.8L1009.9 99.0L1011.0 99.2L1013.0 99.7L1015.0 100.5L1016.3 101.0L1017.0 101.2L1019.0 101.6L1021.0 101.7L1023.0 101.6L1025.0 101.7L1027.0 102.1L1029.0 102.8L1029.6 103.0L1031.0 103.5L1033.0 104.7L1033.4 105.0L1034.9 107.0L1035.0 107.1L1036.7 109.0L1037.0 109.3L1038.8 111.0L1039.0 111.3L1039.9 113.0L1039.7 115.0L1039.0 116.3L1038.7 117.0L1037.0 118.9L1036.9 119.0L1035.0 120.2L1033.0 121.0L1033.0 121.0L1031.0 122.2L1029.6 123.0L1029.0 123.4L1027.0 124.2L1025.0 124.6L1023.0 125.0L1022.9 125.0L1021.0 125.3L1019.0 125.0L1018.7 125.0L1017.0 124.8L1015.2 125.0L1015.0 125.0L1013.0 125.9L1011.0 126.7L1009.9 127.0L1009.0 127.5" stroke="#0000ff" stroke-width="1" fill="none"/><path d="M1005.0 127.2L1003.0 127.0L1003.0 127.0L1001.0 126.7L999.0 126.4L997.0 126.2L995.0 126.0L993.0 125.7L991.0 125.3L989.9 125.0L989.0 124.8L987.0 124.4L985.0 124.1L983.0 124.2L981.0 124.4L979.0 124.5L977.0 124.3L975.0 123.8L973.0 123.6L971.0 123.5L969.0 123.4L967.0 123.2L965.0 123.1L963.0 123.3L961.0 123.6L959.0 123.5L957.0 123.3L955.0 123.4L953.0 123.5L951.0 123.4L949.0 123.3L947.0 123.3L945.0 123.3L943.0 123.1L942.5 123.0L941.0 122.8L939.0 122.6L937.0 122.0L935.9 121.0L935.0 120.0L934.4 119.0L933.7 117.0L933.5 115.0L933.4 113.0L933.1 111.0L933.0 109.6L932.9 109.0L933.0 108.5L933.2 107.0L934.5 105.0L935.0 104.5L937.0 103.6L939.0 103.4L941.0 103.5L943.0 103.4L945.0 103.1L946.0 103.0L947.0 102.9L948.5 103.0L949.0 103.0L951.0 103.7L953.0 104.5L955.0 104.6L957.0 103.8L959.0 103.2L961.0 103.1L963.0 103.1L964.0 103.0L965.0 102.8L967.0 102.5L968.9 103.0L969.0 103.0L971.0 103.9L973.0 104.1L975.0 103.9L977.0 103.7L979.0 103.4L980.1 103.0L981.0 102.7L983.0 102.0L985.0 101.7L987.0 101.7L989.0 101.6L991.0 101.1L991.4 101.0L993.0 100.5L995.0 100.2L997.0 100.1L999.0 100.0L1001.0 99.7L1003.0 99.6L1005.0 99.7L1007.0 99.9L1009.0 100.1L1011.0 100.5L1012.3 101.0L1013.0 101.2L1015.0 101.9L1017.0 102.7L1018.2 103.0L1019.0 103.2L1021.0 103.4L1023.0 103.4L1025.0 103.4L1027.0 103.9L1029.0 104.7L1029.7 105.0L1031.0 105.9L1032.2 107.0L1033.0 107.8L1034.0 109.0L1035.0 109.9L1036.1 111.0L1037.0 112.4L1037.4 113.0L1037.4 115.0L1037.0 115.7L1036.2 117.0L1035.0 118.1L1033.4 119.0L1033.0 119.2L1031.0 120.3L1029.8 121.0L1029.0 121.5L1027.0 122.3L1025.0 122.9L1024.5 123.0L1023.0 123.5L1021.0 123.9L1019.0 123.8L1017.0 123.6L1015.0 124.0L1013.0 124.7L1012.2 125.0L1011.0 125.6L1009.0 126.3L1007.0 126.8L1005.9 127.0L1005.0 127.2" stroke="#0505fa" stroke-width="1" fill="none"/><path d="M1007.0 125.5L1005.0 125.7L1003.0 125.5L1001.0 125.3L999.0 125.1L998.0 125.0L997.0 124.9L995.0 124.6L993.0 124.3L991.0 123.8L989.0 123.4L987.4 123.0L987.0 122.9L985.0 122.6L983.0 122.5L981.0 122.7L979.0 122.8L977.0 122.5L975.0 122.1L973.0 121.9L971.0 121.8L969.0 121.7L967.0 121.5L965.0 121.3L963.0 121.4L961.0 121.6L959.0 121.7L957.0 121.7L955.0 121.7L953.0 121.6L951.0 121.3L949.0 121.2L947.0 121.4L945.0 121.5L943.0 121.3L941.0 121.1L940.4 121.0L939.0 120.8L937.0 120.0L936.1 119.0L935.0 117.1L935.0 117.0L934.6 115.0L934.4 113.0L934.2 111.0L934.0 109.0L934.5 107.0L935.0 106.3L937.0 105.1L938.4 105.0L939.0 105.0L939.5 105.0L941.0 105.1L943.0 105.1L944.8 105.0L945.0 105.0L945.2 105.0L947.0 105.1L949.0 105.6L951.0 106.3L952.8 107.0L953.0 107.1L955.0 107.4L956.2 107.0L957.0 106.6L959.0 105.4L960.5 105.0L961.0 104.9L963.0 104.7L965.0 104.5L967.0 104.6L968.1 105.0L969.0 105.4L971.0 105.9L973.0 105.9L975.0 105.8L977.0 105.8L979.0 105.5L979.8 105.0L981.0 104.4L983.0 103.5L985.0 103.1L987.0 103.2L989.0 103.1L989.5 103.0L991.0 102.6L993.0 101.9L995.0 101.5L997.0 101.5L999.0 101.3L1001.0 101.0L1001.5 101.0L1003.0 100.9L1003.8 101.0L1005.0 101.1L1007.0 101.4L1009.0 101.6L1011.0 102.0L1013.0 102.6L1013.8 103.0L1015.0 103.5L1017.0 104.2L1019.0 104.8L1020.3 105.0L1021.0 105.1L1023.0 105.2L1025.0 105.5L1027.0 106.3L1028.1 107.0L1029.0 107.7L1030.7 109.0L1031.0 109.2L1033.0 110.6L1033.4 111.0L1035.0 113.0L1035.0 113.0L1035.0 115.0L1035.0 115.1L1033.3 117.0L1033.0 117.2L1031.0 118.4L1029.9 119.0L1029.0 119.5L1027.0 120.3L1025.0 120.8L1024.4 121.0L1023.0 121.4L1021.0 122.1L1019.0 122.3L1017.0 122.4L1015.0 122.7L1014.3 123.0L1013.0 123.6L1011.0 124.4L1009.0 125.0L1008.8 125.0L1007.0 125.5" stroke="#0f0ff0" stroke-width="1" fill="none"/><path d="M1011.0 123.3L1009.0 123.9L1007.0 124.2L1005.0 124.2L1003.0 124.1L1001.0 123.9L999.0 123.9L997.0 123.7L995.0 123.3L993.9 123.0L993.0 122.8L991.0 122.3L989.0 122.0L987.0 121.6L985.0 121.1L984.5 121.0L983.0 120.7L981.0 120.6L979.0 120.7L977.0 120.6L975.0 120.2L973.0 120.0L971.0 119.8L969.0 119.5L967.0 119.2L965.9 119.0L965.0 118.8L963.0 118.6L961.0 118.9L960.7 119.0L959.0 119.4L957.0 119.7L955.0 119.6L953.0 119.1L952.5 119.0L951.0 118.5L949.0 118.3L947.0 118.7L945.6 119.0L945.0 119.1L943.0 119.3L941.0 119.3L939.4 119.0L939.0 118.9L937.0 117.5L936.7 117.0L936.0 115.0L935.8 113.0L935.6 111.0L935.5 109.0L936.8 107.0L937.0 106.9L939.0 106.7L941.0 106.9L941.7 107.0L943.0 107.2L945.0 107.3L947.0 107.5L949.0 107.9L951.0 108.6L952.1 109.0L953.0 109.5L955.0 110.3L957.0 109.9L958.0 109.0L959.0 108.1L960.9 107.0L961.0 106.9L963.0 106.5L965.0 106.4L967.0 106.9L967.2 107.0L969.0 107.8L971.0 108.1L973.0 107.9L975.0 107.9L977.0 108.1L979.0 107.9L980.4 107.0L981.0 106.7L983.0 105.3L984.2 105.0L985.0 104.8L987.0 105.0L989.0 104.9L991.0 104.3L993.0 103.4L995.0 103.0L995.3 103.0L997.0 102.8L999.0 102.5L1001.0 102.3L1003.0 102.3L1005.0 102.7L1007.0 103.0L1007.5 103.0L1009.0 103.1L1011.0 103.4L1013.0 104.1L1014.7 105.0L1015.0 105.2L1017.0 105.9L1019.0 106.4L1021.0 106.8L1021.9 107.0L1023.0 107.2L1025.0 108.1L1026.1 109.0L1027.0 109.9L1028.8 111.0L1029.0 111.1L1031.0 112.2L1031.9 113.0L1031.8 115.0L1031.0 115.7L1029.1 117.0L1029.0 117.1L1027.0 117.7L1025.0 118.3L1023.5 119.0L1023.0 119.2L1021.0 120.2L1019.0 120.6L1017.0 121.0L1016.8 121.0L1015.0 121.5L1013.0 122.4L1011.6 123.0L1011.0 123.3" stroke="#4c4cb2" stroke-width="1" fill="none"/><path d="M1013.0 121.1L1011.0 122.1L1009.0 122.6L1007.0 122.8L1005.0 122.8L1003.0 122.6L1001.0 122.5L999.0 122.5L997.0 122.4L995.0 121.9L993.0 121.3L991.9 121.0L991.0 120.8L989.0 120.5L987.0 120.2L985.0 119.6L983.2 119.0L983.0 118.9L981.0 118.6L979.0 118.4L977.0 118.2L975.0 117.8L973.0 117.6L971.0 117.2L970.6 117.0L969.0 115.4L968.6 115.0L968.3 113.0L969.0 112.2L970.4 111.0L971.0 110.8L973.0 110.4L975.0 110.6L977.0 110.8L979.0 110.3L981.0 109.2L981.2 109.0L983.0 107.7L985.0 107.0L986.4 107.0L987.0 107.0L989.0 106.8L991.0 106.0L993.0 105.1L993.5 105.0L995.0 104.5L997.0 104.2L999.0 103.9L1001.0 103.7L1003.0 103.9L1005.0 104.3L1007.0 104.4L1009.0 104.5L1011.0 104.9L1011.3 105.0L1013.0 105.8L1015.0 107.0L1015.0 107.0L1017.0 107.9L1019.0 108.4L1021.0 109.0L1021.1 109.0L1023.0 110.1L1024.0 111.0L1025.0 112.8L1025.2 113.0L1025.0 114.0L1024.9 115.0L1023.0 116.8L1022.7 117.0L1021.0 118.0L1019.0 118.9L1018.6 119.0L1017.0 119.4L1015.0 120.0L1013.1 121.0L1013.0 121.1M945.0 115.2L943.0 116.3L941.0 116.9L939.0 116.1L938.3 115.0L937.9 113.0L937.9 111.0L939.0 109.4L941.0 110.0L942.4 111.0L943.0 111.6L945.0 112.5L946.9 111.0L947.0 111.0L949.0 110.8L949.6 111.0L951.0 112.1L952.2 113.0L951.0 114.2L949.0 114.4L947.0 114.5L945.8 115.0L945.0 115.2M965.0 111.4L963.0 112.4L961.8 111.0L963.0 110.1L965.0 110.6L965.5 111.0L965.0 111.4" stroke="#73738c" stroke-width="1" fill="none"/><path d="M1009.0 121.1L1007.0 121.3L1005.0 121.1L1004.0 121.0L1003.0 120.9L1001.0 120.7L999.0 120.7L997.0 120.5L995.0 120.0L993.0 119.3L991.7 119.0L991.0 118.8L989.0 118.6L987.0 118.2L985.0 117.4L983.9 117.0L983.0 116.4L981.0 115.3L980.6 115.0L980.8 113.0L981.0 112.8L983.0 111.1L983.2 111.0L985.0 110.1L987.0 109.5L988.6 109.0L989.0 108.9L991.0 108.1L993.0 107.2L993.5 107.0L995.0 106.4L997.0 106.0L999.0 105.7L1001.0 105.7L1003.0 106.0L1005.0 106.2L1007.0 106.1L1009.0 106.1L1011.0 106.6L1011.6 107.0L1013.0 108.2L1014.0 109.0L1015.0 110.2L1016.3 111.0L1017.0 111.8L1018.6 113.0L1018.7 115.0L1017.0 116.1L1016.2 117.0L1015.0 117.6L1013.3 119.0L1013.0 119.2L1011.0 120.4L1009.4 121.0L1009.0 121.1" stroke="#999966" stroke-width="1" fill="none"/><path d="M1009.0 119.4L1007.0 119.6L1005.0 119.5L1003.0 119.2L1001.7 119.0L1001.0 118.9L999.0 118.8L997.0 118.5L995.0 117.8L993.1 117.0L993.0 117.0L991.0 116.2L989.0 115.9L987.0 115.4L986.4 115.0L986.4 113.0L987.0 112.6L989.0 111.5L989.8 111.0L991.0 110.5L993.0 109.4L993.7 109.0L995.0 108.4L997.0 107.8L999.0 107.5L1001.0 107.5L1003.0 107.8L1005.0 107.9L1007.0 107.8L1009.0 107.8L1011.0 108.7L1011.3 109.0L1012.7 111.0L1013.0 112.1L1013.4 113.0L1013.4 115.0L1013.0 115.8L1012.5 117.0L1011.0 118.5L1010.1 119.0L1009.0 119.4" stroke="#bfbf40" stroke-width="1" fill="none"/><path d="M1009.0 117.5L1007.0 117.8L1005.0 117.7L1003.0 117.4L1001.0 117.1L1000.3 117.0L999.0 116.8L997.0 116.2L995.1 115.0L995.0 114.8L994.1 113.0L995.0 111.4L995.2 111.0L997.0 110.0L999.0 109.3L1001.0 109.2L1003.0 109.4L1005.0 109.5L1007.0 109.3L1009.0 109.5L1010.6 111.0L1011.0 111.8L1011.4 113.0L1011.3 115.0L1011.0 115.5L1009.8 117.0L1009.0 117.5" stroke="#e0e01f" stroke-width="1" fill="none"/><path d="M1009.0 115.2L1007.0 116.0L1005.0 115.9L1003.0 115.6L1001.0 115.3L1000.0 115.0L999.0 114.4L997.8 113.0L999.0 111.1L999.2 111.0L1001.0 110.7L1003.0 110.9L1005.0 110.9L1007.0 110.8L1007.8 111.0L1009.0 111.8L1009.6 113.0L1009.2 115.0L1009.0 115.2" stroke="#f2f20d" stroke-width="1" fill="none"/><path d="M929.5 96.5A9.5 16.5 0 0 1 929.5 129.5" fill="none" stroke="#0000ff" stroke-width="1"/><path d="M929.5 98A8 15 0 0 1 929.5 128" fill="none" stroke="#4c4cb2" stroke-width="1"/><path d="M929.5 99.5A6.5 13.5 0 0 1 929.5 126.5" fill="none" stroke="#808080" stroke-width="1"/><path d="M929.5 101A5 12 0 0 1 929.5 125" fill="none" stroke="#adad52" stroke-width="1"/><path d="M929.5 102.5A3.5 10.5 0 0 1 929.5 123.5" fill="none" stroke="#d9d926" stroke-width="1"/><path d="M929.5 104A2 9 0 0 1 929.5 122" fill="none" stroke="#f2f20d" stroke-width="1"/><path d="M1097.0 347.5L1095.0 347.5L1093.0 347.5L1091.0 347.5L1089.0 347.5L1087.0 347.5L1085.0 347.5L1083.0 347.5L1081.0 347.5L1079.1 347.5L1079.0 347.5L1077.0 347.5L1075.0 347.5L1073.0 347.5L1072.9 347.5L1071.0 347.5L1069.2 347.5L1069.0 347.5L1067.0 347.5L1065.3 347.0L1065.0 346.7L1063.7 345.0L1063.1 343.0L1063.0 342.5L1062.7 341.0L1062.3 339.0L1062.3 337.0L1062.8 335.0L1063.0 334.6L1063.7 333.0L1064.5 331.0L1065.0 329.1L1065.0 329.0L1065.1 327.0L1065.0 325.9L1064.9 325.0L1064.4 323.0L1063.9 321.0L1063.5 319.0L1063.4 317.0L1063.4 315.0L1063.7 313.0L1063.8 311.0L1063.8 309.0L1063.9 307.0L1064.3 305.0L1064.9 303.0L1065.0 302.9L1065.7 301.0L1066.7 299.0L1067.0 298.4L1067.6 297.0L1068.0 295.0L1068.3 293.0L1069.0 291.0L1069.0 290.9L1070.4 289.0L1071.0 288.5L1073.0 287.4L1073.9 287.0L1075.0 286.4L1076.6 285.0L1077.0 284.3L1077.5 283.0L1078.4 281.0L1079.0 280.4L1081.0 279.4L1083.0 279.5L1085.0 280.0L1087.0 280.8L1087.4 281.0L1089.0 281.6L1091.0 282.3L1092.7 283.0L1093.0 283.1L1095.0 284.3L1096.1 285.0L1097.0 285.8L1098.4 287.0L1099.0 288.0L1099.9 289.0L1101.0 291.0L1101.0 291.0L1102.1 293.0L1102.8 295.0L1103.0 295.5L1103.5 297.0L1104.3 299.0L1105.0 300.4L1105.4 301.0L1107.0 303.0L1107.0 303.0L1108.7 305.0L1109.0 305.5L1109.7 307.0L1110.4 309.0L1111.0 311.0L1111.0 311.0L1111.7 313.0L1112.4 315.0L1112.9 317.0L1113.0 317.9L1113.1 319.0L1113.0 319.4L1112.6 321.0L1111.7 323.0L1111.0 324.2L1110.6 325.0L1110.0 327.0L1109.7 329.0L1109.7 331.0L1109.7 333.0L1109.7 335.0L1109.9 337.0L1110.4 339.0L1110.9 341.0L1111.0 341.5L1111.3 343.0L1111.0 344.6L1110.9 345.0L1109.7 347.0L1109.0 347.5L1107.3 347.5L1107.0 347.5L1105.0 347.5L1104.1 347.5L1103.0 347.5L1101.0 347.5L1099.0 347.5L1098.1 347.5L1097.0 347.5" stroke="#0000ff" stroke-width="1" fill="none"/><path d="M1097.0 347.5L1095.0 347.5L1093.0 347.5L1091.0 347.5L1089.0 347.5L1087.0 347.5L1085.0 347.5L1083.0 347.5L1081.0 347.5L1079.0 347.5L1078.3 347.5L1077.0 347.5L1075.0 347.5L1073.8 347.5L1073.0 347.5L1071.5 347.0L1071.0 346.2L1070.1 345.0L1069.2 343.0L1069.0 342.1L1068.6 341.0L1068.1 339.0L1067.9 337.0L1068.0 335.0L1068.2 333.0L1068.3 331.0L1068.3 329.0L1068.2 327.0L1068.0 325.0L1067.7 323.0L1067.4 321.0L1067.2 319.0L1067.2 317.0L1067.3 315.0L1067.5 313.0L1067.7 311.0L1067.8 309.0L1068.2 307.0L1068.7 305.0L1069.0 304.3L1069.5 303.0L1070.6 301.0L1071.0 300.3L1071.7 299.0L1072.6 297.0L1073.0 295.7L1073.2 295.0L1074.3 293.0L1075.0 292.3L1077.0 291.1L1077.3 291.0L1079.0 290.2L1080.9 289.0L1081.0 288.9L1083.0 287.2L1083.4 287.0L1085.0 286.2L1087.0 286.3L1088.8 287.0L1089.0 287.1L1091.0 288.3L1091.8 289.0L1093.0 290.0L1094.0 291.0L1095.0 291.9L1095.9 293.0L1097.0 294.3L1097.5 295.0L1098.8 297.0L1099.0 297.4L1099.9 299.0L1100.8 301.0L1101.0 301.7L1101.7 303.0L1102.6 305.0L1103.0 306.0L1103.6 307.0L1104.7 309.0L1105.0 309.5L1105.9 311.0L1106.8 313.0L1107.0 313.8L1107.4 315.0L1107.7 317.0L1107.7 319.0L1107.4 321.0L1107.0 323.0L1107.0 323.0L1106.7 325.0L1106.6 327.0L1106.5 329.0L1106.5 331.0L1106.4 333.0L1106.2 335.0L1106.0 337.0L1105.8 339.0L1105.8 341.0L1105.8 343.0L1105.6 345.0L1105.0 346.3L1104.7 347.0L1103.0 347.5L1102.9 347.5L1101.0 347.5L1099.0 347.5L1098.9 347.5L1097.0 347.5" stroke="#0808f7" stroke-width="1" fill="none"/><path d="M1097.0 347.5L1095.0 347.5L1093.0 347.5L1091.0 347.5L1089.0 347.5L1087.0 347.5L1085.0 347.5L1083.0 347.5L1081.0 347.5L1079.0 347.5L1078.2 347.5L1077.0 347.5L1075.1 347.0L1075.0 346.9L1073.5 345.0L1073.0 343.8L1072.6 343.0L1072.0 341.0L1071.7 339.0L1071.5 337.0L1071.4 335.0L1071.3 333.0L1071.2 331.0L1071.0 329.0L1071.0 329.0L1070.8 327.0L1070.5 325.0L1070.3 323.0L1070.2 321.0L1070.2 319.0L1070.3 317.0L1070.6 315.0L1070.7 313.0L1070.9 311.0L1071.0 310.3L1071.1 309.0L1071.6 307.0L1072.3 305.0L1073.0 303.8L1073.5 303.0L1074.8 301.0L1075.0 300.8L1076.3 299.0L1077.0 298.0L1077.9 297.0L1079.0 295.8L1080.0 295.0L1081.0 294.3L1083.0 293.2L1083.8 293.0L1085.0 292.6L1087.0 292.6L1088.1 293.0L1089.0 293.2L1091.0 294.1L1092.4 295.0L1093.0 295.4L1094.8 297.0L1095.0 297.2L1096.4 299.0L1097.0 300.0L1097.6 301.0L1098.5 303.0L1099.0 304.2L1099.3 305.0L1100.2 307.0L1100.9 309.0L1101.0 309.3L1101.8 311.0L1102.4 313.0L1102.8 315.0L1103.0 316.4L1103.1 317.0L1103.3 319.0L1103.4 321.0L1103.5 323.0L1103.6 325.0L1103.7 327.0L1103.8 329.0L1103.8 331.0L1103.6 333.0L1103.3 335.0L1103.0 336.5L1102.9 337.0L1102.6 339.0L1102.4 341.0L1102.4 343.0L1102.2 345.0L1101.3 347.0L1101.0 347.3L1099.0 347.5L1098.8 347.5L1097.0 347.5" stroke="#1f1fe0" stroke-width="1" fill="none"/><path d="M1097.0 347.1L1095.0 347.5L1093.0 347.5L1091.0 347.5L1089.0 347.5L1087.0 347.5L1085.0 347.5L1083.0 347.5L1081.0 347.5L1079.4 347.0L1079.0 346.7L1077.1 345.0L1077.0 344.8L1075.9 343.0L1075.2 341.0L1075.0 340.3L1074.7 339.0L1074.4 337.0L1074.2 335.0L1074.0 333.0L1073.8 331.0L1073.6 329.0L1073.3 327.0L1073.1 325.0L1073.0 323.2L1073.0 323.0L1073.0 321.3L1073.0 321.0L1073.1 319.0L1073.3 317.0L1073.5 315.0L1073.7 313.0L1073.9 311.0L1074.2 309.0L1074.9 307.0L1075.0 306.8L1075.9 305.0L1077.0 303.6L1077.5 303.0L1079.0 301.4L1079.5 301.0L1081.0 299.7L1082.1 299.0L1083.0 298.4L1085.0 297.6L1087.0 297.4L1089.0 297.7L1091.0 298.4L1091.8 299.0L1093.0 299.7L1094.3 301.0L1095.0 301.9L1095.7 303.0L1096.7 305.0L1097.0 305.7L1097.6 307.0L1098.3 309.0L1098.8 311.0L1099.0 312.0L1099.2 313.0L1099.6 315.0L1099.8 317.0L1100.1 319.0L1100.4 321.0L1100.6 323.0L1100.8 325.0L1100.9 327.0L1101.0 329.0L1100.9 331.0L1100.6 333.0L1100.2 335.0L1099.7 337.0L1099.4 339.0L1099.2 341.0L1099.1 343.0L1099.0 343.6L1098.7 345.0L1097.1 347.0L1097.0 347.1" stroke="#6b6b94" stroke-width="1" fill="none"/><path d="M1091.0 345.2L1089.0 345.6L1087.0 345.8L1085.0 345.8L1083.0 345.2L1082.6 345.0L1081.0 343.8L1080.3 343.0L1079.0 341.3L1078.9 341.0L1077.9 339.0L1077.3 337.0L1077.0 335.3L1077.0 335.0L1076.7 333.0L1076.5 331.0L1076.2 329.0L1075.9 327.0L1075.7 325.0L1075.6 323.0L1075.6 321.0L1075.7 319.0L1075.8 317.0L1076.0 315.0L1076.3 313.0L1076.7 311.0L1077.0 309.7L1077.2 309.0L1078.2 307.0L1079.0 305.9L1079.9 305.0L1081.0 304.0L1082.5 303.0L1083.0 302.6L1085.0 301.6L1087.0 301.2L1089.0 301.4L1091.0 302.1L1092.1 303.0L1093.0 303.8L1093.9 305.0L1094.9 307.0L1095.0 307.1L1095.7 309.0L1096.3 311.0L1096.6 313.0L1096.8 315.0L1097.0 317.0L1097.0 317.0L1097.4 319.0L1097.8 321.0L1098.2 323.0L1098.4 325.0L1098.5 327.0L1098.4 329.0L1098.0 331.0L1097.5 333.0L1097.0 334.4L1096.8 335.0L1096.2 337.0L1095.6 339.0L1095.1 341.0L1095.0 341.3L1094.3 343.0L1093.0 344.4L1091.7 345.0L1091.0 345.2" stroke="#808080" stroke-width="1" fill="none"/><path d="M1089.0 339.1L1087.0 339.7L1085.0 339.8L1083.0 339.0L1083.0 339.0L1081.0 337.2L1080.9 337.0L1079.9 335.0L1079.4 333.0L1079.0 331.1L1079.0 331.0L1078.7 329.0L1078.4 327.0L1078.1 325.0L1078.0 323.0L1078.0 321.0L1078.0 319.0L1078.2 317.0L1078.4 315.0L1078.7 313.0L1079.0 312.0L1079.3 311.0L1080.3 309.0L1081.0 308.0L1082.1 307.0L1083.0 306.3L1085.0 305.3L1086.3 305.0L1087.0 304.8L1088.6 305.0L1089.0 305.0L1091.0 306.3L1091.6 307.0L1092.9 309.0L1093.0 309.2L1093.6 311.0L1094.0 313.0L1094.3 315.0L1094.5 317.0L1094.9 319.0L1095.0 319.3L1095.5 321.0L1095.9 323.0L1096.2 325.0L1096.1 327.0L1095.8 329.0L1095.2 331.0L1095.0 331.5L1094.3 333.0L1093.3 335.0L1093.0 335.5L1091.8 337.0L1091.0 337.9L1089.1 339.0L1089.0 339.1" stroke="#8c8c73" stroke-width="1" fill="none"/><path d="M1087.0 335.1L1086.1 335.0L1085.0 334.9L1083.0 333.5L1082.7 333.0L1081.8 331.0L1081.2 329.0L1081.0 328.0L1080.8 327.0L1080.6 325.0L1080.4 323.0L1080.4 321.0L1080.5 319.0L1080.7 317.0L1081.0 315.0L1081.0 314.9L1081.7 313.0L1082.9 311.0L1083.0 310.9L1085.0 309.7L1087.0 309.5L1089.0 310.4L1089.6 311.0L1090.8 313.0L1091.0 313.5L1091.4 315.0L1091.8 317.0L1092.4 319.0L1093.0 320.8L1093.1 321.0L1093.6 323.0L1093.8 325.0L1093.7 327.0L1093.1 329.0L1093.0 329.3L1092.1 331.0L1091.0 332.6L1090.6 333.0L1089.0 334.4L1087.2 335.0L1087.0 335.1" stroke="#9e9e61" stroke-width="1" fill="none"/><path d="M1089.0 329.3L1087.0 330.3L1085.0 329.5L1084.7 329.0L1083.9 327.0L1083.4 325.0L1083.3 323.0L1083.4 321.0L1083.9 319.0L1084.7 317.0L1085.0 316.5L1087.0 316.3L1087.6 317.0L1089.0 318.8L1089.1 319.0L1089.9 321.0L1090.7 323.0L1090.9 325.0L1090.4 327.0L1089.3 329.0L1089.0 329.3" stroke="#cccc33" stroke-width="1" fill="none"/></g><text x="949.5" y="67" font-size="17.5" letter-spacing="0.4">R3: 66.14%</text><rect x="1089.5" y="234.5" width="116" height="22" fill="none" stroke="#000" stroke-width="1" stroke-dasharray="3 3" shape-rendering="crispEdges"/><circle cx="1100.5" cy="245.5" r="5" fill="#ffa500" stroke="#000" stroke-width="1"/><text x="1110.5" y="251.5" font-size="17.5" letter-spacing="0.4">R4: 31.74%</text><path d="M1246 46.5L1246 63.3L1250.3 59.6L1255.2 68.8L1259 66.8L1254.2 57.8L1259.5 57.3Z" fill="#0b6cb4"/><polygon points="1242.5,82.5 1247.2,77.6 1252,77.6 1258.8,83 1258.8,91 1255,94.6 1246,94.6 1242.5,90" fill="none" stroke="#0f7fb0" stroke-width="1.1"/><rect x="1241" y="81" width="2" height="2" fill="#0000ff" shape-rendering="crispEdges"/><rect x="1251" y="77" width="2" height="2" fill="#0000ff" shape-rendering="crispEdges"/><rect x="1258" y="82" width="2" height="2" fill="#0000ff" shape-rendering="crispEdges"/><rect x="1258" y="90" width="2" height="2" fill="#0000ff" shape-rendering="crispEdges"/><rect x="1254" y="94" width="2" height="2" fill="#0000ff" shape-rendering="crispEdges"/><rect x="1245" y="94" width="2" height="2" fill="#0000ff" shape-rendering="crispEdges"/><rect x="1241" y="89" width="2" height="2" fill="#0000ff" shape-rendering="crispEdges"/><rect x="1243.5" y="108.5" width="19" height="17" fill="none" stroke="#0b6cb4" stroke-width="1.4"/><circle cx="1252" cy="147.5" r="8.6" fill="none" stroke="#0b6cb4" stroke-width="1.3"/><path d="M1247.5 168.5H1257.8L1260.5 171V174.5L1257.8 178L1247.5 184.6L1242.8 183.8L1241.2 180.7V174.3L1243.2 170.3Z" fill="none" stroke="#2038ff" stroke-width="1.1"/><path d="M1247.2 171.6H1256.2L1256.6 173.1L1253.8 176.3L1246 180.7L1244.4 179.1V175.5Z" fill="none" stroke="#10a080" stroke-width="1.1"/><path d="M1245.5 198V217M1251.5 198V217M1241 203.5H1261M1241 208.5H1261" stroke="#0b6cb4" stroke-width="1.4" fill="none"/><circle cx="1248.5" cy="234.5" r="7.2" fill="#fff" stroke="#7f7f7f" stroke-width="2.4"/><path d="M1254.6 240.5L1262.3 247.7" stroke="#7f7f7f" stroke-width="4.6" fill="none"/><path d="M1244.2 234.5H1252.8" stroke="#7f7f7f" stroke-width="2.6" fill="none"/><path d="M1248.5 230.2V238.8" stroke="#7f7f7f" stroke-width="2.6" fill="none"/><circle cx="1248.5" cy="264.5" r="7.2" fill="#fff" stroke="#7f7f7f" stroke-width="2.4"/><path d="M1254.6 270.5L1262.3 277.7" stroke="#7f7f7f" stroke-width="4.6" fill="none"/><path d="M1244.2 264.5H1252.8" stroke="#7f7f7f" stroke-width="2.6" fill="none"/><text x="1241" y="303.5" font-size="18" fill="#0b6cb4" stroke="#0b6cb4" stroke-width="0.5" textLength="19" lengthAdjust="spacingAndGlyphs">G1</text><rect x="1239" y="316" width="27" height="1" fill="#a0a0a0"/><path d="M1241.2 329H1262.2L1251.7 341.3Z" fill="#0b6cb4"/><rect x="1243.5" y="360" width="16" height="3.6" fill="#1282a2"/>
</svg>
<div class="pb" style="left:11px;top:379px">Q</div><div class="pb" style="left:44px;top:379px">3D</div>
<div class="pb" style="left:435px;top:379px">Q</div><div class="pb" style="left:468px;top:379px">3D</div>
<div class="pb" style="left:867px;top:379px">Q</div><div class="pb" style="left:900px;top:379px">3D</div>
</body></html>
